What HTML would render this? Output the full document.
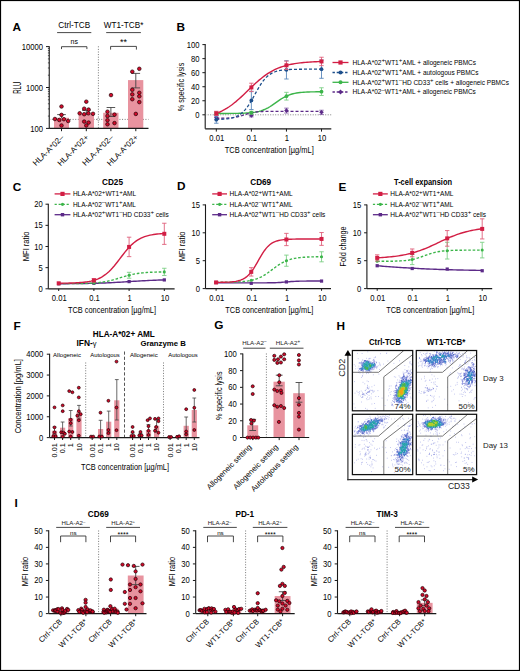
<!DOCTYPE html>
<html><head><meta charset="utf-8"><title>figure</title>
<style>html,body{margin:0;padding:0;background:#fff;width:520px;height:671px;overflow:hidden}
text{font-family:"Liberation Sans", sans-serif}</style></head>
<body>
<svg width="520" height="671" viewBox="0 0 520 671" font-family='"Liberation Sans", sans-serif' style="display:block">
<rect x="0" y="0" width="520" height="671" fill="#fff"/>
<rect x="0.5" y="0.5" width="519" height="670" fill="none" stroke="#000" stroke-width="1.2"/>
<text x="12.6" y="30.5" font-size="11.8" font-weight="bold" fill="#000">A</text>
<text x="74.2" y="27.6" font-size="8.2" text-anchor="middle">Ctrl-TCB</text>
<line x1="57.1" y1="32.6" x2="91.3" y2="32.6" stroke="#333" stroke-width="0.9"/>
<text x="123.6" y="27.6" font-size="8.2" text-anchor="middle">WT1-TCB*</text>
<line x1="106.2" y1="32.6" x2="140.9" y2="32.6" stroke="#333" stroke-width="0.9"/>
<line x1="49.25" y1="46.2" x2="49.25" y2="128.4" stroke="#1a1a1a" stroke-width="1.1"/>
<line x1="47.9" y1="116.09" x2="49.25" y2="116.09" stroke="#1a1a1a" stroke-width="0.7"/>
<line x1="47.9" y1="108.89" x2="49.25" y2="108.89" stroke="#1a1a1a" stroke-width="0.7"/>
<line x1="47.9" y1="103.78" x2="49.25" y2="103.78" stroke="#1a1a1a" stroke-width="0.7"/>
<line x1="47.9" y1="99.81" x2="49.25" y2="99.81" stroke="#1a1a1a" stroke-width="0.7"/>
<line x1="47.9" y1="96.57" x2="49.25" y2="96.57" stroke="#1a1a1a" stroke-width="0.7"/>
<line x1="47.9" y1="93.84" x2="49.25" y2="93.84" stroke="#1a1a1a" stroke-width="0.7"/>
<line x1="47.9" y1="91.46" x2="49.25" y2="91.46" stroke="#1a1a1a" stroke-width="0.7"/>
<line x1="47.9" y1="89.37" x2="49.25" y2="89.37" stroke="#1a1a1a" stroke-width="0.7"/>
<line x1="47.9" y1="75.19" x2="49.25" y2="75.19" stroke="#1a1a1a" stroke-width="0.7"/>
<line x1="47.9" y1="67.99" x2="49.25" y2="67.99" stroke="#1a1a1a" stroke-width="0.7"/>
<line x1="47.9" y1="62.88" x2="49.25" y2="62.88" stroke="#1a1a1a" stroke-width="0.7"/>
<line x1="47.9" y1="58.91" x2="49.25" y2="58.91" stroke="#1a1a1a" stroke-width="0.7"/>
<line x1="47.9" y1="55.67" x2="49.25" y2="55.67" stroke="#1a1a1a" stroke-width="0.7"/>
<line x1="47.9" y1="52.94" x2="49.25" y2="52.94" stroke="#1a1a1a" stroke-width="0.7"/>
<line x1="47.9" y1="50.56" x2="49.25" y2="50.56" stroke="#1a1a1a" stroke-width="0.7"/>
<line x1="47.9" y1="48.47" x2="49.25" y2="48.47" stroke="#1a1a1a" stroke-width="0.7"/>
<line x1="46" y1="46.6" x2="49.25" y2="46.6" stroke="#1a1a1a" stroke-width="1"/>
<text x="43" y="49.9" font-size="8.5" text-anchor="end" textLength="21.27" lengthAdjust="spacingAndGlyphs">10000</text>
<line x1="46" y1="87.5" x2="49.25" y2="87.5" stroke="#1a1a1a" stroke-width="1"/>
<text x="43" y="90.8" font-size="8.5" text-anchor="end" textLength="17.02" lengthAdjust="spacingAndGlyphs">1000</text>
<line x1="46" y1="128.4" x2="49.25" y2="128.4" stroke="#1a1a1a" stroke-width="1"/>
<text x="43" y="131.7" font-size="8.5" text-anchor="end" textLength="12.76" lengthAdjust="spacingAndGlyphs">100</text>
<text x="21" y="87.7" font-size="10" text-anchor="middle" textLength="12.2" lengthAdjust="spacingAndGlyphs" transform="rotate(-90 21 87.7)">RLU</text>
<line x1="49.25" y1="119.4" x2="148.5" y2="119.4" stroke="#555" stroke-width="0.8" stroke-dasharray="1,1.6"/>
<line x1="98.4" y1="46.3" x2="98.4" y2="128.4" stroke="#555" stroke-width="0.8" stroke-dasharray="1,1.6"/>
<circle cx="98.4" cy="119.4" r="1.1" fill="#fff" stroke="#777" stroke-width="0.5"/>
<rect x="54" y="117.8" width="15" height="10.6" fill="#e8939f"/>
<rect x="78.6" y="114" width="15.4" height="14.4" fill="#e8939f"/>
<rect x="103.2" y="112.8" width="15.3" height="15.6" fill="#e8939f"/>
<rect x="128" y="80.1" width="15.3" height="48.3" fill="#e8939f"/>
<line x1="61.5" y1="114.6" x2="61.5" y2="118" stroke="#444444" stroke-width="0.9"/>
<line x1="57.2" y1="114.6" x2="65.8" y2="114.6" stroke="#444444" stroke-width="0.9"/>
<line x1="86.3" y1="110.3" x2="86.3" y2="115" stroke="#444444" stroke-width="0.9"/>
<line x1="82" y1="110.3" x2="90.6" y2="110.3" stroke="#444444" stroke-width="0.9"/>
<line x1="110.9" y1="107.5" x2="110.9" y2="116.5" stroke="#444444" stroke-width="0.9"/>
<line x1="106.6" y1="107.5" x2="115.2" y2="107.5" stroke="#444444" stroke-width="0.9"/>
<line x1="106.6" y1="116.5" x2="115.2" y2="116.5" stroke="#444444" stroke-width="0.9"/>
<line x1="135.8" y1="73.4" x2="135.8" y2="87.9" stroke="#444444" stroke-width="0.9"/>
<line x1="131.5" y1="73.4" x2="140.1" y2="73.4" stroke="#444444" stroke-width="0.9"/>
<line x1="131.5" y1="87.9" x2="140.1" y2="87.9" stroke="#444444" stroke-width="0.9"/>
<line x1="49.25" y1="128.4" x2="148.5" y2="128.4" stroke="#1a1a1a" stroke-width="1.2"/>
<line x1="61.5" y1="128.4" x2="61.5" y2="131.2" stroke="#1a1a1a" stroke-width="1"/>
<line x1="86.3" y1="128.4" x2="86.3" y2="131.2" stroke="#1a1a1a" stroke-width="1"/>
<line x1="110.9" y1="128.4" x2="110.9" y2="131.2" stroke="#1a1a1a" stroke-width="1"/>
<line x1="135.8" y1="128.4" x2="135.8" y2="131.2" stroke="#1a1a1a" stroke-width="1"/>
<g fill="#d20a2a" stroke="#220004" stroke-width="0.7">
<circle cx="61.5" cy="106.5" r="1.8"/>
<circle cx="61.5" cy="114.9" r="1.8"/>
<circle cx="54.9" cy="119" r="1.8"/>
<circle cx="59.3" cy="120" r="1.8"/>
<circle cx="63.9" cy="119.2" r="1.8"/>
<circle cx="68.2" cy="121" r="1.8"/>
<circle cx="61.5" cy="125.5" r="1.8"/>
<circle cx="86.3" cy="101.7" r="1.8"/>
<circle cx="84.2" cy="108.7" r="1.8"/>
<circle cx="88.6" cy="109.6" r="1.8"/>
<circle cx="79.7" cy="113.3" r="1.8"/>
<circle cx="84.2" cy="114.2" r="1.8"/>
<circle cx="88.4" cy="113.3" r="1.8"/>
<circle cx="93" cy="113.8" r="1.8"/>
<circle cx="84.2" cy="121.6" r="1.8"/>
<circle cx="88.6" cy="122.6" r="1.8"/>
<circle cx="86.3" cy="125.5" r="1.8"/>
<circle cx="111" cy="95.1" r="1.8"/>
<circle cx="107.5" cy="111.7" r="1.8"/>
<circle cx="107.5" cy="116" r="1.8"/>
<circle cx="114.5" cy="114.6" r="1.8"/>
<circle cx="107.5" cy="120.2" r="1.8"/>
<circle cx="107.5" cy="124.3" r="1.8"/>
<circle cx="114.5" cy="123.1" r="1.8"/>
<circle cx="139.3" cy="68.8" r="1.8"/>
<circle cx="132.3" cy="71.7" r="1.8"/>
<circle cx="132.3" cy="89.8" r="1.8"/>
<circle cx="139.3" cy="92.8" r="1.8"/>
<circle cx="132.3" cy="94.4" r="1.8"/>
<circle cx="139.3" cy="96.3" r="1.8"/>
<circle cx="132.3" cy="99.2" r="1.8"/>
<circle cx="139.3" cy="102.1" r="1.8"/>
<circle cx="135.8" cy="113.9" r="1.8"/>
</g>
<path d="M61.5 49.1V46.7H86.9V49.1" fill="none" stroke="#333" stroke-width="0.9"/>
<text x="74.2" y="44.4" font-size="7" text-anchor="middle">ns</text>
<path d="M110.6 49.6V46.4H136.4V49.6" fill="none" stroke="#333" stroke-width="0.9"/>
<text x="123.5" y="44.5" font-size="9" text-anchor="middle">**</text>
<text x="64.4" y="138" font-size="8" text-anchor="end" transform="rotate(-45 64.4 138)">HLA-A*02–</text>
<text x="89.2" y="138" font-size="8" text-anchor="end" transform="rotate(-45 89.2 138)">HLA-A*02+</text>
<text x="113.8" y="138" font-size="8" text-anchor="end" transform="rotate(-45 113.8 138)">HLA-A*02–</text>
<text x="138.7" y="138" font-size="8" text-anchor="end" transform="rotate(-45 138.7 138)">HLA-A*02+</text>
<text x="176.4" y="30.6" font-size="11.8" font-weight="bold" fill="#000">B</text>
<line x1="205.2" y1="44.1" x2="205.2" y2="128.8" stroke="#1a1a1a" stroke-width="1.1"/>
<line x1="202.4" y1="44.6" x2="205.2" y2="44.6" stroke="#1a1a1a" stroke-width="1"/>
<text x="199.6" y="47.6" font-size="8.5" text-anchor="end" textLength="12.76" lengthAdjust="spacingAndGlyphs">100</text>
<line x1="202.4" y1="58.64" x2="205.2" y2="58.64" stroke="#1a1a1a" stroke-width="1"/>
<text x="199.6" y="61.64" font-size="8.5" text-anchor="end" textLength="8.51" lengthAdjust="spacingAndGlyphs">80</text>
<line x1="202.4" y1="72.68" x2="205.2" y2="72.68" stroke="#1a1a1a" stroke-width="1"/>
<text x="199.6" y="75.68" font-size="8.5" text-anchor="end" textLength="8.51" lengthAdjust="spacingAndGlyphs">60</text>
<line x1="202.4" y1="86.72" x2="205.2" y2="86.72" stroke="#1a1a1a" stroke-width="1"/>
<text x="199.6" y="89.72" font-size="8.5" text-anchor="end" textLength="8.51" lengthAdjust="spacingAndGlyphs">40</text>
<line x1="202.4" y1="100.76" x2="205.2" y2="100.76" stroke="#1a1a1a" stroke-width="1"/>
<text x="199.6" y="103.76" font-size="8.5" text-anchor="end" textLength="8.51" lengthAdjust="spacingAndGlyphs">20</text>
<line x1="202.4" y1="114.8" x2="205.2" y2="114.8" stroke="#1a1a1a" stroke-width="1"/>
<text x="199.6" y="117.8" font-size="8.5" text-anchor="end" textLength="4.25" lengthAdjust="spacingAndGlyphs">0</text>
<line x1="205.2" y1="128.8" x2="331.3" y2="128.8" stroke="#1a1a1a" stroke-width="1.2"/>
<line x1="216.3" y1="128.8" x2="216.3" y2="131.6" stroke="#1a1a1a" stroke-width="1"/>
<line x1="251.37" y1="128.8" x2="251.37" y2="131.6" stroke="#1a1a1a" stroke-width="1"/>
<line x1="286.44" y1="128.8" x2="286.44" y2="131.6" stroke="#1a1a1a" stroke-width="1"/>
<line x1="321.51" y1="128.8" x2="321.51" y2="131.6" stroke="#1a1a1a" stroke-width="1"/>
<text x="216.7" y="141" font-size="8.5" text-anchor="middle" textLength="14.89" lengthAdjust="spacingAndGlyphs">0.01</text>
<text x="251.77" y="141" font-size="8.5" text-anchor="middle" textLength="10.63" lengthAdjust="spacingAndGlyphs">0.1</text>
<text x="286.84" y="141" font-size="8.5" text-anchor="middle" textLength="4.25" lengthAdjust="spacingAndGlyphs">1</text>
<text x="321.91" y="141" font-size="8.5" text-anchor="middle" textLength="8.51" lengthAdjust="spacingAndGlyphs">10</text>
<text x="269.3" y="153.4" font-size="9.3" text-anchor="middle" textLength="89" lengthAdjust="spacingAndGlyphs">TCB concentration [µg/mL]</text>
<text x="183.8" y="87" font-size="8.6" text-anchor="middle" textLength="48.5" lengthAdjust="spacingAndGlyphs" transform="rotate(-90 183.8 87)">% specific lysis</text>
<line x1="205.2" y1="114.8" x2="332" y2="114.8" stroke="#666" stroke-width="0.8" stroke-dasharray="1,1.5"/>
<polyline points="216.3,113.47 218.08,113.47 219.87,113.46 221.65,113.46 223.43,113.46 225.22,113.45 227,113.44 228.78,113.43 230.57,113.42 232.35,113.41 234.13,113.39 235.92,113.37 237.7,113.34 239.48,113.3 241.27,113.25 243.05,113.19 244.83,113.12 246.61,113.02 248.4,112.91 250.18,112.76 251.96,112.58 253.75,112.35 255.53,112.08 257.31,111.74 259.1,111.32 260.88,110.82 262.66,110.23 264.45,109.52 266.23,108.71 268.01,107.78 269.8,106.74 271.58,105.61 273.36,104.4 275.15,103.14 276.93,101.86 278.71,100.61 280.5,99.4 282.28,98.28 284.06,97.26 285.85,96.34 287.63,95.54 289.41,94.86 291.2,94.27 292.98,93.78 294.76,93.38 296.54,93.05 298.33,92.78 300.11,92.56 301.89,92.38 303.68,92.24 305.46,92.13 307.24,92.04 309.03,91.97 310.81,91.91 312.59,91.86 314.38,91.83 316.16,91.8 317.94,91.78 319.73,91.76 321.51,91.74" fill="none" stroke="#3cb54a" stroke-width="1.4"/>
<polyline points="216.3,118.28 218.08,118.27 219.87,118.25 221.65,118.23 223.43,118.2 225.22,118.15 227,118.09 228.78,118 230.57,117.87 232.35,117.71 234.13,117.48 235.92,117.19 237.7,116.82 239.48,116.37 241.27,115.84 243.05,115.25 244.83,114.64 246.61,114.03 248.4,113.47 250.18,112.98 251.96,112.57 253.75,112.24 255.53,111.99 257.31,111.8 259.1,111.65 260.88,111.55 262.66,111.48 264.45,111.42 266.23,111.38 268.01,111.36 269.8,111.34 271.58,111.32 273.36,111.31 275.15,111.31 276.93,111.3 278.71,111.3 280.5,111.3 282.28,111.29 284.06,111.29 285.85,111.29 287.63,111.29 289.41,111.29 291.2,111.29 292.98,111.29 294.76,111.29 296.54,111.29 298.33,111.29 300.11,111.29 301.89,111.29 303.68,111.29 305.46,111.29 307.24,111.29 309.03,111.29 310.81,111.29 312.59,111.29 314.38,111.29 316.16,111.29 317.94,111.29 319.73,111.29 321.51,111.29" fill="none" stroke="#5c2a88" stroke-width="1.3" stroke-dasharray="3,2"/>
<polyline points="216.3,119.52 218.08,119.47 219.87,119.39 221.65,119.3 223.43,119.18 225.22,119.03 227,118.83 228.78,118.57 230.57,118.25 232.35,117.83 234.13,117.31 235.92,116.65 237.7,115.81 239.48,114.78 241.27,113.51 243.05,111.96 244.83,110.12 246.61,107.96 248.4,105.47 250.18,102.7 251.96,99.68 253.75,96.5 255.53,93.25 257.31,90.04 259.1,86.97 260.88,84.12 262.66,81.56 264.45,79.31 266.23,77.38 268.01,75.76 269.8,74.42 271.58,73.33 273.36,72.44 275.15,71.74 276.93,71.18 278.71,70.74 280.5,70.39 282.28,70.12 284.06,69.91 285.85,69.74 287.63,69.61 289.41,69.51 291.2,69.43 292.98,69.37 294.76,69.33 296.54,69.29 298.33,69.26 300.11,69.24 301.89,69.23 303.68,69.21 305.46,69.2 307.24,69.2 309.03,69.19 310.81,69.19 312.59,69.18 314.38,69.18 316.16,69.18 317.94,69.18 319.73,69.17 321.51,69.17" fill="none" stroke="#1d4f8c" stroke-width="1.3" stroke-dasharray="3,2"/>
<polyline points="216.3,113.51 218.08,112.79 219.87,112 221.65,111.15 223.43,110.22 225.22,109.22 227,108.14 228.78,106.98 230.57,105.75 232.35,104.44 234.13,103.05 235.92,101.6 237.7,100.08 239.48,98.5 241.27,96.87 243.05,95.2 244.83,93.5 246.61,91.78 248.4,90.05 250.18,88.33 251.96,86.62 253.75,84.94 255.53,83.29 257.31,81.69 259.1,80.15 260.88,78.67 262.66,77.25 264.45,75.91 266.23,74.65 268.01,73.46 269.8,72.35 271.58,71.32 273.36,70.36 275.15,69.48 276.93,68.66 278.71,67.92 280.5,67.24 282.28,66.62 284.06,66.05 285.85,65.54 287.63,65.08 289.41,64.66 291.2,64.28 292.98,63.94 294.76,63.63 296.54,63.36 298.33,63.11 300.11,62.89 301.89,62.69 303.68,62.51 305.46,62.35 307.24,62.21 309.03,62.08 310.81,61.97 312.59,61.86 314.38,61.77 316.16,61.69 317.94,61.62 319.73,61.56 321.51,61.5" fill="none" stroke="#d21e44" stroke-width="1.4"/>
<line x1="216.3" y1="119.71" x2="216.3" y2="115.5" stroke="#8a66aa" stroke-width="0.9"/>
<line x1="214.1" y1="119.71" x2="218.5" y2="119.71" stroke="#8a66aa" stroke-width="0.9"/>
<line x1="214.1" y1="115.5" x2="218.5" y2="115.5" stroke="#8a66aa" stroke-width="0.9"/>
<line x1="251.37" y1="116.91" x2="251.37" y2="114.1" stroke="#8a66aa" stroke-width="0.9"/>
<line x1="249.17" y1="116.91" x2="253.57" y2="116.91" stroke="#8a66aa" stroke-width="0.9"/>
<line x1="249.17" y1="114.1" x2="253.57" y2="114.1" stroke="#8a66aa" stroke-width="0.9"/>
<line x1="286.44" y1="113.05" x2="286.44" y2="108.13" stroke="#8a66aa" stroke-width="0.9"/>
<line x1="284.24" y1="113.05" x2="288.64" y2="113.05" stroke="#8a66aa" stroke-width="0.9"/>
<line x1="284.24" y1="108.13" x2="288.64" y2="108.13" stroke="#8a66aa" stroke-width="0.9"/>
<line x1="321.51" y1="114.45" x2="321.51" y2="110.24" stroke="#8a66aa" stroke-width="0.9"/>
<line x1="319.31" y1="114.45" x2="323.71" y2="114.45" stroke="#8a66aa" stroke-width="0.9"/>
<line x1="319.31" y1="110.24" x2="323.71" y2="110.24" stroke="#8a66aa" stroke-width="0.9"/>
<path d="M216.3 115.33L218.58 117.61L216.3 119.89L214.02 117.61Z" fill="#5c2a88"/>
<path d="M251.37 113.22L253.65 115.5L251.37 117.78L249.09 115.5Z" fill="#5c2a88"/>
<path d="M286.44 108.31L288.72 110.59L286.44 112.87L284.16 110.59Z" fill="#5c2a88"/>
<path d="M321.51 110.06L323.79 112.34L321.51 114.62L319.23 112.34Z" fill="#5c2a88"/>
<line x1="216.3" y1="114.8" x2="216.3" y2="111.99" stroke="#7ccf85" stroke-width="0.9"/>
<line x1="214.1" y1="114.8" x2="218.5" y2="114.8" stroke="#7ccf85" stroke-width="0.9"/>
<line x1="214.1" y1="111.99" x2="218.5" y2="111.99" stroke="#7ccf85" stroke-width="0.9"/>
<line x1="251.37" y1="114.1" x2="251.37" y2="111.29" stroke="#7ccf85" stroke-width="0.9"/>
<line x1="249.17" y1="114.1" x2="253.57" y2="114.1" stroke="#7ccf85" stroke-width="0.9"/>
<line x1="249.17" y1="111.29" x2="253.57" y2="111.29" stroke="#7ccf85" stroke-width="0.9"/>
<line x1="286.44" y1="100.06" x2="286.44" y2="92.34" stroke="#7ccf85" stroke-width="0.9"/>
<line x1="284.24" y1="100.06" x2="288.64" y2="100.06" stroke="#7ccf85" stroke-width="0.9"/>
<line x1="284.24" y1="92.34" x2="288.64" y2="92.34" stroke="#7ccf85" stroke-width="0.9"/>
<line x1="321.51" y1="95.5" x2="321.51" y2="87.77" stroke="#7ccf85" stroke-width="0.9"/>
<line x1="319.31" y1="95.5" x2="323.71" y2="95.5" stroke="#7ccf85" stroke-width="0.9"/>
<line x1="319.31" y1="87.77" x2="323.71" y2="87.77" stroke="#7ccf85" stroke-width="0.9"/>
<circle cx="216.3" cy="113.4" r="1.9" fill="#3cb54a"/>
<circle cx="251.37" cy="112.69" r="1.9" fill="#3cb54a"/>
<circle cx="286.44" cy="96.2" r="1.9" fill="#3cb54a"/>
<circle cx="321.51" cy="91.63" r="1.9" fill="#3cb54a"/>
<line x1="216.3" y1="123.22" x2="216.3" y2="116.2" stroke="#5a88bb" stroke-width="0.9"/>
<line x1="214.1" y1="123.22" x2="218.5" y2="123.22" stroke="#5a88bb" stroke-width="0.9"/>
<line x1="214.1" y1="116.2" x2="218.5" y2="116.2" stroke="#5a88bb" stroke-width="0.9"/>
<line x1="251.37" y1="109.53" x2="251.37" y2="91.28" stroke="#5a88bb" stroke-width="0.9"/>
<line x1="249.17" y1="109.53" x2="253.57" y2="109.53" stroke="#5a88bb" stroke-width="0.9"/>
<line x1="249.17" y1="91.28" x2="253.57" y2="91.28" stroke="#5a88bb" stroke-width="0.9"/>
<line x1="286.44" y1="79" x2="286.44" y2="60.75" stroke="#5a88bb" stroke-width="0.9"/>
<line x1="284.24" y1="79" x2="288.64" y2="79" stroke="#5a88bb" stroke-width="0.9"/>
<line x1="284.24" y1="60.75" x2="288.64" y2="60.75" stroke="#5a88bb" stroke-width="0.9"/>
<line x1="321.51" y1="78.3" x2="321.51" y2="60.04" stroke="#5a88bb" stroke-width="0.9"/>
<line x1="319.31" y1="78.3" x2="323.71" y2="78.3" stroke="#5a88bb" stroke-width="0.9"/>
<line x1="319.31" y1="60.04" x2="323.71" y2="60.04" stroke="#5a88bb" stroke-width="0.9"/>
<circle cx="216.3" cy="119.71" r="1.9" fill="#1d4f8c"/>
<circle cx="251.37" cy="100.41" r="1.9" fill="#1d4f8c"/>
<circle cx="286.44" cy="69.87" r="1.9" fill="#1d4f8c"/>
<circle cx="321.51" cy="69.17" r="1.9" fill="#1d4f8c"/>
<line x1="216.3" y1="115.5" x2="216.3" y2="111.29" stroke="#e0607a" stroke-width="0.9"/>
<line x1="214.1" y1="115.5" x2="218.5" y2="115.5" stroke="#e0607a" stroke-width="0.9"/>
<line x1="214.1" y1="111.29" x2="218.5" y2="111.29" stroke="#e0607a" stroke-width="0.9"/>
<line x1="251.37" y1="91.63" x2="251.37" y2="83.21" stroke="#e0607a" stroke-width="0.9"/>
<line x1="249.17" y1="91.63" x2="253.57" y2="91.63" stroke="#e0607a" stroke-width="0.9"/>
<line x1="249.17" y1="83.21" x2="253.57" y2="83.21" stroke="#e0607a" stroke-width="0.9"/>
<line x1="286.44" y1="69.52" x2="286.44" y2="61.1" stroke="#e0607a" stroke-width="0.9"/>
<line x1="284.24" y1="69.52" x2="288.64" y2="69.52" stroke="#e0607a" stroke-width="0.9"/>
<line x1="284.24" y1="61.1" x2="288.64" y2="61.1" stroke="#e0607a" stroke-width="0.9"/>
<line x1="321.51" y1="65.66" x2="321.51" y2="57.24" stroke="#e0607a" stroke-width="0.9"/>
<line x1="319.31" y1="65.66" x2="323.71" y2="65.66" stroke="#e0607a" stroke-width="0.9"/>
<line x1="319.31" y1="57.24" x2="323.71" y2="57.24" stroke="#e0607a" stroke-width="0.9"/>
<rect x="214.31" y="111.4" width="3.99" height="3.99" fill="#d21e44"/>
<rect x="249.38" y="85.43" width="3.99" height="3.99" fill="#d21e44"/>
<rect x="284.44" y="63.31" width="3.99" height="3.99" fill="#d21e44"/>
<rect x="319.51" y="59.45" width="3.99" height="3.99" fill="#d21e44"/>
<line x1="332.5" y1="62.5" x2="348.5" y2="62.5" stroke="#d21e44" stroke-width="1.3"/>
<rect x="338.4" y="60.4" width="4.2" height="4.2" fill="#d21e44"/>
<text x="352.5" y="64.84" font-size="6.5">HLA-A*02<tspan font-size="6.17" dy="-2.73">+</tspan><tspan dy="2.73">WT1</tspan><tspan font-size="6.17" dy="-2.73">+</tspan><tspan dy="2.73">AML + allogeneic PBMCs</tspan></text>
<line x1="332.5" y1="72.5" x2="348.5" y2="72.5" stroke="#1d4f8c" stroke-width="1.3" stroke-dasharray="2.4,1.8"/>
<circle cx="340.5" cy="72.5" r="2" fill="#1d4f8c"/>
<text x="352.5" y="74.84" font-size="6.5">HLA-A*02<tspan font-size="6.17" dy="-2.73">+</tspan><tspan dy="2.73">WT1</tspan><tspan font-size="6.17" dy="-2.73">+</tspan><tspan dy="2.73">AML + autologous PBMCs</tspan></text>
<line x1="332.5" y1="82.3" x2="348.5" y2="82.3" stroke="#3cb54a" stroke-width="1.3"/>
<circle cx="340.5" cy="82.3" r="2" fill="#3cb54a"/>
<text x="352.5" y="84.64" font-size="6.5">HLA-A*02<tspan font-size="6.17" dy="-2.73">+</tspan><tspan dy="2.73">WT1</tspan><tspan font-size="6.17" dy="-2.73">–</tspan><tspan dy="2.73">HD CD33<tspan font-size="6.1" dy="-2.7">+</tspan><tspan dy="2.7"> cells + allogeneic PBMCs</tspan></tspan></text>
<line x1="332.5" y1="92" x2="348.5" y2="92" stroke="#5c2a88" stroke-width="1.3" stroke-dasharray="2.4,1.8"/>
<path d="M340.5 89.6L342.9 92L340.5 94.4L338.1 92Z" fill="#5c2a88"/>
<text x="352.5" y="94.34" font-size="6.5">HLA-A*02<tspan font-size="6.17" dy="-2.73">–</tspan><tspan dy="2.73">WT1</tspan><tspan font-size="6.17" dy="-2.73">+</tspan><tspan dy="2.73">AML + allogeneic PBMCs</tspan></text>
<text x="12.8" y="190.6" font-size="11.8" font-weight="bold" fill="#000">C</text>
<line x1="48.3" y1="203.7" x2="48.3" y2="288.8" stroke="#1a1a1a" stroke-width="1.1"/>
<line x1="45.5" y1="288.8" x2="48.3" y2="288.8" stroke="#1a1a1a" stroke-width="1"/>
<text x="42.7" y="291.8" font-size="8.5" text-anchor="end" textLength="4.25" lengthAdjust="spacingAndGlyphs">0</text>
<line x1="45.5" y1="267.65" x2="48.3" y2="267.65" stroke="#1a1a1a" stroke-width="1"/>
<text x="42.7" y="270.65" font-size="8.5" text-anchor="end" textLength="4.25" lengthAdjust="spacingAndGlyphs">5</text>
<line x1="45.5" y1="246.5" x2="48.3" y2="246.5" stroke="#1a1a1a" stroke-width="1"/>
<text x="42.7" y="249.5" font-size="8.5" text-anchor="end" textLength="8.51" lengthAdjust="spacingAndGlyphs">10</text>
<line x1="45.5" y1="225.35" x2="48.3" y2="225.35" stroke="#1a1a1a" stroke-width="1"/>
<text x="42.7" y="228.35" font-size="8.5" text-anchor="end" textLength="8.51" lengthAdjust="spacingAndGlyphs">15</text>
<line x1="45.5" y1="204.2" x2="48.3" y2="204.2" stroke="#1a1a1a" stroke-width="1"/>
<text x="42.7" y="207.2" font-size="8.5" text-anchor="end" textLength="8.51" lengthAdjust="spacingAndGlyphs">20</text>
<line x1="48.3" y1="288.8" x2="174.6" y2="288.8" stroke="#1a1a1a" stroke-width="1.2"/>
<line x1="58.7" y1="288.8" x2="58.7" y2="291" stroke="#1a1a1a" stroke-width="1"/>
<line x1="93.9" y1="288.8" x2="93.9" y2="291" stroke="#1a1a1a" stroke-width="1"/>
<line x1="129.1" y1="288.8" x2="129.1" y2="291" stroke="#1a1a1a" stroke-width="1"/>
<line x1="164.3" y1="288.8" x2="164.3" y2="291" stroke="#1a1a1a" stroke-width="1"/>
<text x="59.3" y="300.8" font-size="8.5" text-anchor="middle" textLength="14.89" lengthAdjust="spacingAndGlyphs">0.01</text>
<text x="94.5" y="300.8" font-size="8.5" text-anchor="middle" textLength="10.63" lengthAdjust="spacingAndGlyphs">0.1</text>
<text x="129.7" y="300.8" font-size="8.5" text-anchor="middle" textLength="4.25" lengthAdjust="spacingAndGlyphs">1</text>
<text x="164.9" y="300.8" font-size="8.5" text-anchor="middle" textLength="8.51" lengthAdjust="spacingAndGlyphs">10</text>
<text x="112" y="312.7" font-size="9.3" text-anchor="middle" textLength="88" lengthAdjust="spacingAndGlyphs">TCB concentration [µg/mL]</text>
<text x="28.6" y="246.4" font-size="9.6" text-anchor="middle" textLength="29.6" lengthAdjust="spacingAndGlyphs" transform="rotate(-90 28.6 246.4)">MFI ratio</text>
<text x="112.5" y="184.6" font-size="8.2" text-anchor="middle" font-weight="bold" fill="#000">CD25</text>
<line x1="54.6" y1="193.9" x2="70.4" y2="193.9" stroke="#d21e44" stroke-width="1.3"/>
<rect x="60.4" y="191.8" width="4.2" height="4.2" fill="#d21e44"/>
<text x="72.9" y="196.24" font-size="6.5">HLA-A*02<tspan font-size="6.17" dy="-2.73">+</tspan><tspan dy="2.73">WT1</tspan><tspan font-size="6.17" dy="-2.73">+</tspan><tspan dy="2.73">AML</tspan></text>
<line x1="54.6" y1="204.3" x2="70.4" y2="204.3" stroke="#3cb54a" stroke-width="1.3" stroke-dasharray="2.2,1.8"/>
<circle cx="62.5" cy="204.3" r="1.6" fill="#3cb54a"/>
<text x="72.9" y="206.64" font-size="6.5">HLA-A*02<tspan font-size="6.17" dy="-2.73">–</tspan><tspan dy="2.73">WT1</tspan><tspan font-size="6.17" dy="-2.73">+</tspan><tspan dy="2.73">AML</tspan></text>
<line x1="54.6" y1="214.7" x2="70.4" y2="214.7" stroke="#5c2a88" stroke-width="1.3"/>
<rect x="60.8" y="213" width="3.4" height="3.4" fill="#5c2a88"/>
<text x="72.9" y="217.04" font-size="6.5">HLA-A*02<tspan font-size="6.17" dy="-2.73">+</tspan><tspan dy="2.73">WT1</tspan><tspan font-size="6.17" dy="-2.73">–</tspan><tspan dy="2.73">HD CD33<tspan font-size="6.1" dy="-2.7">+</tspan><tspan dy="2.7"> cells</tspan></tspan></text>
<polyline points="58.7,283.72 60.49,283.71 62.28,283.71 64.07,283.7 65.86,283.69 67.65,283.68 69.44,283.66 71.23,283.65 73.02,283.64 74.81,283.62 76.6,283.6 78.39,283.58 80.18,283.56 81.97,283.53 83.76,283.51 85.55,283.48 87.34,283.45 89.13,283.41 90.92,283.37 92.71,283.33 94.5,283.29 96.29,283.24 98.08,283.19 99.87,283.13 101.66,283.07 103.45,283 105.24,282.93 107.03,282.86 108.82,282.78 110.61,282.69 112.39,282.6 114.18,282.51 115.97,282.41 117.76,282.31 119.55,282.21 121.34,282.1 123.13,281.99 124.92,281.88 126.71,281.76 128.5,281.65 130.29,281.53 132.08,281.42 133.87,281.31 135.66,281.19 137.45,281.08 139.24,280.98 141.03,280.87 142.82,280.77 144.61,280.68 146.4,280.59 148.19,280.5 149.98,280.42 151.77,280.34 153.56,280.26 155.35,280.2 157.14,280.13 158.93,280.07 160.72,280.02 162.51,279.96 164.3,279.92" fill="none" stroke="#5c2a88" stroke-width="1.4"/>
<polyline points="58.7,283.66 60.49,283.65 62.28,283.65 64.07,283.64 65.86,283.64 67.65,283.63 69.44,283.62 71.23,283.61 73.02,283.59 74.81,283.57 76.6,283.55 78.39,283.53 80.18,283.5 81.97,283.46 83.76,283.42 85.55,283.37 87.34,283.31 89.13,283.24 90.92,283.15 92.71,283.05 94.5,282.93 96.29,282.79 98.08,282.62 99.87,282.43 101.66,282.2 103.45,281.94 105.24,281.64 107.03,281.31 108.82,280.93 110.61,280.52 112.39,280.07 114.18,279.58 115.97,279.06 117.76,278.53 119.55,277.97 121.34,277.42 123.13,276.87 124.92,276.34 126.71,275.82 128.5,275.34 130.29,274.9 132.08,274.49 133.87,274.12 135.66,273.79 137.45,273.5 139.24,273.25 141.03,273.03 142.82,272.84 144.61,272.67 146.4,272.54 148.19,272.42 149.98,272.32 151.77,272.24 153.56,272.17 155.35,272.11 157.14,272.06 158.93,272.02 160.72,271.98 162.51,271.95 164.3,271.93" fill="none" stroke="#3cb54a" stroke-width="1.4" stroke-dasharray="2.6,1.8"/>
<polyline points="58.7,283.21 60.49,283.2 62.28,283.18 64.07,283.15 65.86,283.13 67.65,283.09 69.44,283.05 71.23,283 73.02,282.94 74.81,282.87 76.6,282.78 78.39,282.68 80.18,282.55 81.97,282.4 83.76,282.22 85.55,282 87.34,281.75 89.13,281.44 90.92,281.08 92.71,280.64 94.5,280.13 96.29,279.53 98.08,278.82 99.87,278 101.66,277.04 103.45,275.94 105.24,274.68 107.03,273.26 108.82,271.67 110.61,269.92 112.39,268 114.18,265.94 115.97,263.75 117.76,261.47 119.55,259.14 121.34,256.78 123.13,254.45 124.92,252.19 126.71,250.02 128.5,247.98 130.29,246.09 132.08,244.36 133.87,242.8 135.66,241.41 137.45,240.18 139.24,239.1 141.03,238.17 142.82,237.37 144.61,236.68 146.4,236.09 148.19,235.59 149.98,235.17 151.77,234.82 153.56,234.52 155.35,234.27 157.14,234.06 158.93,233.88 160.72,233.74 162.51,233.62 164.3,233.52" fill="none" stroke="#d21e44" stroke-width="1.4"/>
<rect x="57.09" y="282.11" width="3.23" height="3.23" fill="#5c2a88"/>
<rect x="92.29" y="281.69" width="3.23" height="3.23" fill="#5c2a88"/>
<rect x="127.49" y="279.99" width="3.23" height="3.23" fill="#5c2a88"/>
<rect x="162.69" y="278.3" width="3.23" height="3.23" fill="#5c2a88"/>
<line x1="129.1" y1="278.23" x2="129.1" y2="272.3" stroke="#7ccf85" stroke-width="0.9"/>
<line x1="126.9" y1="278.23" x2="131.3" y2="278.23" stroke="#7ccf85" stroke-width="0.9"/>
<line x1="126.9" y1="272.3" x2="131.3" y2="272.3" stroke="#7ccf85" stroke-width="0.9"/>
<line x1="164.3" y1="275.48" x2="164.3" y2="268.28" stroke="#7ccf85" stroke-width="0.9"/>
<line x1="162.1" y1="275.48" x2="166.5" y2="275.48" stroke="#7ccf85" stroke-width="0.9"/>
<line x1="162.1" y1="268.28" x2="166.5" y2="268.28" stroke="#7ccf85" stroke-width="0.9"/>
<circle cx="58.7" cy="283.72" r="1.52" fill="#3cb54a"/>
<circle cx="93.9" cy="282.88" r="1.52" fill="#3cb54a"/>
<circle cx="129.1" cy="275.26" r="1.52" fill="#3cb54a"/>
<circle cx="164.3" cy="271.88" r="1.52" fill="#3cb54a"/>
<line x1="93.9" y1="282.03" x2="93.9" y2="278.65" stroke="#e0607a" stroke-width="0.9"/>
<line x1="91.7" y1="282.03" x2="96.1" y2="282.03" stroke="#e0607a" stroke-width="0.9"/>
<line x1="91.7" y1="278.65" x2="96.1" y2="278.65" stroke="#e0607a" stroke-width="0.9"/>
<line x1="129.1" y1="256.65" x2="129.1" y2="237.19" stroke="#e0607a" stroke-width="0.9"/>
<line x1="126.9" y1="256.65" x2="131.3" y2="256.65" stroke="#e0607a" stroke-width="0.9"/>
<line x1="126.9" y1="237.19" x2="131.3" y2="237.19" stroke="#e0607a" stroke-width="0.9"/>
<line x1="164.3" y1="244.38" x2="164.3" y2="223.24" stroke="#e0607a" stroke-width="0.9"/>
<line x1="162.1" y1="244.38" x2="166.5" y2="244.38" stroke="#e0607a" stroke-width="0.9"/>
<line x1="162.1" y1="223.24" x2="166.5" y2="223.24" stroke="#e0607a" stroke-width="0.9"/>
<rect x="56.71" y="281.31" width="3.99" height="3.99" fill="#d21e44"/>
<rect x="91.91" y="278.35" width="3.99" height="3.99" fill="#d21e44"/>
<rect x="127.11" y="244.93" width="3.99" height="3.99" fill="#d21e44"/>
<rect x="162.31" y="231.81" width="3.99" height="3.99" fill="#d21e44"/>
<text x="176.9" y="190.2" font-size="11.8" font-weight="bold" fill="#000">D</text>
<line x1="205.5" y1="204.4" x2="205.5" y2="288.6" stroke="#1a1a1a" stroke-width="1.1"/>
<line x1="202.7" y1="288.6" x2="205.5" y2="288.6" stroke="#1a1a1a" stroke-width="1"/>
<text x="199.9" y="291.6" font-size="8.5" text-anchor="end" textLength="4.25" lengthAdjust="spacingAndGlyphs">0</text>
<line x1="202.7" y1="260.7" x2="205.5" y2="260.7" stroke="#1a1a1a" stroke-width="1"/>
<text x="199.9" y="263.7" font-size="8.5" text-anchor="end" textLength="4.25" lengthAdjust="spacingAndGlyphs">5</text>
<line x1="202.7" y1="232.8" x2="205.5" y2="232.8" stroke="#1a1a1a" stroke-width="1"/>
<text x="199.9" y="235.8" font-size="8.5" text-anchor="end" textLength="8.51" lengthAdjust="spacingAndGlyphs">10</text>
<line x1="202.7" y1="204.9" x2="205.5" y2="204.9" stroke="#1a1a1a" stroke-width="1"/>
<text x="199.9" y="207.9" font-size="8.5" text-anchor="end" textLength="8.51" lengthAdjust="spacingAndGlyphs">15</text>
<line x1="205.5" y1="288.6" x2="331" y2="288.6" stroke="#1a1a1a" stroke-width="1.2"/>
<line x1="216.1" y1="288.6" x2="216.1" y2="290.8" stroke="#1a1a1a" stroke-width="1"/>
<line x1="251.25" y1="288.6" x2="251.25" y2="290.8" stroke="#1a1a1a" stroke-width="1"/>
<line x1="286.4" y1="288.6" x2="286.4" y2="290.8" stroke="#1a1a1a" stroke-width="1"/>
<line x1="321.55" y1="288.6" x2="321.55" y2="290.8" stroke="#1a1a1a" stroke-width="1"/>
<text x="216.7" y="300.8" font-size="8.5" text-anchor="middle" textLength="14.89" lengthAdjust="spacingAndGlyphs">0.01</text>
<text x="251.85" y="300.8" font-size="8.5" text-anchor="middle" textLength="10.63" lengthAdjust="spacingAndGlyphs">0.1</text>
<text x="287" y="300.8" font-size="8.5" text-anchor="middle" textLength="4.25" lengthAdjust="spacingAndGlyphs">1</text>
<text x="322.15" y="300.8" font-size="8.5" text-anchor="middle" textLength="8.51" lengthAdjust="spacingAndGlyphs">10</text>
<text x="269.32" y="312.7" font-size="9.3" text-anchor="middle" textLength="88" lengthAdjust="spacingAndGlyphs">TCB concentration [µg/mL]</text>
<text x="185.5" y="246.4" font-size="9.6" text-anchor="middle" textLength="29.6" lengthAdjust="spacingAndGlyphs" transform="rotate(-90 185.5 246.4)">MFI ratio</text>
<text x="260.7" y="184.6" font-size="8.2" text-anchor="middle" font-weight="bold" fill="#000">CD69</text>
<line x1="212.2" y1="193.9" x2="227" y2="193.9" stroke="#d21e44" stroke-width="1.3"/>
<rect x="217.5" y="191.8" width="4.2" height="4.2" fill="#d21e44"/>
<text x="229.5" y="196.24" font-size="6.5">HLA-A*02<tspan font-size="6.17" dy="-2.73">+</tspan><tspan dy="2.73">WT1</tspan><tspan font-size="6.17" dy="-2.73">+</tspan><tspan dy="2.73">AML</tspan></text>
<line x1="212.2" y1="204.3" x2="227" y2="204.3" stroke="#3cb54a" stroke-width="1.3" stroke-dasharray="2.2,1.8"/>
<circle cx="219.6" cy="204.3" r="1.6" fill="#3cb54a"/>
<text x="229.5" y="206.64" font-size="6.5">HLA-A*02<tspan font-size="6.17" dy="-2.73">–</tspan><tspan dy="2.73">WT1</tspan><tspan font-size="6.17" dy="-2.73">+</tspan><tspan dy="2.73">AML</tspan></text>
<line x1="212.2" y1="214.7" x2="227" y2="214.7" stroke="#5c2a88" stroke-width="1.3"/>
<rect x="217.9" y="213" width="3.4" height="3.4" fill="#5c2a88"/>
<text x="229.5" y="217.04" font-size="6.5">HLA-A*02<tspan font-size="6.17" dy="-2.73">+</tspan><tspan dy="2.73">WT1</tspan><tspan font-size="6.17" dy="-2.73">–</tspan><tspan dy="2.73">HD CD33<tspan font-size="6.1" dy="-2.7">+</tspan><tspan dy="2.7"> cells</tspan></tspan></text>
<polyline points="216.1,282.87 217.89,282.87 219.67,282.87 221.46,282.87 223.25,282.87 225.04,282.87 226.82,282.87 228.61,282.87 230.4,282.87 232.19,282.87 233.97,282.87 235.76,282.87 237.55,282.87 239.33,282.87 241.12,282.87 242.91,282.87 244.7,282.87 246.48,282.87 248.27,282.87 250.06,282.87 251.85,282.87 253.63,282.87 255.42,282.86 257.21,282.86 258.99,282.86 260.78,282.86 262.57,282.85 264.36,282.84 266.14,282.84 267.93,282.82 269.72,282.8 271.51,282.78 273.29,282.74 275.08,282.69 276.87,282.63 278.66,282.54 280.44,282.44 282.23,282.31 284.02,282.16 285.8,282.01 287.59,281.85 289.38,281.69 291.17,281.56 292.95,281.44 294.74,281.34 296.53,281.26 298.32,281.2 300.1,281.16 301.89,281.12 303.68,281.1 305.46,281.08 307.25,281.07 309.04,281.06 310.83,281.06 312.61,281.05 314.4,281.05 316.19,281.05 317.98,281.04 319.76,281.04 321.55,281.04" fill="none" stroke="#5c2a88" stroke-width="1.4"/>
<polyline points="216.1,282.32 217.89,282.31 219.67,282.3 221.46,282.29 223.25,282.27 225.04,282.25 226.82,282.23 228.61,282.2 230.4,282.17 232.19,282.13 233.97,282.07 235.76,282.01 237.55,281.93 239.33,281.84 241.12,281.72 242.91,281.57 244.7,281.4 246.48,281.19 248.27,280.93 250.06,280.62 251.85,280.24 253.63,279.8 255.42,279.27 257.21,278.66 258.99,277.94 260.78,277.11 262.57,276.18 264.36,275.14 266.14,274 267.93,272.77 269.72,271.47 271.51,270.13 273.29,268.78 275.08,267.44 276.87,266.15 278.66,264.93 280.44,263.79 282.23,262.76 284.02,261.83 285.8,261.01 287.59,260.3 289.38,259.69 291.17,259.17 292.95,258.73 294.74,258.36 296.53,258.05 298.32,257.8 300.1,257.59 301.89,257.42 303.68,257.27 305.46,257.16 307.25,257.06 309.04,256.99 310.83,256.92 312.61,256.87 314.4,256.83 316.19,256.8 317.98,256.77 319.76,256.75 321.55,256.73" fill="none" stroke="#3cb54a" stroke-width="1.4" stroke-dasharray="2.6,1.8"/>
<polyline points="216.1,282.37 217.89,282.36 219.67,282.34 221.46,282.31 223.25,282.27 225.04,282.23 226.82,282.16 228.61,282.08 230.4,281.97 232.19,281.82 233.97,281.62 235.76,281.35 237.55,281.01 239.33,280.55 241.12,279.95 242.91,279.17 244.7,278.18 246.48,276.92 248.27,275.35 250.06,273.45 251.85,271.19 253.63,268.59 255.42,265.69 257.21,262.6 258.99,259.43 260.78,256.31 262.57,253.37 264.36,250.71 266.14,248.38 267.93,246.4 269.72,244.77 271.51,243.45 273.29,242.41 275.08,241.59 276.87,240.96 278.66,240.48 280.44,240.11 282.23,239.83 284.02,239.62 285.8,239.46 287.59,239.34 289.38,239.25 291.17,239.18 292.95,239.13 294.74,239.1 296.53,239.07 298.32,239.05 300.1,239.03 301.89,239.02 303.68,239.01 305.46,239.01 307.25,239 309.04,239 310.83,238.99 312.61,238.99 314.4,238.99 316.19,238.99 317.98,238.99 319.76,238.99 321.55,238.99" fill="none" stroke="#d21e44" stroke-width="1.4"/>
<rect x="214.48" y="280.85" width="3.23" height="3.23" fill="#5c2a88"/>
<rect x="249.63" y="281.68" width="3.23" height="3.23" fill="#5c2a88"/>
<rect x="284.78" y="280.29" width="3.23" height="3.23" fill="#5c2a88"/>
<rect x="319.93" y="279.45" width="3.23" height="3.23" fill="#5c2a88"/>
<line x1="286.4" y1="266.28" x2="286.4" y2="255.12" stroke="#7ccf85" stroke-width="0.9"/>
<line x1="284.2" y1="266.28" x2="288.6" y2="266.28" stroke="#7ccf85" stroke-width="0.9"/>
<line x1="284.2" y1="255.12" x2="288.6" y2="255.12" stroke="#7ccf85" stroke-width="0.9"/>
<line x1="321.55" y1="261.82" x2="321.55" y2="251.77" stroke="#7ccf85" stroke-width="0.9"/>
<line x1="319.35" y1="261.82" x2="323.75" y2="261.82" stroke="#7ccf85" stroke-width="0.9"/>
<line x1="319.35" y1="251.77" x2="323.75" y2="251.77" stroke="#7ccf85" stroke-width="0.9"/>
<circle cx="216.1" cy="282.46" r="1.52" fill="#3cb54a"/>
<circle cx="251.25" cy="280.23" r="1.52" fill="#3cb54a"/>
<circle cx="286.4" cy="260.7" r="1.52" fill="#3cb54a"/>
<circle cx="321.55" cy="256.79" r="1.52" fill="#3cb54a"/>
<line x1="251.25" y1="276.05" x2="251.25" y2="267.68" stroke="#e0607a" stroke-width="0.9"/>
<line x1="249.05" y1="276.05" x2="253.45" y2="276.05" stroke="#e0607a" stroke-width="0.9"/>
<line x1="249.05" y1="267.68" x2="253.45" y2="267.68" stroke="#e0607a" stroke-width="0.9"/>
<line x1="286.4" y1="245.63" x2="286.4" y2="233.36" stroke="#e0607a" stroke-width="0.9"/>
<line x1="284.2" y1="245.63" x2="288.6" y2="245.63" stroke="#e0607a" stroke-width="0.9"/>
<line x1="284.2" y1="233.36" x2="288.6" y2="233.36" stroke="#e0607a" stroke-width="0.9"/>
<line x1="321.55" y1="245.36" x2="321.55" y2="232.52" stroke="#e0607a" stroke-width="0.9"/>
<line x1="319.35" y1="245.36" x2="323.75" y2="245.36" stroke="#e0607a" stroke-width="0.9"/>
<line x1="319.35" y1="232.52" x2="323.75" y2="232.52" stroke="#e0607a" stroke-width="0.9"/>
<rect x="214.1" y="280.47" width="3.99" height="3.99" fill="#d21e44"/>
<rect x="249.25" y="269.87" width="3.99" height="3.99" fill="#d21e44"/>
<rect x="284.4" y="237.5" width="3.99" height="3.99" fill="#d21e44"/>
<rect x="319.55" y="236.94" width="3.99" height="3.99" fill="#d21e44"/>
<text x="338.6" y="190.5" font-size="11.8" font-weight="bold" fill="#000">E</text>
<line x1="366.9" y1="204.4" x2="366.9" y2="288.6" stroke="#1a1a1a" stroke-width="1.1"/>
<line x1="364.1" y1="288.6" x2="366.9" y2="288.6" stroke="#1a1a1a" stroke-width="1"/>
<text x="361.3" y="291.6" font-size="8.5" text-anchor="end" textLength="4.25" lengthAdjust="spacingAndGlyphs">0</text>
<line x1="364.1" y1="260.7" x2="366.9" y2="260.7" stroke="#1a1a1a" stroke-width="1"/>
<text x="361.3" y="263.7" font-size="8.5" text-anchor="end" textLength="4.25" lengthAdjust="spacingAndGlyphs">5</text>
<line x1="364.1" y1="232.8" x2="366.9" y2="232.8" stroke="#1a1a1a" stroke-width="1"/>
<text x="361.3" y="235.8" font-size="8.5" text-anchor="end" textLength="8.51" lengthAdjust="spacingAndGlyphs">10</text>
<line x1="364.1" y1="204.9" x2="366.9" y2="204.9" stroke="#1a1a1a" stroke-width="1"/>
<text x="361.3" y="207.9" font-size="8.5" text-anchor="end" textLength="8.51" lengthAdjust="spacingAndGlyphs">15</text>
<line x1="366.9" y1="288.6" x2="492.2" y2="288.6" stroke="#1a1a1a" stroke-width="1.2"/>
<line x1="377.2" y1="288.6" x2="377.2" y2="290.8" stroke="#1a1a1a" stroke-width="1"/>
<line x1="412.2" y1="288.6" x2="412.2" y2="290.8" stroke="#1a1a1a" stroke-width="1"/>
<line x1="447.2" y1="288.6" x2="447.2" y2="290.8" stroke="#1a1a1a" stroke-width="1"/>
<line x1="482.2" y1="288.6" x2="482.2" y2="290.8" stroke="#1a1a1a" stroke-width="1"/>
<text x="377.8" y="300.8" font-size="8.5" text-anchor="middle" textLength="14.89" lengthAdjust="spacingAndGlyphs">0.01</text>
<text x="412.8" y="300.8" font-size="8.5" text-anchor="middle" textLength="10.63" lengthAdjust="spacingAndGlyphs">0.1</text>
<text x="447.8" y="300.8" font-size="8.5" text-anchor="middle" textLength="4.25" lengthAdjust="spacingAndGlyphs">1</text>
<text x="482.8" y="300.8" font-size="8.5" text-anchor="middle" textLength="8.51" lengthAdjust="spacingAndGlyphs">10</text>
<text x="430.2" y="312.7" font-size="9.3" text-anchor="middle" textLength="88" lengthAdjust="spacingAndGlyphs">TCB concentration [µg/mL]</text>
<text x="346.3" y="246.4" font-size="8.8" text-anchor="middle" textLength="40" lengthAdjust="spacingAndGlyphs" transform="rotate(-90 346.3 246.4)">Fold change</text>
<text x="423" y="184.6" font-size="8.2" text-anchor="middle" font-weight="bold" textLength="58" lengthAdjust="spacingAndGlyphs" fill="#000">T-cell expansion</text>
<line x1="372.9" y1="193.9" x2="387.8" y2="193.9" stroke="#d21e44" stroke-width="1.3"/>
<rect x="378.25" y="191.8" width="4.2" height="4.2" fill="#d21e44"/>
<text x="390.2" y="196.24" font-size="6.5">HLA-A*02<tspan font-size="6.17" dy="-2.73">+</tspan><tspan dy="2.73">WT1</tspan><tspan font-size="6.17" dy="-2.73">+</tspan><tspan dy="2.73">AML</tspan></text>
<line x1="372.9" y1="204.3" x2="387.8" y2="204.3" stroke="#3cb54a" stroke-width="1.3" stroke-dasharray="2.2,1.8"/>
<circle cx="380.35" cy="204.3" r="1.6" fill="#3cb54a"/>
<text x="390.2" y="206.64" font-size="6.5">HLA-A*02<tspan font-size="6.17" dy="-2.73">–</tspan><tspan dy="2.73">WT1</tspan><tspan font-size="6.17" dy="-2.73">+</tspan><tspan dy="2.73">AML</tspan></text>
<line x1="372.9" y1="214.7" x2="387.8" y2="214.7" stroke="#5c2a88" stroke-width="1.3"/>
<rect x="378.65" y="213" width="3.4" height="3.4" fill="#5c2a88"/>
<text x="390.2" y="217.04" font-size="6.5">HLA-A*02<tspan font-size="6.17" dy="-2.73">+</tspan><tspan dy="2.73">WT1</tspan><tspan font-size="6.17" dy="-2.73">–</tspan><tspan dy="2.73">HD CD33<tspan font-size="6.1" dy="-2.7">+</tspan><tspan dy="2.7"> cells</tspan></tspan></text>
<polyline points="377.2,265.78 378.98,265.92 380.76,266.06 382.54,266.2 384.32,266.33 386.1,266.47 387.88,266.6 389.66,266.73 391.44,266.86 393.22,266.98 395,267.11 396.78,267.23 398.56,267.35 400.34,267.47 402.12,267.58 403.89,267.7 405.67,267.81 407.45,267.91 409.23,268.02 411.01,268.12 412.79,268.22 414.57,268.32 416.35,268.42 418.13,268.51 419.91,268.6 421.69,268.69 423.47,268.77 425.25,268.85 427.03,268.93 428.81,269.01 430.59,269.09 432.37,269.16 434.15,269.23 435.93,269.3 437.71,269.36 439.49,269.43 441.27,269.49 443.05,269.55 444.83,269.6 446.61,269.66 448.39,269.71 450.17,269.76 451.95,269.81 453.73,269.86 455.51,269.9 457.28,269.95 459.06,269.99 460.84,270.03 462.62,270.07 464.4,270.1 466.18,270.14 467.96,270.17 469.74,270.21 471.52,270.24 473.3,270.27 475.08,270.3 476.86,270.33 478.64,270.35 480.42,270.38 482.2,270.4" fill="none" stroke="#5c2a88" stroke-width="1.4"/>
<polyline points="377.2,261.34 378.98,261.33 380.76,261.32 382.54,261.31 384.32,261.3 386.1,261.29 387.88,261.27 389.66,261.25 391.44,261.22 393.22,261.18 395,261.13 396.78,261.07 398.56,261 400.34,260.91 402.12,260.79 403.89,260.65 405.67,260.48 407.45,260.27 409.23,260.02 411.01,259.72 412.79,259.36 414.57,258.95 416.35,258.48 418.13,257.95 419.91,257.37 421.69,256.75 423.47,256.1 425.25,255.44 427.03,254.79 428.81,254.17 430.59,253.58 432.37,253.05 434.15,252.57 435.93,252.15 437.71,251.79 439.49,251.48 441.27,251.22 443.05,251.01 444.83,250.83 446.61,250.69 448.39,250.58 450.17,250.48 451.95,250.41 453.73,250.35 455.51,250.3 457.28,250.26 459.06,250.23 460.84,250.21 462.62,250.19 464.4,250.17 466.18,250.16 467.96,250.15 469.74,250.14 471.52,250.14 473.3,250.13 475.08,250.13 476.86,250.12 478.64,250.12 480.42,250.12 482.2,250.12" fill="none" stroke="#3cb54a" stroke-width="1.4" stroke-dasharray="2.6,1.8"/>
<polyline points="377.2,257.77 378.98,257.68 380.76,257.58 382.54,257.47 384.32,257.35 386.1,257.22 387.88,257.07 389.66,256.91 391.44,256.73 393.22,256.54 395,256.32 396.78,256.09 398.56,255.84 400.34,255.56 402.12,255.26 403.89,254.93 405.67,254.57 407.45,254.19 409.23,253.77 411.01,253.32 412.79,252.84 414.57,252.33 416.35,251.78 418.13,251.2 419.91,250.58 421.69,249.93 423.47,249.25 425.25,248.53 427.03,247.79 428.81,247.03 430.59,246.24 432.37,245.43 434.15,244.6 435.93,243.77 437.71,242.93 439.49,242.08 441.27,241.24 443.05,240.41 444.83,239.58 446.61,238.78 448.39,237.99 450.17,237.23 451.95,236.49 453.73,235.78 455.51,235.11 457.28,234.46 459.06,233.85 460.84,233.27 462.62,232.73 464.4,232.22 466.18,231.75 467.96,231.31 469.74,230.89 471.52,230.51 473.3,230.16 475.08,229.84 476.86,229.54 478.64,229.27 480.42,229.02 482.2,228.79" fill="none" stroke="#d21e44" stroke-width="1.4"/>
<rect x="375.58" y="264.11" width="3.23" height="3.23" fill="#5c2a88"/>
<rect x="410.58" y="266.9" width="3.23" height="3.23" fill="#5c2a88"/>
<rect x="445.58" y="267.46" width="3.23" height="3.23" fill="#5c2a88"/>
<rect x="480.58" y="269.13" width="3.23" height="3.23" fill="#5c2a88"/>
<line x1="412.2" y1="264.61" x2="412.2" y2="254.56" stroke="#7ccf85" stroke-width="0.9"/>
<line x1="410" y1="264.61" x2="414.4" y2="264.61" stroke="#7ccf85" stroke-width="0.9"/>
<line x1="410" y1="254.56" x2="414.4" y2="254.56" stroke="#7ccf85" stroke-width="0.9"/>
<line x1="447.2" y1="259.03" x2="447.2" y2="242.29" stroke="#7ccf85" stroke-width="0.9"/>
<line x1="445" y1="259.03" x2="449.4" y2="259.03" stroke="#7ccf85" stroke-width="0.9"/>
<line x1="445" y1="242.29" x2="449.4" y2="242.29" stroke="#7ccf85" stroke-width="0.9"/>
<line x1="482.2" y1="257.91" x2="482.2" y2="242.29" stroke="#7ccf85" stroke-width="0.9"/>
<line x1="480" y1="257.91" x2="484.4" y2="257.91" stroke="#7ccf85" stroke-width="0.9"/>
<line x1="480" y1="242.29" x2="484.4" y2="242.29" stroke="#7ccf85" stroke-width="0.9"/>
<circle cx="377.2" cy="261.26" r="1.52" fill="#3cb54a"/>
<circle cx="412.2" cy="259.58" r="1.52" fill="#3cb54a"/>
<circle cx="447.2" cy="250.66" r="1.52" fill="#3cb54a"/>
<circle cx="482.2" cy="250.1" r="1.52" fill="#3cb54a"/>
<line x1="377.2" y1="260.98" x2="377.2" y2="254.84" stroke="#e0607a" stroke-width="0.9"/>
<line x1="375" y1="260.98" x2="379.4" y2="260.98" stroke="#e0607a" stroke-width="0.9"/>
<line x1="375" y1="254.84" x2="379.4" y2="254.84" stroke="#e0607a" stroke-width="0.9"/>
<line x1="412.2" y1="256.79" x2="412.2" y2="248.98" stroke="#e0607a" stroke-width="0.9"/>
<line x1="410" y1="256.79" x2="414.4" y2="256.79" stroke="#e0607a" stroke-width="0.9"/>
<line x1="410" y1="248.98" x2="414.4" y2="248.98" stroke="#e0607a" stroke-width="0.9"/>
<line x1="447.2" y1="246.19" x2="447.2" y2="230.57" stroke="#e0607a" stroke-width="0.9"/>
<line x1="445" y1="246.19" x2="449.4" y2="246.19" stroke="#e0607a" stroke-width="0.9"/>
<line x1="445" y1="230.57" x2="449.4" y2="230.57" stroke="#e0607a" stroke-width="0.9"/>
<line x1="482.2" y1="238.94" x2="482.2" y2="218.85" stroke="#e0607a" stroke-width="0.9"/>
<line x1="480" y1="238.94" x2="484.4" y2="238.94" stroke="#e0607a" stroke-width="0.9"/>
<line x1="480" y1="218.85" x2="484.4" y2="218.85" stroke="#e0607a" stroke-width="0.9"/>
<rect x="375.2" y="255.92" width="3.99" height="3.99" fill="#d21e44"/>
<rect x="410.2" y="250.89" width="3.99" height="3.99" fill="#d21e44"/>
<rect x="445.2" y="236.39" width="3.99" height="3.99" fill="#d21e44"/>
<rect x="480.2" y="226.9" width="3.99" height="3.99" fill="#d21e44"/>
<text x="13.5" y="330" font-size="11.8" font-weight="bold" fill="#000">F</text>
<text x="123.8" y="337.3" font-size="8.2" text-anchor="middle" font-weight="bold" textLength="62" lengthAdjust="spacingAndGlyphs" fill="#000">HLA-A*02+ AML</text>
<text x="84.6" y="346.2" font-size="8.4" text-anchor="middle" font-weight="bold" fill="#000">IFN-</text>
<text x="94.6" y="346.2" font-size="7.5" text-anchor="middle" fill="#000">γ</text>
<text x="163.1" y="346.2" font-size="8" text-anchor="middle" font-weight="bold" textLength="45.4" lengthAdjust="spacingAndGlyphs" fill="#000">Granzyme B</text>
<text x="67" y="356.7" font-size="6.1" text-anchor="middle" textLength="27.8" lengthAdjust="spacingAndGlyphs">Allogeneic</text>
<text x="105" y="356.7" font-size="6.1" text-anchor="middle" textLength="29.4" lengthAdjust="spacingAndGlyphs">Autologous</text>
<text x="143.8" y="356.7" font-size="6.1" text-anchor="middle" textLength="27.8" lengthAdjust="spacingAndGlyphs">Allogeneic</text>
<text x="183" y="356.7" font-size="6.1" text-anchor="middle" textLength="29.4" lengthAdjust="spacingAndGlyphs">Autologous</text>
<line x1="49.6" y1="353.7" x2="49.6" y2="437.6" stroke="#1a1a1a" stroke-width="1.1"/>
<line x1="46.8" y1="354.2" x2="49.6" y2="354.2" stroke="#1a1a1a" stroke-width="1"/>
<text x="43.2" y="357.2" font-size="8.5" text-anchor="end" textLength="17.02" lengthAdjust="spacingAndGlyphs">4000</text>
<line x1="46.8" y1="375.05" x2="49.6" y2="375.05" stroke="#1a1a1a" stroke-width="1"/>
<text x="43.2" y="378.05" font-size="8.5" text-anchor="end" textLength="17.02" lengthAdjust="spacingAndGlyphs">3000</text>
<line x1="46.8" y1="395.9" x2="49.6" y2="395.9" stroke="#1a1a1a" stroke-width="1"/>
<text x="43.2" y="398.9" font-size="8.5" text-anchor="end" textLength="17.02" lengthAdjust="spacingAndGlyphs">2000</text>
<line x1="46.8" y1="416.75" x2="49.6" y2="416.75" stroke="#1a1a1a" stroke-width="1"/>
<text x="43.2" y="419.75" font-size="8.5" text-anchor="end" textLength="17.02" lengthAdjust="spacingAndGlyphs">1000</text>
<line x1="46.8" y1="437.6" x2="49.6" y2="437.6" stroke="#1a1a1a" stroke-width="1"/>
<text x="43.2" y="440.6" font-size="8.5" text-anchor="end" textLength="4.25" lengthAdjust="spacingAndGlyphs">0</text>
<text x="20.8" y="396.2" font-size="8.8" text-anchor="middle" textLength="74.3" lengthAdjust="spacingAndGlyphs" transform="rotate(-90 20.8 396.2)">Concentration [pg/mL]</text>
<line x1="85.7" y1="362.5" x2="85.7" y2="437.6" stroke="#555" stroke-width="0.8" stroke-dasharray="1,1.6"/>
<line x1="124.5" y1="351.5" x2="124.5" y2="437.6" stroke="#444" stroke-width="0.9" stroke-dasharray="3.2,2"/>
<line x1="163.5" y1="362.5" x2="163.5" y2="437.6" stroke="#555" stroke-width="0.8" stroke-dasharray="1,1.6"/>
<rect x="51.9" y="430.8" width="5.2" height="6.8" fill="#e8939f"/>
<rect x="60" y="427.7" width="5.2" height="9.9" fill="#e8939f"/>
<rect x="68.1" y="418.2" width="5.2" height="19.4" fill="#e8939f"/>
<rect x="76.4" y="412.3" width="5.2" height="25.3" fill="#e8939f"/>
<rect x="89.6" y="437" width="5.2" height="0.6" fill="#e8939f"/>
<rect x="98" y="429" width="5.2" height="8.6" fill="#e8939f"/>
<rect x="106.1" y="421.7" width="5.2" height="15.9" fill="#e8939f"/>
<rect x="114.2" y="400.3" width="5.2" height="37.3" fill="#e8939f"/>
<rect x="130" y="435.3" width="5.2" height="2.3" fill="#e8939f"/>
<rect x="137.9" y="435.8" width="5.2" height="1.8" fill="#e8939f"/>
<rect x="145.9" y="430" width="5.2" height="7.6" fill="#e8939f"/>
<rect x="154" y="425.8" width="5.2" height="11.8" fill="#e8939f"/>
<rect x="167.5" y="437.3" width="5.2" height="0.3" fill="#e8939f"/>
<rect x="175.5" y="436.8" width="5.2" height="0.8" fill="#e8939f"/>
<rect x="183.6" y="425.8" width="5.2" height="11.8" fill="#e8939f"/>
<rect x="191.7" y="410" width="5.2" height="27.6" fill="#e8939f"/>
<line x1="54.5" y1="427" x2="54.5" y2="434" stroke="#444444" stroke-width="0.8"/>
<line x1="52.6" y1="427" x2="56.4" y2="427" stroke="#444444" stroke-width="0.8"/>
<line x1="52.6" y1="434" x2="56.4" y2="434" stroke="#444444" stroke-width="0.8"/>
<line x1="62.6" y1="422" x2="62.6" y2="433" stroke="#444444" stroke-width="0.8"/>
<line x1="60.7" y1="422" x2="64.5" y2="422" stroke="#444444" stroke-width="0.8"/>
<line x1="60.7" y1="433" x2="64.5" y2="433" stroke="#444444" stroke-width="0.8"/>
<line x1="70.7" y1="410.5" x2="70.7" y2="426" stroke="#444444" stroke-width="0.8"/>
<line x1="68.8" y1="410.5" x2="72.6" y2="410.5" stroke="#444444" stroke-width="0.8"/>
<line x1="68.8" y1="426" x2="72.6" y2="426" stroke="#444444" stroke-width="0.8"/>
<line x1="79" y1="405.4" x2="79" y2="419" stroke="#444444" stroke-width="0.8"/>
<line x1="77.1" y1="405.4" x2="80.9" y2="405.4" stroke="#444444" stroke-width="0.8"/>
<line x1="77.1" y1="419" x2="80.9" y2="419" stroke="#444444" stroke-width="0.8"/>
<line x1="100.6" y1="420.3" x2="100.6" y2="437" stroke="#444444" stroke-width="0.8"/>
<line x1="98.7" y1="420.3" x2="102.5" y2="420.3" stroke="#444444" stroke-width="0.8"/>
<line x1="98.7" y1="437" x2="102.5" y2="437" stroke="#444444" stroke-width="0.8"/>
<line x1="108.7" y1="411.1" x2="108.7" y2="432" stroke="#444444" stroke-width="0.8"/>
<line x1="106.8" y1="411.1" x2="110.6" y2="411.1" stroke="#444444" stroke-width="0.8"/>
<line x1="106.8" y1="432" x2="110.6" y2="432" stroke="#444444" stroke-width="0.8"/>
<line x1="116.8" y1="379.6" x2="116.8" y2="420" stroke="#444444" stroke-width="0.8"/>
<line x1="114.9" y1="379.6" x2="118.7" y2="379.6" stroke="#444444" stroke-width="0.8"/>
<line x1="114.9" y1="420" x2="118.7" y2="420" stroke="#444444" stroke-width="0.8"/>
<line x1="132.6" y1="433" x2="132.6" y2="437.6" stroke="#444444" stroke-width="0.8"/>
<line x1="130.7" y1="433" x2="134.5" y2="433" stroke="#444444" stroke-width="0.8"/>
<line x1="140.5" y1="433.5" x2="140.5" y2="437.6" stroke="#444444" stroke-width="0.8"/>
<line x1="138.6" y1="433.5" x2="142.4" y2="433.5" stroke="#444444" stroke-width="0.8"/>
<line x1="148.5" y1="424.6" x2="148.5" y2="435" stroke="#444444" stroke-width="0.8"/>
<line x1="146.6" y1="424.6" x2="150.4" y2="424.6" stroke="#444444" stroke-width="0.8"/>
<line x1="146.6" y1="435" x2="150.4" y2="435" stroke="#444444" stroke-width="0.8"/>
<line x1="156.6" y1="418.9" x2="156.6" y2="432" stroke="#444444" stroke-width="0.8"/>
<line x1="154.7" y1="418.9" x2="158.5" y2="418.9" stroke="#444444" stroke-width="0.8"/>
<line x1="154.7" y1="432" x2="158.5" y2="432" stroke="#444444" stroke-width="0.8"/>
<line x1="186.2" y1="417" x2="186.2" y2="434" stroke="#444444" stroke-width="0.8"/>
<line x1="184.3" y1="417" x2="188.1" y2="417" stroke="#444444" stroke-width="0.8"/>
<line x1="184.3" y1="434" x2="188.1" y2="434" stroke="#444444" stroke-width="0.8"/>
<line x1="194.3" y1="398" x2="194.3" y2="422" stroke="#444444" stroke-width="0.8"/>
<line x1="192.4" y1="398" x2="196.2" y2="398" stroke="#444444" stroke-width="0.8"/>
<line x1="192.4" y1="422" x2="196.2" y2="422" stroke="#444444" stroke-width="0.8"/>
<line x1="49.6" y1="437.6" x2="199.5" y2="437.6" stroke="#1a1a1a" stroke-width="1.2"/>
<line x1="54.5" y1="437.6" x2="54.5" y2="440" stroke="#1a1a1a" stroke-width="1"/>
<line x1="62.6" y1="437.6" x2="62.6" y2="440" stroke="#1a1a1a" stroke-width="1"/>
<line x1="70.7" y1="437.6" x2="70.7" y2="440" stroke="#1a1a1a" stroke-width="1"/>
<line x1="79" y1="437.6" x2="79" y2="440" stroke="#1a1a1a" stroke-width="1"/>
<line x1="92.2" y1="437.6" x2="92.2" y2="440" stroke="#1a1a1a" stroke-width="1"/>
<line x1="100.6" y1="437.6" x2="100.6" y2="440" stroke="#1a1a1a" stroke-width="1"/>
<line x1="108.7" y1="437.6" x2="108.7" y2="440" stroke="#1a1a1a" stroke-width="1"/>
<line x1="116.8" y1="437.6" x2="116.8" y2="440" stroke="#1a1a1a" stroke-width="1"/>
<line x1="132.6" y1="437.6" x2="132.6" y2="440" stroke="#1a1a1a" stroke-width="1"/>
<line x1="140.5" y1="437.6" x2="140.5" y2="440" stroke="#1a1a1a" stroke-width="1"/>
<line x1="148.5" y1="437.6" x2="148.5" y2="440" stroke="#1a1a1a" stroke-width="1"/>
<line x1="156.6" y1="437.6" x2="156.6" y2="440" stroke="#1a1a1a" stroke-width="1"/>
<line x1="170.1" y1="437.6" x2="170.1" y2="440" stroke="#1a1a1a" stroke-width="1"/>
<line x1="178.1" y1="437.6" x2="178.1" y2="440" stroke="#1a1a1a" stroke-width="1"/>
<line x1="186.2" y1="437.6" x2="186.2" y2="440" stroke="#1a1a1a" stroke-width="1"/>
<line x1="194.3" y1="437.6" x2="194.3" y2="440" stroke="#1a1a1a" stroke-width="1"/>
<text x="57.1" y="443.2" font-size="7.3" text-anchor="end" transform="rotate(-90 57.1 443.2)">0.01</text>
<text x="65.2" y="443.2" font-size="7.3" text-anchor="end" transform="rotate(-90 65.2 443.2)">0.1</text>
<text x="73.3" y="443.2" font-size="7.3" text-anchor="end" transform="rotate(-90 73.3 443.2)">1</text>
<text x="81.6" y="443.2" font-size="7.3" text-anchor="end" transform="rotate(-90 81.6 443.2)">10</text>
<text x="94.8" y="443.2" font-size="7.3" text-anchor="end" transform="rotate(-90 94.8 443.2)">0.01</text>
<text x="103.2" y="443.2" font-size="7.3" text-anchor="end" transform="rotate(-90 103.2 443.2)">0.1</text>
<text x="111.3" y="443.2" font-size="7.3" text-anchor="end" transform="rotate(-90 111.3 443.2)">1</text>
<text x="119.4" y="443.2" font-size="7.3" text-anchor="end" transform="rotate(-90 119.4 443.2)">10</text>
<text x="135.2" y="443.2" font-size="7.3" text-anchor="end" transform="rotate(-90 135.2 443.2)">0.01</text>
<text x="143.1" y="443.2" font-size="7.3" text-anchor="end" transform="rotate(-90 143.1 443.2)">0.1</text>
<text x="151.1" y="443.2" font-size="7.3" text-anchor="end" transform="rotate(-90 151.1 443.2)">1</text>
<text x="159.2" y="443.2" font-size="7.3" text-anchor="end" transform="rotate(-90 159.2 443.2)">10</text>
<text x="172.7" y="443.2" font-size="7.3" text-anchor="end" transform="rotate(-90 172.7 443.2)">0.01</text>
<text x="180.7" y="443.2" font-size="7.3" text-anchor="end" transform="rotate(-90 180.7 443.2)">0.1</text>
<text x="188.8" y="443.2" font-size="7.3" text-anchor="end" transform="rotate(-90 188.8 443.2)">1</text>
<text x="196.9" y="443.2" font-size="7.3" text-anchor="end" transform="rotate(-90 196.9 443.2)">10</text>
<text x="125" y="470.4" font-size="9.3" text-anchor="middle" textLength="88" lengthAdjust="spacingAndGlyphs">TCB concentration [µg/mL]</text>
<g fill="#d20a2a" stroke="#220004" stroke-width="0.7">
<circle cx="54.5" cy="407.4" r="1.45"/>
<circle cx="54.5" cy="427.4" r="1.45"/>
<circle cx="54.5" cy="432.3" r="1.45"/>
<circle cx="53.3" cy="436.2" r="1.45"/>
<circle cx="55.7" cy="436.2" r="1.45"/>
<circle cx="62.7" cy="405.4" r="1.45"/>
<circle cx="62.7" cy="411.2" r="1.45"/>
<circle cx="61.2" cy="432.3" r="1.45"/>
<circle cx="63.4" cy="432.6" r="1.45"/>
<circle cx="64.9" cy="433.8" r="1.45"/>
<circle cx="62.7" cy="436.6" r="1.45"/>
<circle cx="69.2" cy="391.1" r="1.45"/>
<circle cx="72.4" cy="392.3" r="1.45"/>
<circle cx="70.7" cy="419.7" r="1.45"/>
<circle cx="70.7" cy="423.2" r="1.45"/>
<circle cx="69.2" cy="431.5" r="1.45"/>
<circle cx="72.4" cy="432" r="1.45"/>
<circle cx="70.7" cy="436.5" r="1.45"/>
<circle cx="78.8" cy="387.7" r="1.45"/>
<circle cx="78.8" cy="397.4" r="1.45"/>
<circle cx="78.8" cy="411.2" r="1.45"/>
<circle cx="77.3" cy="415.7" r="1.45"/>
<circle cx="80.7" cy="414.2" r="1.45"/>
<circle cx="78.8" cy="420.3" r="1.45"/>
<circle cx="78.8" cy="435.7" r="1.45"/>
<circle cx="91" cy="436.6" r="1.45"/>
<circle cx="93.2" cy="436.6" r="1.45"/>
<circle cx="100.5" cy="412.7" r="1.45"/>
<circle cx="99.3" cy="436.5" r="1.45"/>
<circle cx="101.9" cy="436.5" r="1.45"/>
<circle cx="108.4" cy="400.8" r="1.45"/>
<circle cx="108.4" cy="430" r="1.45"/>
<circle cx="108.4" cy="433.2" r="1.45"/>
<circle cx="116.5" cy="361.6" r="1.45"/>
<circle cx="116.5" cy="407.5" r="1.45"/>
<circle cx="116.5" cy="430.2" r="1.45"/>
<circle cx="132.6" cy="427" r="1.45"/>
<circle cx="132.6" cy="432" r="1.45"/>
<circle cx="131.4" cy="436" r="1.45"/>
<circle cx="133.8" cy="436" r="1.45"/>
<circle cx="140.5" cy="432" r="1.45"/>
<circle cx="139.3" cy="435.5" r="1.45"/>
<circle cx="141.7" cy="435.5" r="1.45"/>
<circle cx="147.6" cy="420.2" r="1.45"/>
<circle cx="150" cy="418.4" r="1.45"/>
<circle cx="148.5" cy="426.2" r="1.45"/>
<circle cx="148.5" cy="430.8" r="1.45"/>
<circle cx="148.5" cy="435" r="1.45"/>
<circle cx="155" cy="418.9" r="1.45"/>
<circle cx="158.5" cy="418.4" r="1.45"/>
<circle cx="158.5" cy="421.2" r="1.45"/>
<circle cx="156.2" cy="427" r="1.45"/>
<circle cx="155" cy="430.8" r="1.45"/>
<circle cx="158.5" cy="432.7" r="1.45"/>
<circle cx="169.1" cy="437" r="1.45"/>
<circle cx="171.1" cy="437" r="1.45"/>
<circle cx="177.1" cy="436.8" r="1.45"/>
<circle cx="179.1" cy="436.3" r="1.45"/>
<circle cx="186.2" cy="409.2" r="1.45"/>
<circle cx="186.2" cy="431.5" r="1.45"/>
<circle cx="186.2" cy="434.5" r="1.45"/>
<circle cx="194.3" cy="390" r="1.45"/>
<circle cx="194.3" cy="407.8" r="1.45"/>
<circle cx="194.3" cy="430" r="1.45"/>
</g>
<text x="214.3" y="329.2" font-size="11.8" font-weight="bold" fill="#000">G</text>
<text x="254.3" y="345.4" font-size="6.2" text-anchor="middle" fill="#222">HLA-A2<tspan font-size="4.5" dy="-2.2">–</tspan></text>
<line x1="243.2" y1="348.2" x2="265.5" y2="348.2" stroke="#333" stroke-width="0.9"/>
<text x="287.9" y="345.4" font-size="6.2" text-anchor="middle" fill="#222">HLA-A2<tspan font-size="4.5" dy="-2.2">+</tspan></text>
<line x1="269.8" y1="348.2" x2="303.5" y2="348.2" stroke="#333" stroke-width="0.9"/>
<line x1="242.8" y1="353.4" x2="242.8" y2="437.5" stroke="#1a1a1a" stroke-width="1.1"/>
<line x1="240" y1="353.9" x2="242.8" y2="353.9" stroke="#1a1a1a" stroke-width="1"/>
<text x="236.7" y="356.9" font-size="8.5" text-anchor="end" textLength="12.76" lengthAdjust="spacingAndGlyphs">100</text>
<line x1="240" y1="370.62" x2="242.8" y2="370.62" stroke="#1a1a1a" stroke-width="1"/>
<text x="236.7" y="373.62" font-size="8.5" text-anchor="end" textLength="8.51" lengthAdjust="spacingAndGlyphs">80</text>
<line x1="240" y1="387.34" x2="242.8" y2="387.34" stroke="#1a1a1a" stroke-width="1"/>
<text x="236.7" y="390.34" font-size="8.5" text-anchor="end" textLength="8.51" lengthAdjust="spacingAndGlyphs">60</text>
<line x1="240" y1="404.06" x2="242.8" y2="404.06" stroke="#1a1a1a" stroke-width="1"/>
<text x="236.7" y="407.06" font-size="8.5" text-anchor="end" textLength="8.51" lengthAdjust="spacingAndGlyphs">40</text>
<line x1="240" y1="420.78" x2="242.8" y2="420.78" stroke="#1a1a1a" stroke-width="1"/>
<text x="236.7" y="423.78" font-size="8.5" text-anchor="end" textLength="8.51" lengthAdjust="spacingAndGlyphs">20</text>
<line x1="240" y1="437.5" x2="242.8" y2="437.5" stroke="#1a1a1a" stroke-width="1"/>
<text x="236.7" y="440.5" font-size="8.5" text-anchor="end" textLength="4.25" lengthAdjust="spacingAndGlyphs">0</text>
<text x="222" y="395.7" font-size="8.8" text-anchor="middle" textLength="48.5" lengthAdjust="spacingAndGlyphs" transform="rotate(-90 222 395.7)">% specific lysis</text>
<line x1="266.4" y1="353.5" x2="266.4" y2="437.5" stroke="#555" stroke-width="0.8" stroke-dasharray="1,1.6"/>
<rect x="247.3" y="425.3" width="10.9" height="12.2" fill="#e8939f"/>
<rect x="273.5" y="381.7" width="11.3" height="55.8" fill="#e8939f"/>
<rect x="293.2" y="393.2" width="11.6" height="44.3" fill="#e8939f"/>
<line x1="252.7" y1="419.4" x2="252.7" y2="430.5" stroke="#444444" stroke-width="0.9"/>
<line x1="249.3" y1="419.4" x2="256.1" y2="419.4" stroke="#444444" stroke-width="0.9"/>
<line x1="249.3" y1="430.5" x2="256.1" y2="430.5" stroke="#444444" stroke-width="0.9"/>
<line x1="279.2" y1="375.2" x2="279.2" y2="385.8" stroke="#444444" stroke-width="0.9"/>
<line x1="275.8" y1="375.2" x2="282.6" y2="375.2" stroke="#444444" stroke-width="0.9"/>
<line x1="275.8" y1="385.8" x2="282.6" y2="385.8" stroke="#444444" stroke-width="0.9"/>
<line x1="299" y1="382.5" x2="299" y2="402.2" stroke="#444444" stroke-width="0.9"/>
<line x1="295.6" y1="382.5" x2="302.4" y2="382.5" stroke="#444444" stroke-width="0.9"/>
<line x1="295.6" y1="402.2" x2="302.4" y2="402.2" stroke="#444444" stroke-width="0.9"/>
<line x1="242.8" y1="437.5" x2="309.2" y2="437.5" stroke="#1a1a1a" stroke-width="1.2"/>
<line x1="252.7" y1="437.5" x2="252.7" y2="440.1" stroke="#1a1a1a" stroke-width="1"/>
<line x1="279.2" y1="437.5" x2="279.2" y2="440.1" stroke="#1a1a1a" stroke-width="1"/>
<line x1="299" y1="437.5" x2="299" y2="440.1" stroke="#1a1a1a" stroke-width="1"/>
<g fill="#d20a2a" stroke="#220004" stroke-width="0.7">
<circle cx="252.7" cy="386.3" r="1.55"/>
<circle cx="252.7" cy="394" r="1.55"/>
<circle cx="251.1" cy="420" r="1.55"/>
<circle cx="253.9" cy="420.6" r="1.55"/>
<circle cx="251.4" cy="423.5" r="1.55"/>
<circle cx="247.5" cy="437.6" r="1.55"/>
<circle cx="250.3" cy="437.6" r="1.55"/>
<circle cx="253.1" cy="437.6" r="1.55"/>
<circle cx="255.9" cy="437.6" r="1.55"/>
<circle cx="258.3" cy="437.6" r="1.55"/>
<circle cx="274.3" cy="355.8" r="1.55"/>
<circle cx="280.9" cy="356.6" r="1.55"/>
<circle cx="284.2" cy="354.3" r="1.55"/>
<circle cx="274.3" cy="359.9" r="1.55"/>
<circle cx="278" cy="359.3" r="1.55"/>
<circle cx="284.2" cy="359.3" r="1.55"/>
<circle cx="277.3" cy="362.9" r="1.55"/>
<circle cx="280.9" cy="362.5" r="1.55"/>
<circle cx="279.3" cy="375.2" r="1.55"/>
<circle cx="279.3" cy="382.2" r="1.55"/>
<circle cx="274.3" cy="389.6" r="1.55"/>
<circle cx="277.3" cy="391" r="1.55"/>
<circle cx="280.9" cy="390.4" r="1.55"/>
<circle cx="281.4" cy="392.9" r="1.55"/>
<circle cx="274.3" cy="405.2" r="1.55"/>
<circle cx="277.3" cy="406.8" r="1.55"/>
<circle cx="280.9" cy="406" r="1.55"/>
<circle cx="284.2" cy="408" r="1.55"/>
<circle cx="278.9" cy="421.9" r="1.55"/>
<circle cx="298.9" cy="355" r="1.55"/>
<circle cx="298.9" cy="360.4" r="1.55"/>
<circle cx="298.9" cy="364.5" r="1.55"/>
<circle cx="298.9" cy="398.1" r="1.55"/>
<circle cx="298.9" cy="404.7" r="1.55"/>
<circle cx="298.9" cy="412.9" r="1.55"/>
<circle cx="298.9" cy="416.6" r="1.55"/>
<circle cx="298.9" cy="429.6" r="1.55"/>
</g>
<text x="252.1" y="447.6" font-size="7.65" text-anchor="end" transform="rotate(-45 252.1 447.6)">Allogeneic setting</text>
<text x="278.6" y="447.6" font-size="7.65" text-anchor="end" transform="rotate(-45 278.6 447.6)">Allogeneic setting</text>
<text x="298.4" y="447.6" font-size="7.65" text-anchor="end" transform="rotate(-45 298.4 447.6)">Autologous setting</text>
<text x="336.6" y="329.8" font-size="11.8" font-weight="bold" fill="#000">H</text>
<text x="384.9" y="345.3" font-size="8.2" text-anchor="middle" font-weight="bold" textLength="31.8" lengthAdjust="spacingAndGlyphs" fill="#000">Ctrl-TCB</text>
<text x="446" y="345.3" font-size="8.2" text-anchor="middle" font-weight="bold" textLength="38.7" lengthAdjust="spacingAndGlyphs" fill="#000">WT1-TCB*</text>
<path d="M358.1 372.4h.8M368.7 387.1h.8M397.3 379.9h.8M354.8 407.8h.8M386.0 353.5h.8M362.6 382.3h.8M393.5 363.4h.8M391.0 405.0h.8M353.6 403.9h.8M374.8 408.4h.8M386.9 400.0h.8M368.0 381.6h.8M409.7 361.7h.8M360.1 370.6h.8M359.6 373.1h.8M402.5 402.1h.8M409.4 362.4h.8M407.6 402.4h.8M393.2 391.3h.8M388.1 395.9h.8M393.9 376.7h.8M396.8 404.0h.8M410.7 387.5h.8M390.3 394.6h.8M390.9 402.9h.8M410.6 398.1h.8M398.3 405.0h.8M388.9 388.5h.8M388.3 390.0h.8M409.6 393.5h.8M408.7 393.7h.8M406.2 403.7h.8M392.1 400.7h.8M408.3 379.2h.8M396.5 383.1h.8M373.7 391.1h.8M367.1 386.1h.8M361.7 394.8h.8M397.1 404.9h.8M395.3 377.2h.8M404.5 369.7h.8M392.3 400.8h.8M394.3 390.7h.8M389.6 392.7h.8M358.1 370.3h.8M359.8 367.0h.8M378.8 362.7h.8M410.8 363.9h.8M392.8 405.9h.8M370.7 371.5h.8M378.5 374.1h.8M355.2 366.1h.8M355.3 368.8h.8M373.5 359.4h.8M357.8 358.7h.8M376.3 368.6h.8M369.0 358.4h.8M372.9 374.8h.8M383.2 364.1h.8M362.6 373.8h.8M366.1 373.6h.8M379.4 363.8h.8M361.1 361.4h.8M358.8 371.3h.8M362.2 360.0h.8M397.8 382.3h.8M402.2 408.8h.8M361.7 353.5h.8M375.6 361.6h.8M369.0 358.8h.8M375.0 357.1h.8M359.2 393.2h.8M371.5 404.0h.8M356.5 391.2h.8M379.6 364.5h.8M380.1 353.7h.8M379.8 365.6h.8M362.5 360.2h.8M366.0 358.3h.8M399.3 380.2h.8M399.1 403.8h.8M401.5 406.5h.8M409.7 371.7h.8M410.7 369.4h.8M404.4 365.5h.8M399.5 377.1h.8M398.6 375.8h.8M379.0 369.5h.8M357.7 368.2h.8M353.8 364.7h.8M372.1 391.0h.8M372.7 392.4h.8M366.1 398.6h.8M366.8 394.3h.8M360.1 396.1h.8M362.6 396.9h.8M361.0 402.0h.8M354.6 393.2h.8M364.7 395.4h.8M378.0 396.5h.8M373.5 391.2h.8M368.0 388.8h.8M371.1 393.8h.8M367.2 397.1h.8M375.4 396.5h.8M358.5 394.9h.8M368.5 388.7h.8M359.1 391.7h.8M365.7 393.0h.8M395.2 388.6h.8M403.9 373.1h.8M407.7 370.2h.8M368.0 358.9h.8M370.3 358.4h.8M373.8 357.7h.8M390.8 391.6h.8M409.9 397.0h.8M405.7 400.9h.8M377.8 365.7h.8M393.7 393.9h.8M409.4 371.0h.8M404.9 372.7h.8M406.7 375.1h.8M362.7 371.5h.8M402.7 372.1h.8M410.1 370.8h.8M409.6 363.6h.8M366.8 409.3h.8M396.5 368.7h.8M367.4 351.8h.8M388.9 386.1h.8M371.5 386.8h.8M377.5 390.6h.8M364.9 390.5h.8M370.2 390.2h.8M360.8 391.0h.8M367.1 385.3h.8M371.1 390.4h.8M370.8 398.8h.8M368.7 395.4h.8M364.9 390.6h.8M357.7 392.5h.8M364.4 383.8h.8M368.5 399.4h.8M369.2 398.0h.8M365.8 389.3h.8M362.1 375.5h.8M408.4 366.9h.8M399.0 360.8h.8M362.2 376.3h.8M357.2 353.4h.8M390.7 385.9h.8M396.0 382.7h.8M358.4 366.1h.8M372.5 369.9h.8M372.0 390.3h.8M366.7 399.7h.8M375.2 357.1h.8M354.2 381.6h.8M387.5 361.0h.8M366.7 381.0h.8M374.0 403.5h.8M362.1 392.3h.8M361.2 377.4h.8M386.4 353.0h.8M384.7 405.5h.8M365.2 408.4h.8M370.6 397.0h.8M411.2 364.8h.8M373.9 385.3h.8M381.7 398.1h.8" stroke="#aaaee8" stroke-width=".8" fill="none"/>
<path d="M376.9 366.9h.8M371.6 362.4h.8M372.7 360.4h.8M362.8 362.4h.8M361.1 362.5h.8M407.3 371.6h.8M396.0 385.0h.8M406.7 379.4h.8M396.0 388.5h.8M411.4 381.0h.8M396.0 389.3h.8M358.7 363.1h.8M372.5 369.1h.8M366.8 370.8h.8M396.6 389.3h.8M370.5 361.9h.8M368.7 360.9h.8M391.7 405.3h.8M393.5 399.3h.8M397.2 401.7h.8M403.8 378.9h.8M408.5 376.9h.8M394.1 396.3h.8M394.4 392.6h.8M409.4 373.6h.8M409.9 385.1h.8M405.3 396.2h.8M404.6 398.8h.8M393.4 395.5h.8M391.8 404.7h.8M401.5 402.6h.8M405.7 397.6h.8M410.9 372.6h.8M366.9 387.5h.8M362.1 396.9h.8M367.2 392.5h.8M366.0 393.5h.8M410.2 377.8h.8M409.7 379.0h.8M408.4 389.0h.8M406.1 370.6h.8M407.0 397.0h.8M394.3 397.8h.8M395.2 398.4h.8M402.5 402.6h.8M404.1 378.3h.8M407.8 392.7h.8M399.3 385.1h.8M394.0 397.9h.8M406.7 377.1h.8M375.5 367.2h.8M404.9 399.8h.8M361.2 364.9h.8M410.3 374.4h.8M409.3 378.1h.8M403.3 374.6h.8M398.2 387.3h.8M374.1 367.9h.8M371.9 368.9h.8M361.1 367.3h.8M375.9 362.6h.8M395.8 385.4h.8M410.1 383.8h.8M409.7 387.9h.8M410.0 377.1h.8M404.7 378.2h.8M409.3 388.4h.8M362.0 394.3h.8M368.3 392.1h.8M363.6 394.8h.8M369.3 391.8h.8M367.3 388.3h.8M411.3 376.8h.8M393.1 401.6h.8M392.6 398.3h.8M406.5 372.0h.8M399.9 382.3h.8M374.1 362.3h.8M361.1 365.7h.8M410.0 385.3h.8M394.7 394.8h.8M402.9 373.7h.8M395.0 388.0h.8M408.4 391.1h.8M409.9 389.2h.8M394.5 400.9h.8M392.1 404.2h.8M398.7 402.6h.8M404.5 399.7h.8M406.4 377.0h.8M395.3 392.6h.8M410.5 384.3h.8M398.4 402.9h.8M395.3 385.8h.8M367.5 372.6h.8M373.5 369.2h.8M368.0 372.9h.8M399.3 382.2h.8M408.3 373.5h.8M406.4 372.0h.8M394.4 399.8h.8M361.4 363.4h.8M394.2 402.0h.8M401.2 380.5h.8M374.8 365.0h.8M397.7 386.9h.8M406.7 395.2h.8M407.4 394.7h.8M395.3 386.9h.8M409.3 390.3h.8M408.8 385.6h.8M401.9 402.6h.8M400.8 377.6h.8M375.5 366.4h.8M401.8 401.0h.8M408.8 390.4h.8M359.8 362.7h.8M362.9 362.3h.8M369.9 362.2h.8M362.4 371.0h.8M370.6 369.6h.8M360.6 363.3h.8M369.3 371.8h.8M372.8 362.5h.8M363.5 393.9h.8M368.6 392.1h.8M369.0 390.9h.8M362.7 394.3h.8M362.7 393.8h.8M373.3 359.8h.8M375.8 367.3h.8M394.0 402.4h.8M407.2 395.5h.8M396.7 402.5h.8M399.3 384.6h.8M408.4 372.7h.8M411.0 373.0h.8M403.2 375.1h.8M407.1 376.7h.8M403.5 375.1h.8M406.6 376.1h.8M408.5 374.0h.8M409.3 375.4h.8M396.4 385.5h.8M370.7 369.8h.8M376.1 362.7h.8M373.9 361.0h.8M366.6 372.4h.8M373.1 361.8h.8M359.3 368.7h.8M372.6 367.9h.8M374.2 361.1h.8M407.5 376.2h.8M408.6 391.2h.8M362.9 370.9h.8M365.3 371.2h.8M361.9 362.4h.8M361.5 397.5h.8M407.2 370.7h.8M359.4 369.2h.8M367.5 391.9h.8M368.6 391.6h.8M366.5 371.8h.8M397.9 388.2h.8M411.0 382.6h.8M409.1 386.8h.8M399.4 382.3h.8M404.5 377.0h.8M394.6 399.0h.8M411.2 377.3h.8M400.6 378.4h.8M399.6 400.1h.8M396.1 385.3h.8M394.6 391.0h.8M407.6 373.6h.8M405.6 396.6h.8M360.6 363.9h.8M393.3 397.8h.8M359.3 362.9h.8M369.8 371.8h.8M375.2 365.5h.8M407.0 394.7h.8M405.5 395.6h.8M395.6 386.6h.8M400.7 403.2h.8" stroke="#7b82d8" stroke-width=".8" fill="none"/>
<path d="M364.8 361.7h.8M398.3 388.8h.8M397.7 398.9h.8M360.7 370.1h.8M400.5 402.1h.8M402.5 380.6h.8M398.4 402.4h.8M397.9 401.5h.8M399.5 401.0h.8M403.1 379.9h.8M367.6 370.7h.8M361.8 364.5h.8M366.8 361.5h.8M371.3 363.4h.8M359.6 369.3h.8M362.4 366.3h.8M368.7 370.6h.8M394.8 397.1h.8M410.1 383.1h.8M410.7 380.6h.8M405.9 378.9h.8M364.5 360.7h.8M364.6 369.6h.8M401.9 379.1h.8M406.6 377.9h.8M396.1 394.2h.8M361.8 365.9h.8M373.8 366.9h.8M369.4 370.5h.8M364.8 360.6h.8M364.8 369.5h.8M362.9 370.0h.8M366.8 360.6h.8M410.6 382.3h.8M401.7 378.2h.8M403.2 400.4h.8M367.6 361.3h.8M405.8 377.6h.8M396.5 401.4h.8M405.1 394.6h.8M395.4 399.3h.8M398.8 399.4h.8M397.3 397.3h.8M370.6 363.3h.8M394.5 395.6h.8M396.3 392.7h.8M403.4 376.1h.8M365.6 360.6h.8M361.0 368.3h.8M367.9 361.4h.8M404.7 380.1h.8M406.2 380.1h.8M407.4 390.5h.8M397.0 400.8h.8M404.0 381.3h.8M397.8 398.1h.8M406.8 380.5h.8M372.7 367.5h.8M360.1 368.6h.8M363.8 361.3h.8M362.1 369.5h.8M372.1 362.9h.8M409.9 380.1h.8M401.3 381.7h.8M360.7 368.1h.8M360.9 370.5h.8M373.9 365.7h.8M364.1 360.7h.8M408.3 387.8h.8M410.4 379.8h.8M395.5 394.8h.8M401.0 401.0h.8M400.3 400.8h.8M400.6 398.6h.8M401.0 401.7h.8M409.1 385.2h.8M405.5 379.6h.8M408.4 380.0h.8M396.3 391.3h.8M404.9 397.5h.8M397.3 397.4h.8M399.4 400.9h.8M396.3 392.3h.8M395.6 397.2h.8M404.8 380.9h.8M396.2 395.9h.8M395.7 395.6h.8M397.0 398.5h.8M362.3 365.6h.8M373.7 363.2h.8M365.3 360.6h.8M400.8 380.5h.8M395.9 399.8h.8M396.2 401.2h.8M368.5 370.8h.8M361.7 370.4h.8M361.0 370.0h.8M404.5 397.9h.8M399.2 401.9h.8M395.4 390.6h.8M403.6 396.7h.8M400.7 398.7h.8M363.9 361.0h.8M368.9 361.8h.8M405.1 379.8h.8M395.4 395.7h.8M404.3 376.8h.8M396.9 390.1h.8M395.6 392.1h.8M399.0 398.8h.8M363.1 363.0h.8M405.6 378.6h.8M403.6 377.1h.8M370.7 368.5h.8M403.1 376.6h.8M370.5 369.1h.8M410.1 379.7h.8M400.9 380.8h.8M405.5 377.6h.8M403.8 381.6h.8M406.2 394.4h.8M402.9 400.1h.8M408.4 388.8h.8M402.8 379.0h.8M395.6 392.6h.8M401.0 382.2h.8M403.8 376.0h.8M401.6 379.2h.8M395.7 394.7h.8M396.2 399.1h.8M395.9 401.1h.8M399.1 401.9h.8M400.9 381.2h.8M397.9 388.9h.8M403.8 396.6h.8M410.6 379.6h.8M402.1 380.9h.8M396.3 390.7h.8M403.3 379.1h.8M399.6 400.7h.8M396.1 397.0h.8M401.3 399.4h.8M404.5 381.3h.8M402.9 379.6h.8M402.2 377.9h.8M400.4 384.4h.8M403.6 380.3h.8M400.6 402.2h.8M401.2 401.6h.8M411.3 380.4h.8M405.9 394.2h.8M410.6 380.6h.8M402.6 377.3h.8M395.9 393.8h.8M397.7 400.7h.8M359.6 368.5h.8M402.8 376.6h.8M397.9 399.2h.8M374.3 366.6h.8M375.0 364.2h.8M406.2 380.1h.8M396.2 398.8h.8M402.4 377.4h.8M399.1 386.4h.8M405.9 379.1h.8M372.0 367.8h.8M362.3 363.7h.8M369.1 369.8h.8" stroke="#4458c4" stroke-width=".8" fill="none"/>
<path d="M369.8 367.6h.8M374.0 363.9h.8M371.7 367.1h.8M373.3 366.2h.8M367.6 362.2h.8M368.3 369.9h.8M374.1 365.5h.8M402.7 395.6h.8M403.0 382.3h.8M396.9 393.3h.8M402.4 398.6h.8M410.1 382.1h.8M402.4 381.6h.8M408.0 380.9h.8M407.8 387.0h.8M409.7 380.6h.8M409.8 382.3h.8M402.9 382.3h.8M399.2 398.2h.8M405.5 392.5h.8M401.2 397.8h.8M399.9 385.6h.8M397.5 389.8h.8M401.2 397.6h.8M402.5 395.9h.8M397.5 390.4h.8M407.1 393.5h.8M407.7 385.3h.8M369.4 369.0h.8M365.8 361.5h.8M369.7 362.8h.8M372.3 363.9h.8M362.9 367.1h.8M368.0 364.2h.8M408.6 381.1h.8M402.2 382.2h.8M406.0 381.2h.8M396.7 393.2h.8M372.9 366.1h.8M363.3 365.4h.8M362.9 364.0h.8M373.9 363.5h.8M367.5 369.9h.8M370.1 368.3h.8M368.7 363.1h.8M367.8 369.9h.8M402.0 383.3h.8M400.1 397.7h.8M398.7 398.4h.8M404.1 398.0h.8M405.9 382.4h.8M400.9 383.1h.8M400.4 402.1h.8M406.4 393.4h.8M401.5 398.5h.8M409.0 384.2h.8M402.1 398.4h.8M370.2 368.4h.8M363.7 363.3h.8M367.9 362.4h.8M368.2 362.3h.8M397.1 395.8h.8M398.3 399.6h.8M396.6 392.2h.8M399.3 398.5h.8M396.5 396.0h.8M409.3 383.4h.8M398.3 390.1h.8M406.6 393.0h.8M408.1 384.6h.8M402.3 381.6h.8M406.5 392.5h.8M405.1 382.2h.8M403.1 396.4h.8M401.5 398.6h.8M402.4 396.7h.8M407.3 390.5h.8M408.1 386.9h.8M397.8 400.5h.8M399.7 397.8h.8M398.5 387.5h.8M407.4 383.0h.8M401.6 399.1h.8M408.4 382.8h.8M402.7 398.6h.8M405.7 393.0h.8M403.1 399.1h.8M399.6 401.9h.8M361.5 368.5h.8M372.4 363.5h.8M407.7 385.7h.8M409.4 383.3h.8M404.0 394.6h.8M398.4 398.0h.8M400.2 385.6h.8M405.4 381.5h.8M402.5 398.6h.8M396.6 400.3h.8M404.1 397.6h.8M409.6 382.0h.8M406.9 390.8h.8M403.2 382.2h.8M362.7 369.3h.8M363.8 363.2h.8M368.1 364.2h.8M362.4 366.2h.8M402.6 399.0h.8M409.1 380.9h.8M397.2 400.2h.8M402.9 396.3h.8M396.5 396.3h.8M401.1 397.9h.8M407.6 383.4h.8M405.7 381.7h.8M399.8 386.0h.8M408.9 380.7h.8M397.7 400.3h.8M397.8 400.0h.8M362.8 368.7h.8M406.3 380.6h.8M400.9 383.3h.8M396.4 395.8h.8M407.7 382.4h.8M408.1 380.8h.8M372.5 364.1h.8M362.7 363.8h.8M362.8 366.2h.8M373.7 364.5h.8M362.6 366.2h.8M361.6 369.2h.8M362.0 367.9h.8M362.0 368.0h.8M372.7 365.8h.8M368.5 363.5h.8M371.2 364.3h.8M366.2 370.2h.8M397.0 392.2h.8M368.1 362.2h.8M365.8 361.5h.8M363.6 362.9h.8M368.6 368.8h.8M406.8 381.8h.8M401.0 383.4h.8M404.0 398.0h.8M408.4 381.7h.8M400.4 386.2h.8M407.6 380.8h.8M407.0 381.9h.8M409.4 381.2h.8M407.1 392.6h.8M408.2 380.7h.8M396.5 390.7h.8M407.7 385.9h.8M400.2 398.3h.8M407.6 382.3h.8M406.6 392.7h.8M409.7 382.3h.8M368.6 362.9h.8M367.5 364.4h.8M372.6 366.1h.8M365.4 369.7h.8M362.7 367.9h.8M371.3 363.8h.8M368.1 369.6h.8M370.1 363.4h.8M398.0 390.3h.8M402.7 381.5h.8M396.8 391.4h.8M405.9 381.5h.8M396.8 400.0h.8M403.5 394.5h.8M405.1 394.2h.8M369.2 363.2h.8M364.2 363.2h.8M363.6 368.6h.8M369.8 367.6h.8M368.6 369.0h.8M398.7 398.3h.8M365.6 361.9h.8M370.3 368.1h.8M366.5 369.8h.8M361.1 369.4h.8M369.7 368.8h.8M365.3 362.6h.8M362.2 367.7h.8M368.2 362.3h.8M373.2 365.7h.8M374.1 363.9h.8M371.8 367.0h.8M404.9 393.7h.8M403.7 398.0h.8M363.3 366.6h.8M371.4 367.0h.8M362.0 369.0h.8M369.0 369.2h.8M361.9 369.2h.8M361.5 368.6h.8M373.3 364.5h.8M374.4 364.2h.8M398.5 387.7h.8M397.5 390.4h.8M401.0 382.8h.8M400.2 384.9h.8M362.4 365.0h.8M360.6 368.9h.8M371.4 364.5h.8" stroke="#2c7cc6" stroke-width=".8" fill="none"/>
<path d="M398.8 396.7h.8M408.1 384.0h.8M398.5 396.6h.8M364.6 368.3h.8M369.2 364.0h.8M368.1 364.8h.8M367.7 366.9h.8M404.8 383.6h.8M405.5 382.7h.8M366.5 365.6h.8M365.2 364.3h.8M365.4 363.5h.8M370.6 365.2h.8M371.1 366.0h.8M368.8 368.2h.8M363.9 367.4h.8M365.4 367.6h.8M366.1 367.3h.8M407.4 385.5h.8M403.0 395.3h.8M405.5 391.3h.8M367.1 365.2h.8M365.2 364.4h.8M369.4 366.9h.8M371.3 366.3h.8M364.5 365.8h.8M369.0 364.5h.8M367.0 362.8h.8M364.5 368.1h.8M364.5 363.8h.8M365.7 364.4h.8M366.5 361.7h.8M366.4 362.6h.8M368.5 363.6h.8M366.1 364.9h.8M363.5 368.0h.8M372.6 364.6h.8M365.2 366.3h.8M364.3 367.8h.8M366.2 366.3h.8M370.6 365.9h.8M369.1 368.0h.8M364.5 367.5h.8M371.0 366.1h.8M372.1 365.1h.8M370.8 365.5h.8M399.8 386.9h.8M400.5 385.4h.8M398.4 390.7h.8M402.6 397.9h.8M406.3 386.9h.8M406.5 389.5h.8M405.3 387.4h.8M404.7 391.4h.8M405.2 392.7h.8M371.2 367.3h.8M371.3 367.2h.8M363.9 365.5h.8M366.5 366.8h.8M369.0 365.5h.8M367.1 364.1h.8M366.5 365.1h.8M367.6 369.1h.8M365.8 362.8h.8M398.0 396.7h.8M405.3 383.1h.8M405.4 390.6h.8M363.8 364.3h.8M369.7 366.8h.8M366.8 363.4h.8M407.4 384.9h.8M403.7 393.8h.8M406.3 382.7h.8M405.7 384.6h.8M402.5 397.8h.8M401.6 383.6h.8M407.2 385.7h.8M400.8 384.0h.8M404.7 390.3h.8M366.1 363.9h.8M370.4 366.7h.8M363.4 364.5h.8M363.6 364.8h.8M366.9 362.0h.8M370.2 363.8h.8M365.7 364.2h.8M372.9 365.3h.8M401.5 396.6h.8M367.7 366.2h.8M365.1 365.0h.8M364.8 366.4h.8M365.9 366.9h.8M365.0 368.7h.8M406.1 384.4h.8M363.8 364.8h.8M371.8 365.1h.8M369.0 365.1h.8M363.9 368.2h.8M368.3 366.5h.8M369.5 366.6h.8M367.4 363.1h.8M372.9 365.4h.8M365.0 366.3h.8M403.8 394.0h.8M406.3 391.0h.8M403.0 382.7h.8M406.8 386.6h.8M406.5 390.5h.8M365.2 368.6h.8M406.1 390.6h.8M406.7 388.6h.8M399.2 389.2h.8M406.1 383.0h.8M405.5 386.4h.8M405.5 382.8h.8M404.3 382.8h.8M405.9 382.8h.8M405.3 392.3h.8M399.6 397.3h.8M401.3 383.6h.8M404.5 387.4h.8M399.3 389.1h.8M405.0 392.3h.8M400.2 387.2h.8M370.6 366.8h.8M364.3 364.2h.8M366.4 364.5h.8M364.9 368.5h.8M364.2 365.8h.8M407.0 384.8h.8M366.1 367.3h.8M367.1 365.4h.8M367.2 364.1h.8M367.5 365.6h.8M368.3 365.1h.8M369.2 365.0h.8M404.1 383.3h.8M406.3 385.2h.8M406.7 383.5h.8M402.5 397.9h.8M405.8 386.4h.8M402.8 395.2h.8M402.2 384.1h.8M400.6 384.4h.8M368.8 365.7h.8M368.2 368.2h.8M363.4 366.2h.8M367.6 367.5h.8M364.1 364.8h.8M367.8 367.6h.8M366.6 363.3h.8M371.0 365.5h.8M407.2 388.9h.8M405.5 389.6h.8M402.4 398.3h.8M398.6 396.8h.8M398.8 396.9h.8M365.5 364.1h.8M366.8 365.9h.8M404.7 384.1h.8M404.6 385.7h.8M406.5 383.8h.8M407.1 385.0h.8M405.5 384.8h.8M406.1 384.2h.8M364.6 369.2h.8M368.8 363.9h.8M369.7 366.8h.8M367.0 362.1h.8M365.4 365.0h.8M405.6 391.3h.8M405.6 384.3h.8M403.4 395.1h.8M400.7 386.1h.8M407.3 387.2h.8M397.5 391.4h.8M403.9 393.8h.8M404.7 390.5h.8M407.9 383.7h.8M407.4 384.3h.8M406.8 387.8h.8M397.9 391.1h.8M407.6 384.2h.8M407.0 385.5h.8M403.5 394.4h.8M405.8 391.2h.8M406.1 392.2h.8M400.4 397.0h.8M405.1 386.1h.8M406.6 389.9h.8M407.2 382.6h.8M406.6 388.1h.8M406.4 383.5h.8M403.4 383.0h.8M400.0 397.3h.8M406.9 390.1h.8M400.8 385.0h.8M366.7 366.0h.8M401.1 387.5h.8M369.3 368.0h.8M366.9 366.5h.8M366.0 364.4h.8M366.2 367.1h.8M405.5 385.8h.8M407.1 389.5h.8M403.9 393.7h.8M406.2 386.0h.8M404.5 391.8h.8M401.4 384.0h.8M406.6 385.7h.8M400.5 384.6h.8M404.7 391.3h.8M406.0 389.6h.8M406.0 392.3h.8M405.7 383.5h.8M400.8 397.4h.8M404.9 389.9h.8M405.3 389.9h.8M405.5 385.6h.8M400.4 385.0h.8M399.5 387.2h.8M405.3 387.3h.8M407.5 383.6h.8M405.3 386.4h.8M402.4 382.5h.8M366.4 365.8h.8M367.9 368.8h.8M364.8 364.1h.8M367.4 367.9h.8M373.3 365.4h.8M369.2 365.9h.8M368.5 365.6h.8M371.0 365.2h.8M368.9 364.1h.8M364.7 365.6h.8M408.0 384.3h.8M364.0 363.7h.8M364.2 367.6h.8M401.4 385.7h.8M405.4 391.7h.8M405.3 391.0h.8M400.6 386.2h.8M407.0 388.9h.8M406.5 383.8h.8M366.1 362.8h.8M365.3 366.2h.8M368.9 364.5h.8M366.2 365.9h.8M369.7 363.9h.8M366.4 365.1h.8M371.3 365.8h.8M371.8 364.6h.8M372.5 365.4h.8M398.0 391.4h.8M405.8 383.5h.8M406.3 391.1h.8M407.6 384.4h.8M400.4 386.8h.8M401.3 397.4h.8M401.4 385.0h.8M403.2 398.3h.8M402.5 397.7h.8M400.6 396.8h.8M405.5 386.0h.8M406.3 383.0h.8M401.2 383.8h.8M404.9 392.4h.8M406.4 387.3h.8M400.9 385.6h.8M406.9 386.0h.8M406.9 386.7h.8M405.1 392.0h.8M406.4 390.9h.8M407.0 384.2h.8M407.3 384.3h.8M404.7 385.7h.8M407.1 385.5h.8M401.3 384.8h.8M404.7 383.1h.8M398.8 396.6h.8M400.9 397.0h.8M368.9 367.9h.8M373.3 364.7h.8M365.5 362.8h.8M363.8 367.9h.8M369.2 365.3h.8M364.5 366.3h.8M365.6 365.3h.8M366.4 361.8h.8M363.9 366.9h.8M367.5 367.3h.8M364.4 366.6h.8M367.1 366.1h.8" stroke="#22a2aa" stroke-width=".8" fill="none"/>
<path d="M369.5 366.2h.8M367.3 369.4h.8M403.4 385.4h.8M365.1 367.2h.8M402.8 384.4h.8M367.2 368.4h.8M369.9 366.2h.8M366.7 368.2h.8M401.6 385.0h.8M400.7 395.6h.8M404.2 384.0h.8M367.3 368.8h.8M402.3 386.0h.8M400.2 396.0h.8M402.7 384.1h.8M397.7 394.4h.8M397.5 396.0h.8M400.8 396.2h.8M398.1 391.6h.8M398.3 392.7h.8M405.8 388.9h.8M400.7 396.5h.8M398.1 394.3h.8M403.5 387.3h.8M403.6 391.6h.8M405.2 387.7h.8M398.2 395.8h.8M398.3 394.2h.8M405.5 388.0h.8M403.3 385.8h.8M403.6 392.1h.8M403.8 390.2h.8M398.2 394.4h.8M400.3 388.7h.8M404.2 389.6h.8M405.2 388.1h.8M403.7 392.4h.8M403.9 391.7h.8M404.2 385.0h.8M402.8 386.5h.8M370.0 365.4h.8M369.5 364.6h.8M367.3 368.6h.8M401.5 395.9h.8M404.6 384.8h.8M397.6 396.3h.8M404.9 389.3h.8M401.9 385.6h.8M402.4 393.8h.8M403.1 394.0h.8M400.0 387.5h.8M403.6 387.2h.8M401.6 387.1h.8M401.6 396.5h.8M403.7 390.6h.8M399.6 388.4h.8M399.4 387.7h.8M399.9 388.5h.8M404.8 389.1h.8M397.9 394.9h.8M402.7 384.9h.8M400.0 389.4h.8M401.9 386.6h.8M403.5 385.8h.8M403.7 386.7h.8M397.9 391.6h.8M397.9 395.4h.8M403.6 393.3h.8M404.4 392.9h.8M397.4 394.6h.8M399.9 388.4h.8M405.5 388.1h.8M404.0 383.8h.8M404.7 384.6h.8M403.7 389.7h.8M399.8 396.3h.8M406.1 387.5h.8M404.2 393.2h.8M402.2 386.3h.8M405.2 384.9h.8M402.1 384.6h.8M401.9 387.1h.8M402.6 384.3h.8M403.5 391.0h.8M397.6 393.4h.8M397.7 391.9h.8M398.0 394.0h.8M403.7 392.4h.8M406.0 388.0h.8M398.3 393.2h.8M397.7 395.9h.8M404.4 384.8h.8M403.9 385.9h.8M403.3 384.3h.8M404.8 387.7h.8M397.6 392.8h.8M404.9 389.4h.8M403.8 384.9h.8M401.6 396.2h.8M400.2 388.5h.8M404.4 391.3h.8M401.7 395.8h.8M406.1 388.7h.8M404.4 383.8h.8M397.8 393.3h.8M404.3 393.5h.8M397.8 393.4h.8M402.0 386.3h.8M404.0 384.6h.8M397.4 394.4h.8M404.0 390.4h.8M402.4 384.1h.8M403.8 385.2h.8M405.7 389.2h.8M402.0 384.6h.8M404.1 386.6h.8M404.1 393.2h.8M403.4 385.3h.8M404.4 390.4h.8M404.3 384.0h.8M403.6 384.8h.8M405.5 388.1h.8M401.5 394.9h.8M401.9 386.2h.8M397.5 395.9h.8M399.9 389.2h.8M399.9 389.4h.8M398.0 392.3h.8M402.2 396.5h.8M399.6 395.9h.8M403.9 384.0h.8M399.6 395.7h.8M403.3 385.9h.8M401.6 395.6h.8M403.8 384.2h.8M398.6 390.4h.8M401.8 395.6h.8M402.4 386.1h.8M403.9 392.8h.8M400.7 396.3h.8M406.2 387.9h.8M404.6 385.0h.8M401.8 396.1h.8M402.4 394.0h.8M402.6 385.9h.8M398.2 395.6h.8M399.8 388.4h.8M404.1 385.4h.8M405.7 387.6h.8M405.7 388.6h.8M400.5 396.0h.8M403.3 383.6h.8M402.8 385.7h.8M399.8 388.9h.8M403.3 386.3h.8M405.7 388.5h.8M402.3 384.8h.8M401.4 386.6h.8M403.1 384.4h.8M405.5 388.2h.8M402.1 387.2h.8M400.3 396.4h.8M404.2 386.2h.8M401.9 387.2h.8M400.4 389.3h.8M401.9 395.0h.8M398.4 392.8h.8M406.0 389.5h.8M405.1 389.0h.8M398.0 392.0h.8M403.9 383.9h.8M402.7 385.7h.8M401.9 395.3h.8M398.0 392.9h.8M366.8 369.1h.8M365.6 369.1h.8M369.9 366.3h.8M367.2 368.2h.8M366.7 368.9h.8M366.0 368.5h.8M366.1 368.4h.8M369.5 366.2h.8M364.7 367.2h.8M366.7 369.0h.8M365.8 368.6h.8M367.0 367.7h.8M369.8 364.7h.8M367.0 368.6h.8M367.3 368.4h.8M367.4 367.7h.8M365.3 367.2h.8M370.3 365.1h.8M369.9 366.4h.8M369.6 365.7h.8M365.9 369.2h.8M370.3 365.5h.8M365.2 367.5h.8M365.4 368.3h.8M366.6 367.6h.8M365.2 367.4h.8M364.8 366.8h.8M366.7 368.0h.8M367.3 368.2h.8M366.1 368.6h.8M369.5 365.1h.8M366.6 369.4h.8" stroke="#4cb54e" stroke-width=".8" fill="none"/>
<path d="M400.6 388.0h.8M401.2 388.5h.8M400.2 393.2h.8M398.7 396.5h.8M398.9 395.7h.8M399.8 394.8h.8M399.1 394.6h.8M399.2 394.6h.8M398.8 396.4h.8M403.6 388.7h.8M403.5 388.2h.8M402.4 393.1h.8M401.3 394.7h.8M400.8 388.1h.8M401.0 394.8h.8M402.9 387.6h.8M402.3 387.6h.8M398.9 394.5h.8M402.8 389.9h.8M403.6 388.5h.8M402.9 389.6h.8M399.0 392.3h.8M399.9 393.7h.8M402.4 387.7h.8M403.8 387.7h.8M400.3 393.9h.8M399.3 390.6h.8M401.9 394.1h.8M403.1 391.4h.8M399.1 392.0h.8M402.7 389.9h.8M402.7 387.3h.8M403.3 387.3h.8M399.3 395.7h.8M402.5 390.7h.8M398.9 392.2h.8M401.8 388.0h.8M400.0 390.3h.8M399.1 392.4h.8M401.1 395.0h.8M402.1 394.3h.8M403.9 387.9h.8M401.3 395.1h.8M402.5 389.6h.8M400.8 388.9h.8M398.6 395.8h.8M400.5 388.3h.8M399.4 394.4h.8M398.7 392.4h.8M401.2 388.1h.8M398.7 396.4h.8M398.6 394.7h.8M401.8 393.8h.8M398.7 392.3h.8M400.8 388.2h.8M401.1 389.3h.8M402.4 394.5h.8M403.3 392.6h.8M399.4 393.9h.8M400.4 393.6h.8M404.3 389.5h.8M400.3 390.1h.8M399.3 395.1h.8M402.9 390.5h.8M402.7 393.1h.8M404.0 388.6h.8M404.4 387.8h.8M399.3 394.2h.8M402.9 391.9h.8M402.7 386.9h.8M399.3 390.7h.8M400.9 389.3h.8M401.3 394.5h.8M401.1 388.6h.8M400.6 394.7h.8M398.5 393.3h.8M402.4 392.3h.8M399.5 395.3h.8M398.5 395.2h.8M403.1 390.6h.8M402.1 388.5h.8M400.3 394.2h.8M403.0 393.0h.8M401.0 388.9h.8M399.8 390.2h.8M399.4 390.5h.8M403.1 391.0h.8M398.8 391.4h.8M400.9 389.9h.8M399.4 389.7h.8M402.4 388.5h.8M399.6 392.6h.8M399.6 394.6h.8M399.7 393.1h.8M403.2 392.4h.8M401.3 388.4h.8M402.8 391.3h.8M404.0 388.7h.8M398.8 393.3h.8M398.5 394.3h.8M402.8 392.6h.8M398.5 393.9h.8M404.0 387.8h.8M399.2 391.8h.8M398.9 396.4h.8M402.8 387.5h.8M404.3 387.9h.8M402.6 391.2h.8M404.0 387.7h.8M402.6 387.3h.8M399.8 394.7h.8M401.4 387.6h.8M402.0 393.6h.8M398.6 394.8h.8M403.3 388.2h.8M402.8 393.4h.8M403.3 388.0h.8M402.9 391.7h.8M402.5 387.4h.8M402.7 388.5h.8M402.2 388.1h.8M400.3 390.0h.8M400.6 389.6h.8M399.7 392.8h.8M404.2 387.7h.8M398.9 396.3h.8M399.7 393.5h.8M402.4 387.8h.8M403.8 388.8h.8M399.1 391.5h.8M400.3 394.1h.8M403.1 390.9h.8M399.4 394.5h.8M403.1 391.1h.8M400.0 394.4h.8M402.7 392.6h.8M400.5 395.1h.8M399.6 390.2h.8M398.8 391.5h.8M400.1 389.6h.8M398.4 390.8h.8M398.8 394.6h.8M398.7 394.7h.8M402.3 393.7h.8M402.8 389.8h.8M400.2 392.7h.8M401.6 388.5h.8M401.3 390.5h.8M403.7 388.8h.8M398.9 391.0h.8M398.5 393.5h.8M400.2 394.2h.8M400.4 392.6h.8" stroke="#b8cf2c" stroke-width=".8" fill="none"/>
<path d="M399.4 391.8h.8M400.1 392.5h.8M401.6 390.1h.8M402.4 389.0h.8M401.1 394.0h.8M401.5 391.0h.8M402.3 388.6h.8M402.2 393.4h.8M401.1 391.3h.8M403.3 388.8h.8M400.6 393.4h.8M402.3 390.5h.8M400.6 392.5h.8M401.8 390.6h.8M401.4 390.7h.8M399.8 392.3h.8M401.6 389.2h.8M401.1 393.9h.8M402.1 392.1h.8M400.3 392.2h.8M401.4 391.2h.8M401.3 392.6h.8M400.7 392.3h.8M399.7 391.9h.8M402.4 391.8h.8M402.1 391.5h.8M401.6 392.6h.8M400.9 392.1h.8M400.5 393.6h.8M401.9 393.1h.8M400.7 393.9h.8M401.5 393.0h.8M401.6 389.9h.8M400.7 391.2h.8M399.6 390.8h.8M399.9 391.6h.8M400.2 390.5h.8M402.1 391.8h.8M399.8 390.8h.8M400.4 390.5h.8M400.5 391.5h.8M401.4 394.4h.8M402.3 392.8h.8M399.9 392.3h.8M402.3 388.6h.8M400.6 391.4h.8M401.0 390.6h.8M402.3 388.9h.8M401.8 393.5h.8M401.9 389.0h.8M403.1 389.0h.8M400.3 391.3h.8M400.9 393.1h.8M400.7 393.1h.8M401.2 391.8h.8M400.0 391.0h.8M400.4 392.0h.8M403.0 389.0h.8M400.8 392.4h.8M402.2 390.8h.8M400.4 390.5h.8M399.6 390.8h.8M401.2 394.2h.8M400.8 390.9h.8M402.3 393.1h.8M402.5 388.9h.8M401.6 389.7h.8M401.4 393.7h.8M401.4 390.7h.8M401.1 393.6h.8M401.0 391.3h.8M400.4 393.2h.8M399.4 391.9h.8M401.9 392.1h.8M401.9 392.1h.8M403.3 388.6h.8M401.5 390.2h.8M402.2 389.9h.8M402.2 390.1h.8M401.2 394.3h.8M402.2 388.7h.8M401.5 388.6h.8M403.3 388.6h.8M402.6 389.4h.8M402.1 391.8h.8M400.9 390.8h.8M401.8 391.3h.8M401.3 393.6h.8M399.6 390.6h.8M400.9 393.6h.8M401.8 392.6h.8M403.1 389.1h.8M402.1 392.0h.8M399.7 391.3h.8M401.1 393.3h.8M402.2 393.0h.8M400.2 391.0h.8M401.9 388.8h.8M401.9 389.6h.8M401.6 389.6h.8M401.9 389.3h.8M401.2 391.6h.8M400.8 390.7h.8M400.6 392.0h.8M402.0 389.5h.8M402.5 389.3h.8M402.2 393.1h.8M399.4 391.1h.8M401.0 392.8h.8M402.1 392.3h.8" stroke="#f0a818" stroke-width=".8" fill="none"/>
<path d="M352.4 372.3H378.6L403.8 350.5" fill="none" stroke="#555" stroke-width="0.8"/>
<path d="M412.7 354.6L383.8 376.8V410.8" fill="none" stroke="#555" stroke-width="0.8"/>
<rect x="352.4" y="350.5" width="60.3" height="60.3" fill="none" stroke="#111" stroke-width="1.25"/>
<path d="M473.6 399.2h.8M421.9 367.2h.8M424.0 358.1h.8M425.3 364.1h.8M424.0 365.4h.8M429.8 371.6h.8M441.9 365.0h.8M446.3 351.4h.8M426.7 353.6h.8M456.9 354.1h.8M451.7 363.5h.8M425.8 390.8h.8M425.1 387.6h.8M436.2 386.1h.8M424.8 381.3h.8M447.1 387.2h.8M430.4 390.7h.8M436.8 386.4h.8M424.8 387.7h.8M425.5 380.4h.8M418.9 390.7h.8M427.6 400.1h.8M437.4 378.6h.8M434.9 384.6h.8M430.9 382.4h.8M431.7 401.2h.8M435.1 391.2h.8M426.9 389.8h.8M432.9 397.2h.8M421.3 391.6h.8M426.3 400.9h.8M458.5 356.8h.8M456.0 352.9h.8M449.9 363.3h.8M442.0 351.6h.8M462.7 356.9h.8M448.1 360.8h.8M459.4 364.8h.8M421.2 379.1h.8M426.7 395.3h.8M430.0 395.4h.8M431.5 374.8h.8M433.9 351.5h.8M419.9 361.7h.8M461.8 368.0h.8M471.9 360.4h.8M461.0 369.0h.8M474.4 398.0h.8M461.3 390.7h.8M464.8 395.7h.8M463.3 376.0h.8M463.9 368.4h.8M463.3 386.2h.8M433.6 383.9h.8M435.0 378.9h.8M435.9 389.0h.8M425.9 366.2h.8M461.9 353.5h.8M428.8 366.8h.8M422.5 361.9h.8M430.7 368.5h.8M427.0 365.9h.8M421.7 364.0h.8M465.3 353.4h.8M461.5 356.3h.8M460.1 354.6h.8M460.6 356.2h.8M468.7 357.7h.8M459.6 394.1h.8M474.4 385.8h.8M452.2 362.0h.8M420.3 359.3h.8M423.8 363.7h.8M427.5 368.0h.8M432.0 368.6h.8M474.2 382.8h.8M463.1 373.1h.8M456.4 352.2h.8M423.8 391.1h.8M430.1 395.5h.8M433.8 398.9h.8M433.4 382.3h.8M434.8 381.9h.8M445.3 365.1h.8M431.0 367.1h.8M419.5 365.3h.8M421.7 365.0h.8M452.7 361.4h.8M461.0 387.6h.8M466.4 357.4h.8M465.2 392.4h.8M460.1 364.8h.8M455.3 385.2h.8M464.3 391.2h.8M448.9 374.1h.8M458.9 375.4h.8M463.2 355.2h.8M474.7 378.3h.8M440.1 365.7h.8M459.4 357.0h.8M421.1 361.4h.8M460.5 379.2h.8M461.1 373.1h.8M462.1 369.0h.8M470.8 365.9h.8M470.1 391.8h.8M472.3 384.9h.8M462.6 394.5h.8M467.5 363.9h.8M467.4 389.0h.8M467.7 362.0h.8M469.5 358.3h.8M475.4 372.7h.8M457.9 377.7h.8M461.3 394.1h.8M438.0 366.6h.8M421.6 355.8h.8M430.1 369.6h.8M424.7 354.4h.8M421.8 363.1h.8M469.3 361.4h.8M474.4 368.6h.8M430.4 354.0h.8M437.3 367.6h.8M470.8 390.4h.8M456.8 382.4h.8M458.1 376.6h.8M474.5 360.6h.8M467.3 390.1h.8M461.9 396.5h.8M421.3 365.9h.8M417.9 362.9h.8M463.4 392.6h.8M461.7 365.6h.8M475.3 385.3h.8M461.1 383.8h.8M458.4 366.7h.8M471.4 362.5h.8M475.0 366.3h.8M474.8 366.5h.8M453.1 389.7h.8M421.1 354.5h.8M423.1 353.5h.8M424.7 365.5h.8M453.5 360.2h.8M470.9 392.3h.8M469.2 392.6h.8M465.7 364.1h.8M457.2 378.2h.8M469.7 360.5h.8M460.5 376.6h.8M471.8 390.0h.8M461.1 387.2h.8M453.6 358.6h.8M419.8 361.1h.8M448.2 361.5h.8M426.7 352.1h.8M425.6 355.4h.8M418.0 366.1h.8M436.9 366.5h.8M474.7 383.0h.8M466.7 357.9h.8M464.3 366.9h.8M454.2 394.1h.8M474.0 359.4h.8M456.8 384.3h.8M464.4 387.5h.8M464.4 388.7h.8M475.3 380.5h.8M469.3 387.8h.8M474.2 357.5h.8M433.0 400.4h.8M431.0 389.9h.8M423.3 392.0h.8M424.0 378.2h.8M431.5 396.1h.8M426.1 401.4h.8M432.4 387.9h.8M436.7 386.5h.8M424.9 392.5h.8M429.4 380.1h.8M429.4 388.1h.8M431.5 401.9h.8M433.8 396.1h.8M426.1 385.4h.8M435.1 405.4h.8M420.6 393.5h.8M458.6 400.8h.8M468.2 402.7h.8M466.0 360.0h.8M459.2 365.7h.8M427.8 407.9h.8M424.2 376.3h.8M459.8 359.5h.8M451.4 391.1h.8M431.9 379.0h.8M446.7 367.4h.8M450.7 351.5h.8M466.2 355.9h.8M458.3 358.0h.8M445.9 364.2h.8M421.6 360.2h.8M451.9 367.9h.8M470.7 403.7h.8M474.8 397.6h.8M432.2 407.4h.8M419.8 352.7h.8M444.3 399.2h.8M433.8 376.2h.8M424.0 365.9h.8M444.4 370.5h.8M447.1 404.8h.8M418.7 392.6h.8M457.4 372.8h.8M470.3 353.1h.8M450.1 372.8h.8M462.0 389.2h.8M450.4 386.3h.8M429.4 380.3h.8M438.9 396.9h.8" stroke="#aaaee8" stroke-width=".8" fill="none"/>
<path d="M445.8 353.3h.8M436.8 352.1h.8M438.6 353.0h.8M430.1 354.0h.8M424.0 392.8h.8M448.5 360.1h.8M456.0 357.8h.8M452.0 352.9h.8M436.1 353.1h.8M427.4 390.3h.8M429.3 389.9h.8M428.4 391.3h.8M427.7 391.3h.8M432.9 366.3h.8M428.5 389.1h.8M473.8 364.3h.8M467.7 384.7h.8M459.8 373.9h.8M474.0 378.7h.8M472.7 370.5h.8M460.8 376.1h.8M468.1 367.4h.8M466.2 385.0h.8M471.4 367.4h.8M458.5 373.8h.8M465.4 372.3h.8M466.4 369.4h.8M469.1 387.1h.8M428.3 363.8h.8M431.2 356.3h.8M474.3 376.5h.8M464.7 379.7h.8M468.2 377.0h.8M438.5 364.3h.8M474.8 380.7h.8M464.6 383.4h.8M464.5 373.2h.8M461.8 381.2h.8M469.8 386.5h.8M467.4 367.8h.8M473.1 365.4h.8M467.2 383.9h.8M473.8 367.1h.8M465.1 361.1h.8M465.4 383.7h.8M464.8 361.0h.8M472.3 364.9h.8M419.1 358.1h.8M462.5 380.2h.8M471.1 363.1h.8M463.4 369.8h.8M466.0 373.2h.8M462.0 383.9h.8M465.2 369.7h.8M462.1 381.6h.8M472.8 378.5h.8M461.9 379.8h.8M453.3 357.6h.8M466.4 368.6h.8M474.5 373.7h.8M467.9 366.7h.8M468.9 369.1h.8M469.5 383.5h.8M472.3 362.8h.8M464.5 373.4h.8M469.7 385.9h.8M442.7 362.5h.8M436.3 351.9h.8M438.8 353.4h.8M455.7 356.3h.8M474.1 376.9h.8M464.9 363.4h.8M467.0 386.2h.8M462.8 383.5h.8M466.1 388.9h.8M464.1 380.1h.8M475.1 373.8h.8M464.1 377.4h.8M463.6 383.3h.8M471.9 364.3h.8M469.6 367.2h.8M471.3 384.0h.8M462.4 383.4h.8M464.6 370.4h.8M474.7 382.2h.8M465.2 370.5h.8M465.9 374.2h.8M462.3 381.0h.8M436.2 352.5h.8M447.9 359.7h.8M432.7 354.8h.8M456.0 357.1h.8M459.8 373.9h.8M472.8 369.8h.8M469.8 384.5h.8M475.1 381.5h.8M465.7 374.2h.8M473.8 380.6h.8M464.0 383.7h.8M474.2 378.9h.8M465.7 388.6h.8M450.0 360.3h.8M448.9 358.3h.8M436.2 353.0h.8M432.4 355.2h.8M472.8 366.6h.8M473.6 368.8h.8M436.4 351.7h.8M423.0 360.8h.8M429.0 365.3h.8M462.2 384.4h.8M464.4 362.9h.8M460.4 376.2h.8M463.4 369.0h.8M464.4 385.3h.8M472.2 362.7h.8M465.4 382.7h.8M464.9 384.7h.8M473.5 368.6h.8M462.6 381.3h.8M466.2 383.2h.8M472.6 365.1h.8M441.6 363.9h.8M449.4 362.2h.8M424.9 363.3h.8M462.0 382.5h.8M468.7 366.6h.8M474.3 369.5h.8M471.5 369.2h.8M465.2 373.4h.8M472.4 381.8h.8M468.2 368.9h.8M468.0 387.1h.8M468.5 367.0h.8M467.7 386.5h.8M424.5 358.7h.8M471.7 366.9h.8M467.2 389.1h.8M467.1 384.8h.8M472.5 380.5h.8M425.7 353.6h.8M423.2 359.7h.8M435.2 363.6h.8M439.6 353.0h.8M454.0 357.1h.8M431.5 389.5h.8M464.5 362.5h.8M465.8 384.8h.8M419.1 358.1h.8M429.3 355.8h.8M448.1 352.4h.8M424.9 357.7h.8M428.9 363.9h.8M430.5 365.2h.8M430.2 365.1h.8M470.0 385.6h.8M428.5 365.0h.8M431.2 356.5h.8M447.6 358.1h.8M428.5 366.4h.8M437.8 353.6h.8M446.1 362.0h.8M431.6 366.1h.8M473.0 368.5h.8M469.5 386.3h.8M448.5 352.2h.8M435.0 366.8h.8M426.6 361.5h.8M451.5 357.8h.8M449.6 360.5h.8M452.6 352.1h.8M436.9 363.8h.8M429.4 365.5h.8M454.6 353.6h.8M458.9 352.9h.8M449.9 361.5h.8M446.5 358.6h.8M441.8 352.6h.8M455.1 354.4h.8M428.2 366.6h.8M433.7 367.3h.8M435.2 364.5h.8M455.3 355.1h.8M445.5 353.1h.8M450.6 359.8h.8M452.4 360.4h.8M441.5 353.6h.8M455.2 356.2h.8M473.0 378.9h.8M473.1 368.4h.8M471.9 367.5h.8M461.4 380.0h.8M436.1 365.0h.8M439.5 352.6h.8M419.0 358.0h.8M436.8 352.5h.8M429.3 353.6h.8M450.0 357.7h.8M429.7 389.8h.8M427.0 388.3h.8M428.4 389.7h.8M426.5 388.0h.8M452.7 352.4h.8M429.7 355.4h.8M452.0 359.5h.8M437.9 364.1h.8M451.7 358.6h.8M446.4 358.3h.8M458.4 353.4h.8M456.4 354.9h.8M446.9 358.9h.8M458.5 354.0h.8M455.2 356.6h.8M457.4 354.2h.8M452.5 357.4h.8M444.1 352.0h.8M444.4 351.7h.8M450.5 352.8h.8M457.8 355.6h.8M450.1 352.1h.8M423.2 358.9h.8M452.2 352.6h.8M448.1 351.6h.8M437.6 355.4h.8M457.3 356.4h.8M449.8 353.2h.8M453.1 356.6h.8M433.0 388.8h.8M433.2 388.5h.8M427.1 387.9h.8M423.4 393.0h.8M432.6 354.5h.8M426.4 356.7h.8M425.9 357.8h.8M437.1 364.2h.8M427.6 363.7h.8M464.3 379.1h.8M435.3 366.1h.8" stroke="#7b82d8" stroke-width=".8" fill="none"/>
<path d="M441.4 357.8h.8M450.6 355.0h.8M447.3 355.3h.8M445.8 354.6h.8M447.1 353.9h.8M440.7 357.6h.8M427.9 361.5h.8M427.5 358.3h.8M432.9 355.9h.8M438.7 360.0h.8M431.5 357.2h.8M441.9 362.4h.8M428.4 358.2h.8M449.9 354.9h.8M433.6 365.9h.8M426.8 358.0h.8M471.6 377.5h.8M441.1 361.8h.8M441.4 360.1h.8M438.6 363.4h.8M439.5 363.0h.8M440.3 360.2h.8M440.4 361.5h.8M440.4 358.3h.8M466.7 373.0h.8M472.6 373.5h.8M466.9 375.3h.8M469.3 371.1h.8M471.4 382.2h.8M466.4 371.1h.8M465.6 376.1h.8M468.6 378.2h.8M449.4 355.3h.8M428.1 358.1h.8M453.1 354.6h.8M435.0 355.4h.8M439.4 359.3h.8M442.7 361.0h.8M429.4 362.8h.8M436.5 359.2h.8M448.4 353.8h.8M443.8 353.0h.8M452.9 355.0h.8M453.6 354.7h.8M446.5 353.7h.8M445.9 357.6h.8M456.4 357.1h.8M440.1 358.8h.8M444.2 353.0h.8M433.1 362.5h.8M447.4 353.3h.8M445.8 358.0h.8M448.3 356.9h.8M441.4 360.7h.8M449.5 357.5h.8M449.3 354.4h.8M430.5 357.5h.8M452.7 354.4h.8M450.4 353.5h.8M469.9 367.9h.8M446.6 353.6h.8M470.2 371.0h.8M429.3 362.9h.8M431.5 365.1h.8M450.4 355.4h.8M432.4 364.3h.8M433.4 364.3h.8M431.4 356.5h.8M425.3 361.3h.8M431.2 360.1h.8M439.4 363.2h.8M441.0 353.8h.8M443.0 361.5h.8M465.5 370.4h.8M464.7 376.1h.8M471.0 380.9h.8M464.5 375.9h.8M443.0 359.4h.8M439.0 354.8h.8M449.9 356.7h.8M473.8 371.2h.8M468.0 383.8h.8M445.0 354.0h.8M437.3 360.4h.8M450.7 358.3h.8M447.6 353.6h.8M441.1 362.8h.8M429.8 357.2h.8M442.9 362.1h.8M457.2 355.7h.8M450.7 356.6h.8M445.1 355.4h.8M443.1 353.2h.8M426.4 358.9h.8M446.4 355.9h.8M443.2 353.3h.8M440.9 359.3h.8M445.1 359.4h.8M436.3 354.7h.8M429.1 356.8h.8M446.6 356.4h.8M465.8 378.2h.8M433.9 366.0h.8M426.1 361.3h.8M472.0 371.5h.8M467.0 374.9h.8M465.4 371.0h.8M467.9 383.2h.8M453.8 354.6h.8M452.1 353.6h.8M446.8 352.8h.8M457.2 356.5h.8M425.2 362.3h.8M452.6 355.4h.8M440.5 363.6h.8M440.4 354.6h.8M426.7 357.9h.8M439.6 361.0h.8M435.2 362.6h.8M442.0 361.9h.8M447.8 353.1h.8M452.3 355.4h.8M451.2 355.7h.8M443.1 359.6h.8M450.1 354.3h.8M439.0 361.3h.8M445.1 353.1h.8M443.8 362.1h.8M425.4 359.8h.8M427.0 358.6h.8M444.1 361.5h.8M440.4 355.2h.8M435.1 363.0h.8M441.9 360.0h.8M428.7 357.6h.8M424.8 359.7h.8M463.7 373.6h.8M472.3 372.1h.8M474.4 375.3h.8M472.8 376.4h.8M464.4 374.7h.8M473.6 371.6h.8M470.3 368.3h.8M437.3 363.0h.8M465.9 376.2h.8M473.2 364.4h.8M466.5 370.3h.8M465.4 377.1h.8M465.7 377.2h.8M471.4 382.7h.8M473.1 372.6h.8M467.7 380.6h.8M427.5 361.8h.8M439.1 361.1h.8M434.0 365.6h.8M433.4 355.7h.8M425.7 361.2h.8M431.2 364.4h.8M425.0 362.4h.8M474.1 371.4h.8M465.7 376.6h.8M464.0 374.0h.8M468.7 378.2h.8M464.5 377.5h.8M472.1 381.7h.8M471.3 379.0h.8M472.0 377.5h.8M466.0 381.7h.8M470.1 371.0h.8M471.7 380.6h.8M471.8 377.1h.8M469.6 367.5h.8M473.0 375.0h.8M473.7 375.5h.8M473.3 370.6h.8M463.4 379.2h.8M457.1 357.2h.8M438.9 361.8h.8M440.7 364.2h.8M438.4 362.3h.8M444.6 355.4h.8M439.4 363.8h.8M464.2 377.7h.8M470.2 369.2h.8M428.0 357.1h.8M435.8 354.9h.8M433.9 364.9h.8M468.4 380.5h.8M474.2 372.1h.8M471.4 377.2h.8M465.9 380.5h.8M426.3 359.0h.8M469.0 381.1h.8M467.0 380.9h.8M470.1 371.0h.8M473.3 363.7h.8M471.9 382.6h.8M473.6 374.0h.8M466.8 381.3h.8M471.0 369.7h.8M434.4 363.3h.8M439.2 361.8h.8M428.8 356.7h.8M438.8 359.9h.8M430.7 358.7h.8M444.6 354.6h.8M436.4 355.3h.8M431.2 357.2h.8M471.3 381.8h.8M470.4 370.5h.8M473.4 373.0h.8M436.4 355.4h.8M425.6 361.3h.8M426.2 360.9h.8M441.4 359.9h.8M443.0 353.3h.8M470.3 368.2h.8M474.0 374.7h.8M471.2 380.5h.8M466.9 380.6h.8M465.0 374.7h.8M468.7 384.1h.8M473.9 375.5h.8M471.4 375.9h.8M472.2 379.1h.8M473.5 372.4h.8M469.4 367.8h.8M466.6 380.6h.8M471.5 383.3h.8M435.2 361.6h.8M423.8 359.6h.8M438.3 360.1h.8M439.8 360.6h.8M471.9 381.4h.8M466.3 376.5h.8M465.8 379.5h.8M470.5 369.4h.8M467.5 382.8h.8M473.0 374.3h.8M471.1 370.5h.8M469.2 377.8h.8M467.2 371.8h.8M463.3 378.4h.8M464.2 378.5h.8M472.2 380.0h.8M425.0 360.8h.8M439.9 362.5h.8M442.5 354.3h.8M474.9 374.7h.8M467.2 376.3h.8M467.7 371.2h.8M467.4 370.6h.8M465.9 370.6h.8M467.1 370.0h.8M471.6 372.4h.8M472.0 375.5h.8M463.5 375.2h.8M464.0 375.5h.8M471.7 370.9h.8M470.6 371.7h.8M468.7 380.4h.8M470.5 369.4h.8M465.5 381.6h.8M463.7 379.0h.8M450.9 357.8h.8M429.2 363.4h.8M443.3 353.6h.8M438.7 354.9h.8M440.8 359.7h.8M442.8 357.9h.8M440.5 364.5h.8M451.1 354.8h.8M440.8 359.4h.8M428.2 358.9h.8M473.6 371.6h.8M463.6 374.9h.8M474.8 376.0h.8M474.4 376.3h.8M473.0 375.3h.8M465.0 377.4h.8M442.9 358.9h.8M432.2 364.5h.8M428.1 358.0h.8M432.2 363.7h.8M452.0 356.3h.8M444.6 363.2h.8M440.1 360.8h.8M428.5 358.9h.8M466.9 370.8h.8M450.6 355.3h.8M444.9 361.2h.8M456.3 355.7h.8M440.2 362.3h.8M451.6 353.5h.8M444.6 352.7h.8M433.4 363.1h.8M424.2 360.6h.8M438.9 363.5h.8M433.9 363.1h.8M450.7 358.1h.8M450.6 357.0h.8M467.7 384.3h.8M469.5 368.9h.8M466.7 376.7h.8M435.0 361.7h.8M466.6 380.5h.8M469.4 371.5h.8M433.3 364.3h.8M437.9 359.5h.8M424.0 360.2h.8M432.8 362.9h.8M444.9 363.2h.8M425.6 360.5h.8M446.9 355.9h.8M431.1 358.0h.8M448.5 354.4h.8M430.6 358.8h.8M450.8 355.7h.8M433.2 363.7h.8M425.5 359.5h.8M431.9 359.9h.8M430.7 356.8h.8M434.4 356.2h.8M434.8 354.6h.8M442.5 360.7h.8M471.6 371.7h.8M439.4 359.6h.8M444.4 361.1h.8M445.1 359.7h.8M432.0 365.4h.8M438.9 362.9h.8M439.1 354.7h.8M423.8 360.9h.8" stroke="#4458c4" stroke-width=".8" fill="none"/>
<path d="M444.2 357.8h.8M438.4 357.3h.8M436.8 359.7h.8M438.9 357.8h.8M431.0 361.1h.8M430.1 361.8h.8M444.0 357.4h.8M432.8 360.0h.8M430.1 360.4h.8M436.0 362.5h.8M431.7 361.7h.8M468.9 382.8h.8M468.4 382.6h.8M428.7 360.8h.8M439.9 354.0h.8M467.9 375.1h.8M468.8 372.1h.8M471.0 375.3h.8M467.7 380.1h.8M469.9 379.9h.8M436.6 355.5h.8M444.5 356.5h.8M430.0 360.0h.8M438.7 357.5h.8M434.3 360.7h.8M431.6 361.9h.8M436.8 361.9h.8M432.8 361.0h.8M434.0 358.7h.8M437.3 361.0h.8M468.8 375.8h.8M438.7 358.1h.8M430.4 363.1h.8M427.3 360.5h.8M435.7 356.1h.8M428.3 361.0h.8M431.8 358.2h.8M435.0 359.5h.8M433.2 356.8h.8M432.1 361.2h.8M468.8 371.9h.8M447.7 356.3h.8M433.8 361.0h.8M435.6 355.5h.8M434.6 358.0h.8M434.4 358.0h.8M428.9 360.0h.8M433.9 359.4h.8M433.1 356.7h.8M470.5 373.8h.8M432.5 359.3h.8M435.3 360.6h.8M432.6 361.0h.8M434.9 359.5h.8M470.5 372.6h.8M443.1 355.1h.8M437.1 361.6h.8M468.2 372.6h.8M467.8 374.2h.8M429.9 360.1h.8M440.6 357.5h.8M467.9 373.1h.8M430.1 360.5h.8M442.8 356.7h.8M444.0 358.2h.8M431.4 362.5h.8M427.1 360.0h.8M428.8 361.8h.8M430.4 360.8h.8M427.9 361.2h.8M434.9 360.1h.8M428.6 361.3h.8M467.9 375.4h.8M467.0 379.5h.8M469.3 375.2h.8M468.8 383.3h.8M472.0 372.6h.8M467.8 375.4h.8M467.8 379.6h.8M433.4 359.8h.8M443.7 358.8h.8M444.7 357.9h.8M435.9 358.6h.8M429.0 362.2h.8M446.0 356.8h.8M428.0 359.8h.8M448.6 356.3h.8M445.3 361.8h.8M449.0 356.5h.8M444.5 356.8h.8M431.8 359.0h.8M448.6 355.9h.8M438.2 358.2h.8M439.4 357.9h.8M433.0 360.8h.8M435.6 361.9h.8M440.2 354.8h.8M435.3 356.3h.8M443.3 356.7h.8M437.3 357.1h.8M444.3 359.8h.8M428.2 359.6h.8M437.4 357.4h.8M429.5 361.1h.8M432.3 362.5h.8M436.9 361.0h.8M428.3 362.0h.8M443.8 357.5h.8M436.1 355.9h.8M428.1 361.2h.8M442.3 354.6h.8M443.1 355.1h.8M444.8 361.9h.8M448.3 355.5h.8M431.8 357.8h.8M440.2 353.8h.8M444.3 361.9h.8M468.6 376.0h.8M444.9 356.5h.8M435.7 360.3h.8M446.0 356.8h.8M447.6 354.7h.8M448.2 355.7h.8M429.4 360.3h.8M439.8 354.4h.8M448.9 355.6h.8M447.6 355.9h.8M445.2 361.7h.8M470.1 377.0h.8M470.6 376.0h.8M435.6 360.5h.8M443.3 360.2h.8M433.5 357.7h.8M430.9 363.2h.8M438.8 357.8h.8M444.1 358.9h.8M443.5 356.4h.8M439.5 358.4h.8M437.8 357.1h.8M429.3 361.6h.8M430.1 362.0h.8M441.0 356.8h.8M434.5 357.9h.8M467.9 372.4h.8M432.9 360.9h.8M435.9 355.6h.8M444.4 355.7h.8M433.8 360.1h.8M467.4 375.1h.8M471.9 374.9h.8M470.7 374.9h.8M470.4 377.2h.8M436.8 357.7h.8M443.2 356.8h.8M448.2 354.7h.8M469.4 374.4h.8M440.1 358.1h.8M435.3 360.9h.8M428.6 361.4h.8M433.3 357.9h.8M438.9 357.1h.8M468.0 376.0h.8M437.1 360.5h.8M434.2 358.0h.8M434.8 357.8h.8M431.6 363.3h.8M470.4 379.6h.8M469.1 381.6h.8M467.7 379.0h.8M466.6 378.8h.8M469.0 372.2h.8M468.1 378.9h.8M470.4 372.9h.8M466.7 378.8h.8M467.2 378.8h.8M427.7 360.3h.8M437.2 357.6h.8M444.7 356.6h.8M428.1 360.0h.8M437.6 357.0h.8M433.1 359.3h.8M430.9 361.9h.8M431.6 359.1h.8M435.0 359.6h.8M469.1 381.5h.8M432.2 362.3h.8M435.4 362.0h.8M467.4 376.4h.8M468.9 373.4h.8M466.9 379.4h.8M471.3 377.5h.8M432.7 358.9h.8M436.8 362.1h.8M443.9 360.2h.8M444.8 362.4h.8M435.4 362.3h.8M438.8 358.3h.8M434.5 360.2h.8M436.5 357.3h.8M445.3 356.5h.8M434.1 356.8h.8M431.6 361.4h.8M435.9 359.2h.8M448.8 356.5h.8M436.7 356.1h.8M437.6 356.6h.8M431.7 358.8h.8M440.2 354.9h.8M434.3 356.9h.8M437.0 360.6h.8M427.7 361.2h.8M444.8 356.9h.8M442.8 355.0h.8M471.4 375.4h.8M468.7 373.1h.8M469.3 378.3h.8M471.5 377.5h.8M472.1 374.4h.8M467.9 373.3h.8M432.4 357.3h.8M468.6 372.4h.8M471.2 374.2h.8M467.4 374.4h.8M443.6 355.5h.8M430.5 362.0h.8M433.3 359.8h.8M436.1 358.9h.8M431.2 362.5h.8M443.8 355.8h.8M437.0 359.7h.8M442.7 357.2h.8M436.3 358.3h.8M469.9 374.1h.8M471.2 378.5h.8M471.5 372.9h.8M468.9 372.8h.8M467.8 372.4h.8M466.4 379.1h.8M471.8 372.7h.8M444.7 355.8h.8M435.7 358.0h.8M468.5 383.1h.8M439.8 355.3h.8M432.0 358.7h.8M434.8 356.5h.8M433.6 361.1h.8M432.0 362.9h.8M438.4 357.5h.8M471.4 374.5h.8M470.8 374.4h.8M468.7 376.1h.8M468.4 375.2h.8M445.4 355.9h.8M437.1 362.4h.8M443.6 358.6h.8M467.3 379.0h.8M435.8 359.3h.8M436.8 356.6h.8M443.8 360.1h.8M441.1 356.2h.8M440.0 355.1h.8M470.2 376.8h.8M468.7 382.8h.8M468.0 374.9h.8M468.7 381.6h.8M468.8 373.2h.8M468.4 382.8h.8M471.3 373.4h.8M468.8 372.6h.8M432.9 356.7h.8M469.9 380.1h.8M436.0 361.1h.8M471.0 374.3h.8M440.7 357.5h.8M436.0 358.4h.8M469.5 376.8h.8M471.0 375.0h.8M470.9 375.4h.8M468.8 374.5h.8M467.9 379.4h.8M469.9 376.6h.8M467.9 375.2h.8M470.3 377.6h.8M466.9 378.7h.8M468.7 372.6h.8M469.8 380.2h.8M468.4 382.1h.8M471.5 378.1h.8M468.4 375.5h.8M446.2 356.9h.8" stroke="#2c7cc6" stroke-width=".8" fill="none"/>
<path d="M435.3 357.0h.8M469.6 376.3h.8M470.7 378.5h.8M441.9 355.8h.8M441.7 356.3h.8M442.8 356.2h.8M433.2 357.9h.8M471.0 379.2h.8M441.8 356.6h.8M470.2 379.4h.8M470.2 375.9h.8M470.1 375.9h.8M469.4 376.4h.8M432.9 357.7h.8M442.0 356.1h.8M470.1 378.9h.8M470.8 378.7h.8M470.0 379.1h.8M469.8 378.9h.8M432.6 358.2h.8M443.0 356.2h.8M441.9 356.3h.8M442.1 357.4h.8M435.5 357.1h.8M442.0 355.5h.8M443.2 356.1h.8M436.1 357.5h.8M469.8 379.2h.8M469.4 375.5h.8M435.7 356.5h.8M470.9 379.3h.8M432.9 358.2h.8M470.9 378.8h.8M441.7 355.5h.8M442.2 355.7h.8M442.1 356.1h.8M469.6 378.6h.8M470.2 376.0h.8M441.8 357.0h.8" stroke="#22a2aa" stroke-width=".8" fill="none"/>
<path d="M416.3 372.3H442.5L467.7 350.5" fill="none" stroke="#555" stroke-width="0.8"/>
<path d="M476.6 354.6L447.7 376.8V410.8" fill="none" stroke="#555" stroke-width="0.8"/>
<rect x="416.3" y="350.5" width="60.3" height="60.3" fill="none" stroke="#111" stroke-width="1.25"/>
<path d="M371.8 464.8h.8M372.1 459.6h.8M370.7 465.0h.8M359.6 451.7h.8M362.1 459.3h.8M369.0 465.3h.8M368.4 451.1h.8M366.5 446.6h.8M382.3 466.8h.8M371.6 463.7h.8M354.0 462.8h.8M357.6 421.8h.8M378.3 418.0h.8M354.8 436.6h.8M354.9 444.6h.8M390.1 447.5h.8M391.1 460.3h.8M359.9 435.1h.8M370.0 418.1h.8M364.7 421.2h.8M365.0 436.7h.8M356.4 428.5h.8M361.2 462.6h.8M397.9 467.2h.8M354.8 447.2h.8M408.0 418.3h.8M363.3 437.5h.8M363.9 444.3h.8M361.2 464.2h.8M381.9 447.1h.8M359.5 444.7h.8M365.6 452.2h.8M354.0 436.5h.8M372.0 441.0h.8M371.4 461.9h.8M369.6 451.8h.8M370.5 466.8h.8M369.2 442.6h.8M375.6 461.1h.8M376.0 455.3h.8M372.7 467.9h.8M367.0 447.4h.8M376.0 449.6h.8M353.8 430.5h.8M369.8 418.8h.8M354.6 427.9h.8M381.8 416.3h.8M382.8 416.1h.8M383.8 416.6h.8M388.3 467.3h.8M373.2 441.4h.8M361.6 440.4h.8M358.5 445.2h.8M365.7 439.6h.8M402.3 418.3h.8M360.7 458.7h.8M357.8 459.2h.8M374.2 448.1h.8M369.3 446.3h.8M377.1 449.0h.8M371.7 445.2h.8M363.9 447.9h.8M355.5 435.2h.8M404.8 467.3h.8M407.6 456.6h.8M386.0 452.4h.8M401.3 430.4h.8M405.9 462.7h.8M408.5 432.1h.8M395.8 457.6h.8M404.8 458.1h.8M392.0 451.9h.8M404.0 425.7h.8M409.4 431.8h.8M392.0 464.0h.8M398.1 445.8h.8M394.5 464.9h.8M386.8 458.2h.8M386.6 416.4h.8M394.4 418.9h.8M369.5 416.3h.8M377.4 415.7h.8M383.6 427.6h.8M407.9 430.0h.8M391.1 419.0h.8M388.7 417.5h.8M383.3 427.9h.8M377.9 417.1h.8M383.9 421.0h.8M385.2 425.5h.8M380.0 416.6h.8M382.1 424.2h.8M389.2 415.3h.8M385.8 423.1h.8M381.5 417.4h.8M364.2 434.3h.8M385.3 415.6h.8M384.7 422.4h.8M387.9 419.2h.8M384.3 422.8h.8M372.9 431.8h.8M408.4 460.3h.8M394.3 459.8h.8M405.4 462.2h.8M356.3 432.1h.8M368.4 418.5h.8M392.3 465.2h.8M402.2 465.2h.8M394.3 450.2h.8M407.7 425.8h.8M408.8 464.5h.8M396.6 467.0h.8M396.8 464.6h.8M393.0 459.5h.8M397.8 443.7h.8M398.5 470.1h.8M407.1 459.5h.8M392.7 466.8h.8M404.7 424.2h.8M391.2 455.6h.8M355.4 434.0h.8M354.4 434.4h.8M368.0 435.0h.8M387.3 422.6h.8M396.2 441.5h.8M404.4 463.5h.8M403.9 430.2h.8M408.1 428.3h.8M390.8 455.7h.8M400.5 438.7h.8M395.1 448.6h.8M398.1 440.4h.8M410.4 433.9h.8M408.6 435.3h.8M360.6 435.7h.8M365.7 419.4h.8M406.7 463.4h.8M404.0 430.1h.8M396.5 447.7h.8M400.7 462.4h.8M399.8 439.0h.8M403.9 425.1h.8M407.9 426.5h.8M403.9 462.6h.8M382.7 424.8h.8M403.2 460.0h.8M359.2 435.6h.8M354.8 430.3h.8M397.3 463.4h.8M400.6 464.4h.8M406.7 430.5h.8M393.9 472.6h.8M398.9 469.1h.8M407.3 456.3h.8M396.4 439.0h.8M358.7 433.3h.8M364.1 421.9h.8M357.6 425.9h.8M357.9 435.5h.8M381.3 424.7h.8M409.8 455.7h.8M398.8 463.3h.8M397.2 444.4h.8M398.2 441.9h.8M409.5 447.3h.8M409.6 432.4h.8M409.9 434.3h.8M395.4 454.1h.8M395.9 462.9h.8M406.2 458.8h.8M358.0 421.8h.8M369.2 433.7h.8M411.5 424.5h.8M393.5 455.4h.8M398.8 464.4h.8M410.7 449.8h.8M397.4 470.6h.8M395.1 458.6h.8M402.1 434.5h.8M398.5 461.5h.8M407.4 431.0h.8M366.0 454.7h.8M374.3 438.7h.8M364.4 449.0h.8M362.5 448.4h.8M374.3 460.3h.8M363.7 440.6h.8M369.8 456.0h.8M360.2 453.8h.8M364.3 456.2h.8M366.3 459.0h.8M368.8 457.2h.8M368.7 459.1h.8M387.5 416.6h.8M359.4 425.2h.8M363.6 435.9h.8M355.0 426.3h.8M387.5 428.3h.8M367.3 419.1h.8M370.1 433.3h.8M379.5 417.1h.8M368.4 453.7h.8M368.8 452.6h.8M373.0 459.6h.8M370.6 449.8h.8M365.6 453.1h.8M370.5 444.1h.8M361.7 449.3h.8M365.0 446.1h.8M370.5 436.8h.8M367.7 453.9h.8M409.5 423.3h.8M399.9 419.1h.8M359.7 454.8h.8M366.0 462.6h.8M385.7 440.8h.8M367.3 464.4h.8M379.2 448.3h.8M400.4 439.7h.8M366.0 439.7h.8M371.2 471.6h.8M403.4 419.2h.8M383.7 426.7h.8M385.3 447.7h.8M386.7 422.3h.8M397.7 426.0h.8M356.2 460.2h.8M366.7 441.1h.8M362.1 462.3h.8" stroke="#aaaee8" stroke-width=".8" fill="none"/>
<path d="M368.1 447.3h.8M367.5 447.2h.8M364.9 453.6h.8M370.2 458.2h.8M357.9 431.0h.8M381.7 421.5h.8M360.2 432.2h.8M380.9 418.6h.8M373.2 431.1h.8M382.5 418.7h.8M381.9 421.8h.8M379.9 423.0h.8M359.1 427.0h.8M369.8 457.5h.8M367.4 450.2h.8M386.3 418.5h.8M400.4 458.7h.8M402.9 437.8h.8M407.6 433.7h.8M402.7 437.2h.8M396.3 451.9h.8M398.0 464.3h.8M400.3 446.2h.8M397.2 455.9h.8M407.8 436.2h.8M397.5 461.8h.8M397.8 460.3h.8M410.1 448.9h.8M396.9 449.6h.8M401.1 442.1h.8M403.3 437.4h.8M408.8 453.0h.8M365.6 422.9h.8M373.5 431.0h.8M401.0 437.1h.8M410.8 437.0h.8M405.4 438.1h.8M395.9 460.0h.8M396.3 449.5h.8M411.4 437.0h.8M358.4 427.6h.8M359.1 426.4h.8M363.5 433.9h.8M409.1 426.1h.8M402.3 436.1h.8M400.2 446.1h.8M404.2 435.7h.8M397.1 458.1h.8M398.2 457.3h.8M402.8 438.0h.8M401.9 459.1h.8M357.3 431.6h.8M397.5 450.3h.8M401.6 462.2h.8M402.8 457.8h.8M405.8 434.1h.8M409.6 442.3h.8M364.5 421.5h.8M365.8 432.8h.8M403.5 435.1h.8M410.1 436.4h.8M401.0 460.6h.8M404.3 434.6h.8M404.3 434.6h.8M399.2 451.0h.8M409.4 426.1h.8M408.4 451.0h.8M410.3 440.7h.8M409.2 446.2h.8M402.3 439.6h.8M400.8 461.2h.8M407.1 453.4h.8M373.3 430.7h.8M366.4 433.4h.8M357.0 427.4h.8M363.0 423.5h.8M397.3 455.3h.8M408.4 448.5h.8M362.7 433.4h.8M357.3 427.8h.8M358.7 425.8h.8M379.9 421.6h.8M378.8 423.9h.8M410.4 438.0h.8M407.6 446.6h.8M408.1 452.7h.8M405.6 454.4h.8M411.1 444.9h.8M400.1 458.2h.8M398.5 460.1h.8M411.5 437.2h.8M360.4 435.3h.8M362.7 423.9h.8M363.6 422.6h.8M410.8 438.1h.8M398.8 451.1h.8M410.5 443.3h.8M410.2 448.8h.8M396.0 461.8h.8M403.4 458.2h.8M401.9 461.2h.8M400.9 435.9h.8M409.9 439.0h.8M411.2 442.4h.8M410.1 439.7h.8M406.4 455.8h.8M397.5 457.6h.8M399.2 449.3h.8M396.8 460.3h.8M396.2 459.7h.8M404.3 436.8h.8M399.3 458.0h.8M399.1 447.6h.8M379.0 423.4h.8M374.9 417.4h.8M359.1 428.8h.8M357.8 433.3h.8M399.1 442.0h.8M397.8 459.2h.8M394.0 454.5h.8M365.9 431.3h.8M366.2 432.2h.8M400.9 436.6h.8M402.3 461.3h.8M406.7 455.6h.8M367.4 433.7h.8M360.3 431.8h.8M357.1 427.2h.8M380.5 418.3h.8M384.9 417.3h.8M377.7 425.6h.8M384.1 419.3h.8M377.0 427.6h.8M361.4 433.5h.8M383.9 419.4h.8M379.4 423.6h.8M373.7 418.6h.8M407.5 448.1h.8M398.6 461.1h.8M393.9 455.2h.8M397.8 444.6h.8M408.8 452.9h.8M396.2 449.6h.8M397.1 461.0h.8M402.4 461.3h.8M395.5 455.0h.8M396.8 461.6h.8M407.3 432.6h.8M356.8 433.5h.8M361.4 423.3h.8M362.2 433.8h.8M357.4 433.8h.8M409.6 445.6h.8M376.9 427.2h.8M364.6 454.7h.8M368.6 432.0h.8M409.8 425.7h.8M353.9 431.8h.8M378.4 425.5h.8M382.6 420.8h.8M385.6 419.2h.8M358.8 427.8h.8M377.5 424.8h.8M377.6 426.9h.8M367.2 432.8h.8M356.6 432.1h.8M354.4 431.6h.8M367.2 421.3h.8M367.6 449.5h.8M384.5 418.5h.8M365.1 455.0h.8M373.4 419.8h.8M370.1 431.6h.8M369.2 432.0h.8M364.0 432.3h.8M367.8 431.4h.8M376.5 428.1h.8M356.9 433.1h.8" stroke="#7b82d8" stroke-width=".8" fill="none"/>
<path d="M403.8 455.5h.8M409.4 438.7h.8M405.4 438.9h.8M399.8 449.5h.8M357.8 432.2h.8M366.3 430.5h.8M371.3 420.1h.8M362.8 425.8h.8M406.4 447.3h.8M407.4 448.8h.8M409.2 440.5h.8M400.9 454.7h.8M399.3 457.1h.8M401.8 441.8h.8M401.7 441.9h.8M401.3 454.8h.8M403.3 439.4h.8M407.8 449.9h.8M399.8 456.6h.8M400.7 445.6h.8M406.4 437.1h.8M407.9 441.6h.8M404.4 441.9h.8M403.1 454.4h.8M370.3 422.1h.8M358.6 431.6h.8M360.1 426.6h.8M362.2 433.0h.8M359.6 428.9h.8M409.0 438.2h.8M408.5 440.6h.8M407.8 450.0h.8M397.9 452.2h.8M407.8 443.3h.8M406.6 450.4h.8M396.9 452.3h.8M406.0 437.8h.8M375.1 426.5h.8M360.8 430.4h.8M361.0 432.0h.8M359.6 431.2h.8M398.2 453.5h.8M399.6 447.1h.8M401.4 458.0h.8M396.6 454.4h.8M408.8 439.9h.8M409.6 444.1h.8M410.3 443.9h.8M376.7 426.1h.8M362.3 431.8h.8M381.6 420.1h.8M377.4 419.0h.8M368.0 422.1h.8M371.9 429.8h.8M400.1 454.7h.8M368.3 420.9h.8M375.5 418.6h.8M358.6 430.4h.8M362.7 433.0h.8M380.9 419.7h.8M373.7 429.1h.8M361.5 425.5h.8M362.8 432.2h.8M366.4 423.8h.8M360.4 425.5h.8M374.5 420.0h.8M365.5 430.8h.8M362.0 433.1h.8M370.9 429.4h.8M361.4 426.5h.8M375.2 428.6h.8M406.0 437.1h.8M375.9 425.7h.8M360.6 425.4h.8M360.9 427.3h.8M361.8 425.0h.8M374.4 428.3h.8M373.8 428.8h.8M397.4 451.8h.8M369.3 421.1h.8M409.2 437.1h.8M409.7 444.1h.8M369.8 431.0h.8M359.8 428.9h.8M365.5 424.0h.8M377.3 418.4h.8M368.9 421.2h.8M359.5 430.1h.8M399.1 456.9h.8M405.0 435.3h.8M398.9 452.2h.8M405.0 439.1h.8M405.7 435.8h.8M401.5 458.0h.8M398.2 453.1h.8M400.3 459.4h.8M406.6 448.5h.8M366.9 422.1h.8M360.9 430.9h.8M363.1 424.4h.8M365.6 423.6h.8M371.4 419.6h.8M374.6 426.0h.8M375.1 425.6h.8M402.0 457.2h.8M408.1 442.4h.8M401.8 457.7h.8M400.2 442.7h.8M407.0 435.1h.8M401.5 441.2h.8M407.4 447.9h.8M399.0 456.8h.8M378.9 420.5h.8M382.3 419.6h.8M378.7 420.8h.8M381.6 420.9h.8M398.1 455.8h.8M408.4 436.9h.8M404.0 455.7h.8M399.7 443.7h.8M375.6 419.1h.8M369.5 420.9h.8M376.2 426.8h.8M381.8 420.6h.8M375.1 420.2h.8M366.9 422.2h.8M367.9 420.8h.8M377.9 420.3h.8M397.7 454.5h.8M405.8 454.0h.8M402.6 440.8h.8M409.9 444.4h.8M399.4 455.0h.8M360.0 426.4h.8M401.8 453.8h.8M401.6 455.0h.8M408.1 441.6h.8M406.6 437.4h.8M408.7 449.9h.8M401.9 456.4h.8M407.5 437.0h.8M399.9 459.7h.8M407.2 451.9h.8M408.1 440.8h.8M372.8 429.5h.8M379.5 421.0h.8M367.9 423.4h.8M362.2 424.3h.8M371.5 420.0h.8M375.3 419.0h.8M370.6 419.7h.8M373.4 428.7h.8M365.3 423.9h.8M400.9 456.1h.8M407.9 444.7h.8M402.6 439.4h.8M406.3 436.1h.8M379.5 419.4h.8M379.8 420.1h.8M377.5 420.2h.8M406.0 438.9h.8M375.0 426.3h.8M379.0 423.1h.8M372.1 428.9h.8M371.9 428.5h.8M359.6 426.1h.8M372.5 430.0h.8M397.6 455.0h.8M406.7 434.1h.8M409.8 443.9h.8M397.8 453.8h.8M406.9 433.6h.8M400.7 444.7h.8M403.6 456.2h.8M407.0 440.7h.8M399.9 459.5h.8M406.7 453.0h.8M380.4 420.1h.8M405.3 435.2h.8M368.8 422.8h.8M378.6 419.7h.8M359.3 431.2h.8M369.3 422.7h.8M408.5 442.4h.8M401.2 457.3h.8M399.7 456.6h.8M403.2 439.6h.8M405.0 454.5h.8M404.3 455.4h.8M397.3 451.3h.8M406.4 435.2h.8M368.6 430.8h.8M400.3 443.0h.8M405.7 454.0h.8M400.3 459.5h.8M399.8 442.4h.8M403.1 439.2h.8M399.9 460.1h.8M406.5 451.2h.8M374.1 419.8h.8M404.0 441.4h.8M407.7 450.7h.8M402.5 455.0h.8M406.0 452.9h.8M407.7 437.9h.8M399.7 448.7h.8M396.5 455.2h.8M408.8 445.3h.8M408.3 436.8h.8M406.9 446.5h.8M409.7 438.2h.8M408.6 441.1h.8M408.2 450.0h.8M398.4 452.0h.8M399.9 443.9h.8M405.7 436.5h.8M404.9 454.6h.8M367.6 421.4h.8M361.9 426.1h.8M361.6 432.0h.8M363.0 433.2h.8M408.2 444.3h.8M408.8 450.0h.8M407.0 449.7h.8M407.2 452.0h.8M400.7 454.7h.8M401.0 455.5h.8M407.3 433.7h.8M405.8 453.0h.8M406.3 435.0h.8M399.2 455.6h.8M406.6 436.0h.8M366.0 424.1h.8M372.1 428.8h.8M400.7 442.9h.8M407.1 447.1h.8M405.4 435.9h.8M409.1 443.8h.8M396.8 451.1h.8M405.1 436.5h.8M358.4 430.8h.8M381.6 421.1h.8M374.8 429.1h.8M381.0 421.1h.8M380.7 420.8h.8M375.4 418.3h.8M376.0 428.1h.8M365.7 423.9h.8M365.5 430.4h.8M363.6 431.5h.8M367.9 421.2h.8M357.9 431.9h.8M379.6 419.8h.8M373.6 428.7h.8M364.1 431.8h.8M361.4 426.0h.8M367.5 422.2h.8M375.4 427.8h.8M408.9 438.0h.8M396.7 452.1h.8M375.5 427.8h.8M359.9 429.3h.8" stroke="#4458c4" stroke-width=".8" fill="none"/>
<path d="M362.2 429.8h.8M363.0 430.3h.8M371.3 423.1h.8M364.2 425.1h.8M370.7 428.5h.8M376.3 424.8h.8M363.8 431.2h.8M369.9 423.1h.8M363.7 425.1h.8M370.0 422.5h.8M371.0 420.7h.8M376.0 425.1h.8M363.4 430.8h.8M369.2 424.7h.8M377.0 423.6h.8M369.3 429.8h.8M372.3 421.5h.8M373.3 420.4h.8M377.5 422.2h.8M374.0 426.2h.8M372.5 421.2h.8M377.7 421.4h.8M360.6 429.5h.8M373.6 424.9h.8M406.6 445.1h.8M402.2 444.9h.8M405.9 447.5h.8M368.0 430.0h.8M403.6 439.8h.8M403.9 452.3h.8M405.4 450.3h.8M407.1 444.8h.8M367.2 424.6h.8M366.0 424.8h.8M369.7 423.3h.8M360.7 430.2h.8M364.9 424.7h.8M403.0 441.5h.8M405.7 442.2h.8M399.8 452.2h.8M408.3 438.9h.8M406.2 451.8h.8M400.6 444.1h.8M404.3 454.8h.8M377.0 422.1h.8M363.1 427.9h.8M367.4 430.2h.8M364.2 430.4h.8M374.6 422.2h.8M376.4 423.9h.8M403.5 440.2h.8M406.2 442.8h.8M403.9 451.8h.8M398.8 454.3h.8M403.6 455.0h.8M398.8 452.9h.8M406.1 450.8h.8M373.6 426.9h.8M377.1 420.6h.8M366.9 430.0h.8M363.0 427.7h.8M371.1 420.4h.8M363.3 427.5h.8M372.8 425.2h.8M405.8 450.0h.8M405.7 442.7h.8M403.6 454.4h.8M407.9 438.8h.8M403.1 449.2h.8M373.9 427.2h.8M364.8 430.4h.8M365.2 424.6h.8M403.4 453.1h.8M400.6 449.9h.8M398.8 453.5h.8M402.9 452.8h.8M403.6 454.0h.8M401.1 443.9h.8M400.1 447.5h.8M401.0 446.6h.8M399.7 453.4h.8M377.4 423.3h.8M376.3 423.1h.8M361.9 427.4h.8M361.4 427.3h.8M360.7 428.6h.8M400.7 449.6h.8M402.3 446.1h.8M378.3 421.9h.8M377.2 421.3h.8M370.5 428.9h.8M361.6 427.8h.8M369.3 424.4h.8M374.5 425.0h.8M361.4 429.4h.8M362.8 431.1h.8M406.3 439.8h.8M407.7 444.0h.8M399.7 448.1h.8M398.6 454.5h.8M398.8 452.3h.8M401.4 449.7h.8M404.0 443.1h.8M407.3 443.0h.8M404.2 438.7h.8M403.3 450.8h.8M406.5 443.6h.8M401.7 442.9h.8M406.1 446.0h.8M404.0 452.9h.8M404.2 451.6h.8M405.5 442.6h.8M406.6 444.8h.8M404.3 455.1h.8M408.0 443.4h.8M402.6 443.1h.8M401.8 446.1h.8M403.2 447.8h.8M407.1 445.2h.8M398.7 454.1h.8M377.3 423.4h.8M376.6 425.1h.8M372.7 427.8h.8M371.1 422.1h.8M364.4 424.7h.8M373.5 425.1h.8M376.2 421.4h.8M406.0 448.6h.8M361.6 427.8h.8M371.1 423.1h.8M374.6 422.1h.8M375.1 424.9h.8M377.9 422.7h.8M374.7 421.7h.8M370.6 421.8h.8M375.9 425.3h.8M368.6 425.2h.8M369.5 422.8h.8M405.3 441.0h.8M361.1 428.7h.8M370.8 422.1h.8M368.4 429.6h.8M360.4 428.3h.8M362.0 427.8h.8M400.9 454.0h.8M405.7 447.2h.8M407.2 439.6h.8M402.7 442.1h.8M404.4 439.4h.8M402.6 447.6h.8M404.9 453.1h.8M403.1 449.2h.8M403.3 449.2h.8M404.0 451.8h.8M402.9 452.7h.8M402.9 452.3h.8M400.4 450.8h.8M407.2 440.0h.8M401.5 446.2h.8M400.0 447.9h.8M375.5 420.1h.8M374.5 425.2h.8M377.1 423.9h.8M375.3 421.6h.8M368.5 429.4h.8M373.7 420.3h.8M377.1 422.5h.8M376.0 420.0h.8M406.7 438.6h.8M402.4 441.7h.8M403.4 454.2h.8M402.8 442.4h.8M405.7 441.3h.8M400.6 443.4h.8M376.7 424.3h.8M377.7 422.0h.8M361.2 427.6h.8M376.8 423.2h.8M404.4 439.5h.8M370.2 430.3h.8M403.4 448.1h.8M404.2 451.6h.8M404.5 452.8h.8M406.7 442.1h.8M368.2 425.1h.8M367.0 424.6h.8M370.5 421.2h.8M372.5 424.8h.8M405.0 445.6h.8M367.0 429.6h.8M368.6 424.3h.8M368.2 424.9h.8M403.8 438.9h.8M406.8 443.0h.8M406.5 445.0h.8M406.3 441.5h.8M406.2 452.0h.8M404.0 439.8h.8M407.4 444.2h.8M404.5 439.6h.8M400.9 451.2h.8M407.1 439.5h.8M366.9 424.8h.8M373.6 425.4h.8M361.7 430.5h.8M369.1 424.0h.8M375.7 420.8h.8M405.8 441.4h.8M406.6 439.2h.8M377.3 420.8h.8M377.8 422.5h.8M369.8 422.9h.8M378.0 422.8h.8M407.9 444.0h.8M373.6 420.7h.8M407.6 440.1h.8M376.8 420.5h.8M376.8 421.9h.8M369.9 429.5h.8M401.6 452.6h.8M369.0 429.9h.8M361.9 430.8h.8M403.1 442.3h.8M404.4 448.4h.8M404.9 446.1h.8M405.9 440.7h.8M405.3 443.1h.8M401.4 450.5h.8M407.9 439.2h.8M405.8 442.1h.8M404.2 439.7h.8M404.9 441.9h.8M366.9 430.1h.8M376.1 419.4h.8M375.5 421.6h.8M370.8 420.9h.8M402.7 452.2h.8M404.3 443.0h.8M364.4 430.9h.8M399.3 455.2h.8M374.1 421.1h.8M372.1 422.0h.8M374.3 421.0h.8M361.7 429.3h.8M376.3 420.8h.8M378.2 420.4h.8M378.2 420.8h.8M375.4 422.3h.8M404.4 443.0h.8M402.7 447.6h.8M404.6 441.2h.8M404.2 448.4h.8M398.8 454.7h.8M402.2 443.0h.8M403.2 452.8h.8M405.4 440.2h.8M403.8 452.4h.8M405.1 448.8h.8M403.3 451.1h.8M375.0 422.9h.8M363.2 426.8h.8M376.4 422.1h.8M375.7 420.7h.8M369.5 429.3h.8M400.8 450.4h.8M405.9 441.4h.8M404.7 448.8h.8M406.0 451.4h.8M406.7 440.1h.8M404.9 452.4h.8M400.8 450.6h.8M401.9 445.7h.8M398.5 453.1h.8M399.9 452.2h.8M401.4 453.3h.8M400.9 453.6h.8M404.8 453.6h.8M406.5 439.6h.8M405.4 447.4h.8M405.8 447.2h.8M372.9 427.8h.8M399.0 453.2h.8M405.5 447.8h.8M406.8 442.3h.8M402.2 446.1h.8M398.6 454.0h.8M408.0 440.0h.8M407.1 439.1h.8" stroke="#2c7cc6" stroke-width=".8" fill="none"/>
<path d="M404.5 450.6h.8M403.4 446.0h.8M399.7 453.0h.8M401.1 448.0h.8M374.1 422.7h.8M372.5 421.3h.8M375.9 423.5h.8M371.1 424.3h.8M402.9 449.4h.8M404.4 447.7h.8M403.7 449.6h.8M406.4 444.6h.8M404.5 451.2h.8M400.5 451.8h.8M402.1 450.4h.8M404.7 450.1h.8M371.3 425.0h.8M363.9 430.2h.8M372.3 427.2h.8M366.7 427.9h.8M369.2 425.5h.8M363.7 430.0h.8M372.0 424.3h.8M368.5 426.2h.8M402.3 450.0h.8M365.0 430.2h.8M369.6 423.6h.8M370.5 426.1h.8M363.5 427.4h.8M374.2 423.7h.8M402.5 444.2h.8M401.9 451.6h.8M370.3 427.5h.8M369.1 425.8h.8M369.3 427.1h.8M371.8 425.2h.8M362.8 428.9h.8M372.4 422.7h.8M369.2 428.0h.8M363.6 427.6h.8M365.6 429.6h.8M401.0 449.3h.8M366.8 426.9h.8M372.3 426.8h.8M367.2 426.0h.8M404.5 447.0h.8M368.3 426.5h.8M406.0 445.2h.8M401.7 448.7h.8M402.0 443.6h.8M368.5 428.1h.8M404.8 444.5h.8M367.4 425.5h.8M402.3 447.4h.8M403.5 445.2h.8M400.6 448.5h.8M401.4 450.2h.8M403.5 447.0h.8M402.8 446.7h.8M403.4 446.9h.8M404.0 444.3h.8M403.6 445.2h.8M370.7 427.6h.8M368.2 426.6h.8M402.3 450.2h.8M403.5 447.0h.8M402.1 451.4h.8M403.5 446.7h.8M402.9 446.7h.8M403.7 445.5h.8M404.2 449.5h.8M405.9 444.5h.8M370.3 427.4h.8M404.5 449.5h.8M370.9 423.7h.8M373.7 422.3h.8M367.0 428.8h.8M373.2 423.3h.8M403.7 450.3h.8M372.5 426.1h.8M370.3 424.4h.8M364.8 428.7h.8M373.0 423.5h.8M372.8 426.9h.8M371.6 427.5h.8M371.3 423.4h.8M371.6 424.8h.8M363.2 429.6h.8M371.3 427.4h.8M368.0 428.5h.8M369.4 428.3h.8M372.3 426.4h.8M375.2 424.0h.8M366.3 426.0h.8M366.6 428.6h.8M371.7 425.6h.8M363.1 429.3h.8M369.9 425.9h.8M362.8 429.7h.8M370.8 423.3h.8M370.0 429.2h.8M361.9 429.0h.8M372.9 422.9h.8M405.3 447.8h.8M366.6 429.2h.8M373.5 422.1h.8M374.3 422.2h.8M363.6 426.1h.8M370.2 428.0h.8M370.9 427.9h.8M370.8 425.5h.8M367.4 427.6h.8M363.4 430.0h.8M365.2 429.5h.8M368.2 427.9h.8M370.0 427.7h.8M368.3 426.6h.8M405.3 446.8h.8M371.5 424.6h.8M372.3 427.2h.8M366.6 425.9h.8M366.9 428.8h.8M366.1 425.6h.8M370.4 424.9h.8M402.2 447.2h.8M403.9 443.5h.8M372.7 422.1h.8M372.2 422.5h.8M368.4 427.3h.8M400.0 453.0h.8M402.8 445.2h.8M367.2 425.7h.8M368.2 426.8h.8M402.0 447.3h.8M405.8 444.9h.8M371.8 422.7h.8M373.3 422.3h.8M373.1 423.3h.8M367.6 425.9h.8M370.2 427.7h.8M371.4 422.7h.8M370.4 427.4h.8M365.7 425.5h.8M363.0 428.5h.8M404.0 445.6h.8M373.5 423.2h.8M364.5 428.9h.8M369.9 424.4h.8M364.3 426.1h.8M364.9 429.6h.8M371.7 423.9h.8M401.8 450.8h.8M402.1 443.3h.8M404.9 451.2h.8M404.6 447.2h.8M406.3 443.9h.8M405.1 450.2h.8M404.0 443.3h.8M402.3 449.8h.8M402.1 444.2h.8M363.0 428.3h.8M404.2 445.6h.8M401.5 448.7h.8M403.7 450.9h.8M403.2 444.6h.8M371.1 425.0h.8M404.3 445.3h.8M371.0 426.0h.8M374.3 423.9h.8M367.5 427.5h.8M367.6 426.9h.8M364.4 425.5h.8M363.4 429.6h.8M372.4 425.4h.8M372.7 426.0h.8M370.6 425.5h.8M400.0 452.7h.8M405.6 443.5h.8M400.5 447.7h.8M361.5 429.1h.8M368.9 428.5h.8M368.7 428.7h.8M400.6 449.0h.8M405.2 448.1h.8M402.5 446.9h.8M403.4 450.1h.8M367.1 427.2h.8M400.4 448.2h.8M375.2 424.0h.8M372.6 426.9h.8M366.6 429.2h.8M400.8 452.4h.8M370.1 426.5h.8M365.1 428.5h.8M402.7 446.7h.8M405.1 449.6h.8M401.8 447.8h.8M403.7 450.3h.8M404.5 444.1h.8M405.2 444.2h.8M364.2 426.0h.8M366.5 428.3h.8M372.2 426.8h.8M365.0 428.6h.8M376.0 424.3h.8M403.3 444.0h.8M400.8 448.9h.8M405.5 445.1h.8M402.8 444.1h.8M401.0 447.5h.8M404.2 450.1h.8M405.4 444.1h.8M402.6 444.3h.8M367.3 429.0h.8M403.1 449.4h.8M402.0 451.7h.8M404.5 450.6h.8M402.6 449.4h.8M404.7 446.7h.8M402.0 451.5h.8M402.8 443.4h.8M371.0 427.2h.8M373.5 422.9h.8M371.0 424.7h.8M370.8 427.5h.8M404.3 450.1h.8M404.7 445.1h.8M368.6 427.1h.8M402.4 446.7h.8M401.9 452.1h.8M402.9 444.5h.8M361.9 428.7h.8M369.7 428.5h.8M364.4 428.8h.8M367.6 427.9h.8M365.1 430.1h.8M372.4 424.9h.8M403.2 444.9h.8M404.4 447.3h.8M371.3 428.1h.8M366.6 427.7h.8M373.8 423.9h.8M364.2 426.4h.8M364.3 425.3h.8M370.4 423.9h.8M369.6 427.5h.8M365.0 428.9h.8M370.2 424.3h.8M375.8 424.0h.8M368.7 428.1h.8M371.8 426.9h.8M373.0 422.6h.8M363.6 427.1h.8M372.6 426.4h.8M370.0 424.9h.8M362.7 429.8h.8M373.1 427.3h.8M367.7 428.8h.8M371.1 425.3h.8M364.7 428.6h.8M403.7 444.7h.8M400.5 453.0h.8M405.4 446.4h.8M363.2 428.9h.8M368.5 425.4h.8M366.0 429.5h.8M372.5 421.8h.8M401.1 451.8h.8M406.4 443.5h.8M403.4 443.5h.8M373.7 423.2h.8M370.3 425.6h.8M371.6 427.1h.8M401.4 447.5h.8M401.1 452.3h.8M404.5 443.4h.8M364.3 428.8h.8M374.3 423.0h.8M369.8 427.7h.8M372.9 426.9h.8M369.9 425.0h.8M367.8 427.5h.8M363.7 429.5h.8M371.7 427.1h.8M404.6 450.9h.8M402.2 443.5h.8M371.7 427.6h.8M371.1 426.9h.8M373.3 421.4h.8M406.0 445.0h.8M368.6 425.8h.8M366.7 428.5h.8M404.8 448.0h.8M401.9 448.1h.8M401.7 447.2h.8M374.2 423.6h.8M399.9 452.7h.8M402.2 448.2h.8M402.4 450.5h.8M402.1 443.4h.8M401.1 452.9h.8M404.9 443.9h.8M371.9 424.1h.8M369.2 426.6h.8M372.8 423.1h.8M401.2 452.7h.8M367.2 425.9h.8M367.8 426.1h.8M372.1 425.2h.8M375.0 424.0h.8M363.7 427.2h.8M404.3 444.5h.8M375.6 423.3h.8M369.9 423.6h.8M373.2 422.0h.8M403.8 450.6h.8" stroke="#22a2aa" stroke-width=".8" fill="none"/>
<path d="M366.3 427.3h.8M364.9 427.1h.8M364.5 427.5h.8M365.3 425.5h.8M365.3 426.2h.8M365.3 425.3h.8M365.4 427.6h.8M365.1 426.3h.8M365.7 428.8h.8M366.0 426.5h.8M364.6 427.6h.8M365.3 426.9h.8M366.3 428.4h.8M364.8 426.5h.8M365.8 428.9h.8M365.0 427.2h.8M364.6 427.1h.8M365.0 426.7h.8M366.0 427.6h.8M365.9 427.3h.8M366.1 426.7h.8M365.2 427.1h.8M365.0 427.8h.8M365.8 426.6h.8M365.4 426.8h.8M365.3 427.1h.8M364.7 425.3h.8M364.5 427.9h.8M365.4 427.9h.8M365.5 427.5h.8M366.0 428.3h.8M365.1 427.0h.8" stroke="#4cb54e" stroke-width=".8" fill="none"/>
<path d="M352.4 436.1H378.6L403.8 414.3" fill="none" stroke="#555" stroke-width="0.8"/>
<path d="M412.7 418.4L383.8 440.6V474.6" fill="none" stroke="#555" stroke-width="0.8"/>
<rect x="352.4" y="414.3" width="60.3" height="60.3" fill="none" stroke="#111" stroke-width="1.25"/>
<path d="M426.5 456.3h.8M449.6 417.5h.8M441.5 416.2h.8M431.1 455.7h.8M436.7 457.7h.8M437.5 448.7h.8M431.4 436.3h.8M438.5 444.9h.8M429.9 448.7h.8M446.9 423.9h.8M428.8 439.3h.8M417.2 426.7h.8M435.2 461.8h.8M428.7 470.5h.8M430.1 436.2h.8M440.4 465.4h.8M435.4 464.0h.8M418.6 459.7h.8M430.9 444.5h.8M433.1 454.6h.8M433.5 443.0h.8M445.0 426.3h.8M448.7 422.2h.8M450.7 421.7h.8M455.0 425.0h.8M443.3 425.9h.8M454.6 421.2h.8M443.4 431.7h.8M445.1 416.4h.8M455.4 419.1h.8M419.1 425.2h.8M444.6 422.1h.8M451.5 419.0h.8M432.2 450.7h.8M442.6 444.9h.8M433.3 443.4h.8M426.8 462.4h.8M437.1 430.7h.8M429.5 449.3h.8M431.0 455.3h.8M440.5 464.9h.8M418.3 459.1h.8M418.7 460.7h.8M434.5 442.8h.8M419.6 447.9h.8M419.9 453.1h.8M422.1 460.2h.8M435.8 445.3h.8M434.3 452.6h.8M449.1 417.1h.8M436.5 451.2h.8M467.4 454.8h.8M436.0 450.8h.8M420.0 442.1h.8M437.9 438.4h.8M423.3 464.9h.8M417.3 449.7h.8M433.9 469.5h.8M438.7 454.8h.8M418.9 431.0h.8M457.4 424.3h.8M445.9 429.9h.8M447.2 420.9h.8M422.3 419.1h.8M421.7 445.3h.8M433.1 458.1h.8M456.1 442.2h.8M424.1 468.7h.8M421.0 462.8h.8M461.6 435.7h.8M443.2 470.7h.8M456.0 462.2h.8M469.5 446.4h.8M427.8 441.0h.8M435.6 433.9h.8M429.8 470.9h.8M449.7 448.0h.8M469.3 434.0h.8M464.6 426.7h.8M459.8 449.0h.8M455.4 452.8h.8M472.7 444.2h.8M470.7 472.5h.8M471.2 452.9h.8M472.2 424.0h.8M423.1 428.4h.8M468.0 451.2h.8M436.8 434.5h.8M433.5 460.8h.8M470.8 423.9h.8M443.7 465.5h.8M474.3 436.7h.8M447.4 459.9h.8M448.8 469.3h.8M449.6 435.4h.8M430.1 415.5h.8M450.7 465.0h.8M426.6 466.8h.8M453.9 418.3h.8M452.5 426.2h.8M442.5 418.0h.8M447.9 418.7h.8M453.2 418.3h.8M448.8 424.3h.8M437.1 418.1h.8M420.0 429.9h.8M428.6 430.5h.8M428.1 431.4h.8M427.3 417.5h.8M417.3 426.5h.8M426.0 431.3h.8M419.9 426.2h.8M446.4 425.1h.8M450.9 415.4h.8M442.6 455.9h.8M446.8 419.4h.8M437.2 433.1h.8M454.5 420.9h.8M451.3 416.5h.8M422.1 428.7h.8M435.1 431.3h.8M464.8 448.6h.8M470.7 455.3h.8M470.5 426.9h.8M466.4 446.8h.8M466.1 462.8h.8M459.2 420.3h.8M464.1 467.3h.8M427.5 419.0h.8M438.8 429.0h.8M431.1 430.3h.8M459.7 431.3h.8M433.9 465.8h.8M474.0 423.6h.8M450.7 420.9h.8M424.6 430.9h.8M425.9 418.7h.8M422.7 449.8h.8M463.6 424.0h.8M420.3 433.2h.8M461.2 434.8h.8M430.2 432.9h.8M418.3 423.2h.8M435.3 417.2h.8M436.4 428.4h.8M440.3 437.9h.8M450.3 431.1h.8M422.9 426.3h.8M440.8 428.0h.8M438.4 439.3h.8M428.8 461.6h.8M444.2 450.6h.8M433.7 452.4h.8M470.8 470.1h.8M464.3 460.6h.8M465.3 442.5h.8M457.2 453.6h.8M474.9 447.9h.8M472.6 451.4h.8M471.2 448.6h.8M423.4 440.4h.8M468.8 446.5h.8M466.9 448.1h.8M452.9 454.5h.8M464.9 454.3h.8M467.5 470.5h.8M461.7 444.8h.8M462.8 468.3h.8M462.5 461.4h.8M438.7 451.9h.8M419.7 424.2h.8M425.7 429.7h.8M454.2 433.6h.8M448.9 461.8h.8M430.9 444.0h.8M439.7 445.0h.8M456.2 466.6h.8M464.2 458.0h.8M424.9 415.6h.8M444.8 441.8h.8M468.3 459.3h.8M461.1 452.1h.8M468.0 470.3h.8M468.6 448.6h.8M469.1 454.6h.8M423.1 415.5h.8M444.6 468.8h.8M436.3 432.1h.8M455.0 462.5h.8M461.3 456.8h.8M417.7 421.8h.8M424.5 438.7h.8M417.5 451.0h.8M437.0 435.3h.8M436.1 454.4h.8M433.0 434.1h.8M425.2 450.5h.8M437.4 441.8h.8M429.3 439.7h.8M436.6 456.1h.8M425.6 435.2h.8M421.8 427.0h.8M468.0 459.1h.8M455.5 454.4h.8M464.7 463.3h.8M464.9 454.4h.8M467.3 464.4h.8M471.0 469.7h.8M469.9 437.5h.8M439.5 458.4h.8M428.6 454.5h.8M428.2 445.8h.8M430.7 465.8h.8M439.1 433.3h.8M427.9 462.4h.8M437.3 429.8h.8M431.6 466.8h.8M426.3 447.9h.8M432.0 449.9h.8M471.6 462.5h.8M447.0 442.7h.8M422.4 444.8h.8M426.0 448.8h.8M438.5 447.1h.8M432.7 443.9h.8M438.6 452.3h.8M432.0 440.5h.8M426.6 446.5h.8M469.6 438.7h.8M455.0 437.1h.8M458.0 442.3h.8M463.7 458.1h.8M453.9 455.0h.8M474.0 455.8h.8M466.2 447.6h.8M466.3 457.3h.8M462.1 445.7h.8M460.7 453.5h.8" stroke="#aaaee8" stroke-width=".8" fill="none"/>
<path d="M434.1 454.4h.8M431.3 418.5h.8M443.0 422.1h.8M443.7 419.0h.8M450.6 416.6h.8M429.0 454.2h.8M445.5 423.0h.8M433.5 454.4h.8M467.5 457.6h.8M432.7 419.0h.8M437.0 427.4h.8M424.7 419.8h.8M444.9 419.3h.8M440.3 427.2h.8M450.5 418.3h.8M426.7 428.9h.8M435.6 418.6h.8M431.1 418.7h.8M443.0 420.4h.8M441.0 418.5h.8M444.9 420.1h.8M438.4 418.2h.8M438.6 427.9h.8M430.2 429.7h.8M425.2 421.2h.8M443.1 419.5h.8M426.3 419.9h.8M422.8 425.0h.8M430.0 429.3h.8M428.3 419.9h.8M423.1 423.6h.8M439.6 416.6h.8M468.3 458.1h.8M435.3 429.5h.8M441.5 419.5h.8M434.7 418.5h.8M432.0 417.9h.8M422.9 422.8h.8M438.1 417.6h.8M421.9 422.9h.8M422.8 424.4h.8M441.7 425.5h.8M421.6 423.2h.8M424.0 426.4h.8M433.3 417.0h.8M427.1 420.1h.8M442.8 420.7h.8M437.3 418.6h.8M436.1 429.8h.8M445.1 423.8h.8M423.6 426.1h.8M427.7 430.3h.8M429.1 453.3h.8M445.4 422.5h.8M443.2 419.9h.8M439.5 416.8h.8M443.8 422.4h.8M433.9 418.6h.8M435.0 419.3h.8M433.7 418.0h.8M443.6 420.2h.8M433.8 429.0h.8M441.7 425.4h.8M444.1 422.6h.8M445.6 421.2h.8M439.6 427.4h.8M422.6 424.7h.8" stroke="#7b82d8" stroke-width=".8" fill="none"/>
<path d="M440.4 420.1h.8M439.0 419.1h.8M428.7 428.8h.8M434.9 428.1h.8M432.8 417.6h.8M443.6 424.0h.8M424.0 422.9h.8M425.1 422.0h.8M440.7 419.3h.8M426.5 427.6h.8M439.6 418.9h.8M429.1 421.3h.8M428.1 428.8h.8M424.3 425.3h.8M434.9 427.5h.8M432.2 428.9h.8M439.1 427.2h.8M427.4 420.6h.8M425.6 426.3h.8M430.0 421.0h.8M425.7 420.9h.8M433.2 417.7h.8M442.5 423.9h.8M435.8 419.7h.8M434.7 427.6h.8M438.4 418.6h.8M443.2 424.6h.8M441.0 425.3h.8M443.1 423.4h.8M438.3 420.1h.8M439.7 417.8h.8M442.0 422.6h.8M440.5 420.5h.8M439.7 426.9h.8M443.7 423.3h.8M441.8 421.7h.8M432.2 428.3h.8M439.2 427.0h.8M423.8 422.5h.8M442.8 424.8h.8M439.5 417.4h.8M423.7 423.0h.8M424.6 426.8h.8M425.5 427.0h.8M427.1 421.2h.8M441.1 422.2h.8M431.4 429.3h.8M424.6 425.4h.8M429.5 420.5h.8M425.0 426.3h.8M434.8 427.3h.8M427.5 428.6h.8M435.9 420.0h.8M424.3 427.1h.8M427.5 428.3h.8M427.8 427.4h.8M432.3 417.6h.8M427.9 429.2h.8M424.7 422.0h.8M441.3 423.2h.8M426.7 427.8h.8M439.8 418.5h.8M441.5 420.8h.8M437.8 419.7h.8M431.7 428.8h.8M441.9 424.8h.8M439.9 419.8h.8M443.4 424.3h.8M428.4 420.7h.8M440.7 421.2h.8M426.2 426.9h.8M429.0 421.0h.8M439.4 419.7h.8" stroke="#4458c4" stroke-width=".8" fill="none"/>
<path d="M438.7 420.2h.8M429.6 427.8h.8M442.1 424.2h.8M426.9 422.1h.8M426.9 421.8h.8M430.9 428.7h.8M439.4 422.5h.8M441.2 423.2h.8M426.3 422.2h.8M425.5 422.5h.8M441.2 425.0h.8M442.0 423.6h.8M427.0 421.9h.8M431.3 420.1h.8M434.6 420.1h.8M438.8 421.3h.8M432.1 419.9h.8M430.1 427.6h.8M436.6 420.5h.8M430.5 419.7h.8M440.9 424.0h.8M430.4 420.7h.8M437.5 420.6h.8M432.7 420.0h.8M427.2 427.1h.8M439.5 422.1h.8M425.4 422.7h.8M439.2 421.8h.8M440.1 421.9h.8M425.4 421.4h.8M430.6 428.5h.8M440.7 424.5h.8M440.8 423.9h.8M432.0 427.8h.8M430.6 420.3h.8M439.3 421.3h.8M431.0 429.3h.8M434.6 419.8h.8M440.2 421.5h.8M427.1 426.4h.8M438.9 423.0h.8M439.6 425.7h.8M430.6 427.6h.8M439.0 423.0h.8M436.7 427.0h.8M428.2 422.1h.8M425.0 422.7h.8M431.4 427.4h.8M437.9 420.6h.8M439.2 419.5h.8M436.4 426.6h.8M424.6 423.7h.8M424.6 423.1h.8M429.4 427.5h.8M438.2 425.6h.8M430.6 427.6h.8M430.4 421.1h.8M431.6 420.2h.8M425.5 423.6h.8M427.0 422.9h.8M439.3 422.0h.8M426.9 421.7h.8M426.4 421.7h.8M440.3 422.5h.8M442.1 424.3h.8M424.8 423.4h.8M440.3 424.5h.8M440.9 422.4h.8M431.3 427.6h.8M438.8 421.8h.8M428.3 428.0h.8M437.5 420.3h.8M440.0 422.9h.8M437.5 420.8h.8M425.8 423.8h.8M438.7 419.4h.8M428.3 421.6h.8M426.2 424.3h.8M437.5 425.4h.8M432.7 427.4h.8M437.6 420.4h.8M426.0 424.9h.8M424.9 424.2h.8M439.5 426.1h.8M430.8 421.5h.8M431.1 420.6h.8M440.0 422.6h.8M439.0 423.1h.8M432.6 427.3h.8M425.1 424.1h.8M426.8 427.0h.8M431.2 419.7h.8M430.2 427.6h.8M436.6 426.5h.8" stroke="#2c7cc6" stroke-width=".8" fill="none"/>
<path d="M439.6 425.2h.8M429.8 426.3h.8M439.1 424.4h.8M426.6 424.6h.8M426.8 424.0h.8M432.5 422.7h.8M433.2 427.3h.8M431.7 422.2h.8M436.1 426.8h.8M433.7 427.1h.8M439.3 424.7h.8M437.6 424.3h.8M437.6 423.0h.8M438.8 425.6h.8M435.7 426.5h.8M438.3 423.6h.8M433.2 426.5h.8M438.3 425.6h.8M431.7 426.8h.8M438.5 425.3h.8M438.0 422.2h.8M432.1 421.6h.8M431.3 426.3h.8M432.1 420.9h.8M434.2 423.3h.8M436.5 425.4h.8M429.8 427.3h.8M434.1 427.1h.8M432.6 422.6h.8M436.8 425.9h.8M432.9 423.1h.8M428.5 421.8h.8M426.5 424.4h.8M438.3 424.6h.8M437.5 423.5h.8M426.6 425.5h.8M426.9 424.2h.8M438.9 426.2h.8M438.8 423.8h.8M429.1 426.6h.8M436.1 421.2h.8M433.8 426.6h.8M439.9 425.0h.8M438.0 424.0h.8M437.9 421.4h.8M427.5 426.9h.8M438.0 424.8h.8M426.6 425.3h.8M439.7 423.9h.8M427.1 424.4h.8M431.3 421.6h.8M426.6 425.2h.8M426.4 424.0h.8M429.5 427.1h.8M426.7 424.0h.8M436.8 425.4h.8M439.0 424.0h.8M437.7 425.0h.8M429.0 422.2h.8M430.7 426.8h.8M439.1 424.6h.8M439.9 424.9h.8M435.4 421.3h.8M428.9 427.2h.8M440.2 423.9h.8M432.9 422.9h.8M440.0 425.2h.8M438.3 425.8h.8M437.6 421.8h.8M428.4 426.6h.8M428.8 422.2h.8M426.6 424.6h.8M427.1 423.8h.8M439.1 424.0h.8M435.0 427.2h.8M426.8 425.6h.8M426.4 425.8h.8M438.8 424.4h.8M436.1 420.3h.8M437.8 423.6h.8M431.6 421.9h.8M427.6 422.7h.8M430.7 426.6h.8M431.4 420.4h.8M427.0 425.4h.8M433.1 427.0h.8M430.2 427.1h.8M432.3 421.7h.8M435.3 426.5h.8M431.8 421.2h.8M430.9 426.4h.8M428.3 426.3h.8M439.1 426.1h.8M432.8 426.7h.8M435.9 421.1h.8M431.3 420.3h.8M429.8 426.9h.8M434.8 426.5h.8M429.0 421.8h.8M436.1 426.8h.8M428.0 423.1h.8M428.6 421.6h.8M427.4 426.3h.8M426.7 426.2h.8M432.1 421.6h.8M433.1 427.2h.8M438.3 423.3h.8" stroke="#22a2aa" stroke-width=".8" fill="none"/>
<path d="M427.7 425.1h.8M430.4 425.6h.8M432.0 422.6h.8M434.9 423.4h.8M431.8 422.3h.8M436.8 422.7h.8M435.2 425.9h.8M431.1 425.5h.8M432.5 423.6h.8M435.7 423.3h.8M430.5 422.7h.8M435.3 424.8h.8M436.3 421.9h.8M432.9 426.0h.8M435.5 424.9h.8M435.6 425.1h.8M433.7 426.2h.8M429.2 422.9h.8M427.7 426.3h.8M433.6 423.5h.8M433.5 425.5h.8M429.0 423.2h.8M428.8 422.9h.8M428.6 423.1h.8M431.3 425.9h.8M433.2 420.5h.8M436.3 423.5h.8M436.9 423.4h.8M433.5 425.4h.8M436.5 425.0h.8M427.3 425.7h.8M432.8 425.5h.8M431.5 423.0h.8M433.0 423.5h.8M427.4 424.9h.8M427.6 425.2h.8M433.2 420.9h.8M434.6 422.0h.8M433.9 425.5h.8M429.6 425.7h.8M437.1 421.9h.8M435.9 425.8h.8M434.4 421.1h.8M429.3 423.2h.8M434.1 421.3h.8M436.3 423.0h.8M427.8 425.6h.8M433.7 426.0h.8M436.5 423.4h.8M435.2 422.0h.8M434.0 421.2h.8M431.0 422.6h.8M436.0 421.8h.8M433.7 421.8h.8M435.0 424.6h.8M434.7 422.1h.8M427.6 425.0h.8M434.2 420.4h.8M430.5 422.5h.8M434.3 420.6h.8M427.6 423.4h.8M428.5 425.7h.8M432.1 425.7h.8M435.1 426.0h.8M429.4 422.4h.8M435.3 425.9h.8M436.0 425.2h.8M436.4 422.1h.8M434.1 420.8h.8M436.4 423.0h.8M435.5 424.4h.8M432.4 421.4h.8M429.0 425.8h.8M434.1 423.6h.8M436.5 424.8h.8M428.4 425.8h.8M437.3 425.0h.8M436.6 424.7h.8M436.1 422.0h.8M436.8 422.7h.8M433.9 421.0h.8M433.5 423.7h.8M435.2 426.0h.8M434.2 421.7h.8M430.8 422.5h.8M428.8 422.3h.8M430.1 425.7h.8M428.2 423.5h.8M434.7 423.6h.8M434.4 424.3h.8M433.1 422.3h.8M437.0 424.6h.8M429.9 422.6h.8M437.0 422.2h.8M432.2 426.2h.8M430.7 422.4h.8M434.8 421.1h.8M434.1 420.5h.8M434.8 422.1h.8M429.0 425.7h.8M430.8 423.0h.8M428.9 425.5h.8M436.4 424.5h.8M435.7 426.2h.8M435.8 424.1h.8M435.1 424.7h.8M434.6 425.2h.8M433.7 420.9h.8M436.5 424.4h.8M429.0 423.3h.8M429.1 425.4h.8M430.4 426.2h.8M432.9 422.2h.8M433.0 425.9h.8M432.4 424.0h.8M433.7 420.4h.8M433.8 424.1h.8M436.4 424.2h.8M434.4 421.8h.8M429.7 425.6h.8M433.5 425.6h.8M429.6 422.6h.8M434.0 423.8h.8M435.7 424.9h.8M432.5 420.5h.8M433.6 421.0h.8M434.8 420.6h.8M434.9 423.7h.8M435.1 425.7h.8M436.2 425.7h.8M432.6 420.7h.8M434.7 424.2h.8M436.5 422.4h.8M434.8 422.2h.8M427.5 425.9h.8M436.9 422.4h.8M433.1 424.3h.8M436.7 422.8h.8M433.7 421.2h.8M429.0 422.6h.8M435.7 425.8h.8M431.7 425.3h.8M429.9 423.1h.8M433.1 420.5h.8M433.8 421.2h.8M436.6 421.8h.8M429.7 426.2h.8M431.4 426.2h.8M433.7 422.0h.8M433.5 425.5h.8M427.6 426.1h.8M429.1 426.1h.8M436.8 421.9h.8M435.5 421.9h.8M436.3 421.5h.8M427.9 424.2h.8M434.9 425.4h.8M429.8 422.6h.8" stroke="#4cb54e" stroke-width=".8" fill="none"/>
<path d="M429.7 424.9h.8M430.3 424.0h.8M429.8 424.9h.8M433.4 424.7h.8M432.0 425.2h.8M429.1 423.8h.8M430.2 423.8h.8M430.9 425.2h.8M435.5 423.0h.8M428.3 424.4h.8M432.0 425.0h.8M429.2 425.2h.8M431.6 423.4h.8M430.0 425.3h.8M429.1 423.4h.8M432.3 424.9h.8M431.6 424.5h.8M434.8 422.4h.8M430.8 423.4h.8M435.4 423.0h.8M435.6 422.5h.8M429.5 423.8h.8M430.5 423.7h.8M429.3 424.5h.8M431.3 425.3h.8M431.5 423.6h.8M432.3 425.0h.8M431.7 424.7h.8M431.9 424.7h.8M435.3 422.9h.8M431.4 425.1h.8M428.8 423.5h.8M431.6 423.5h.8M430.4 424.0h.8M428.5 425.0h.8M432.4 425.3h.8M432.0 423.4h.8M435.1 423.3h.8M429.2 425.1h.8M429.0 423.8h.8M431.0 424.5h.8M433.4 424.3h.8M430.1 424.8h.8M433.5 424.5h.8M435.9 423.3h.8M431.5 425.2h.8M433.5 424.5h.8M434.0 424.6h.8M432.4 424.4h.8M429.4 425.0h.8M430.2 424.3h.8M433.4 424.8h.8M430.5 423.4h.8M435.2 423.2h.8M428.3 424.0h.8M434.7 422.6h.8M430.8 423.5h.8M435.5 423.2h.8M428.7 423.8h.8M431.4 424.2h.8M432.2 423.4h.8M429.9 424.8h.8M431.5 425.2h.8M429.2 423.5h.8M435.9 422.4h.8M435.2 423.0h.8M432.6 425.1h.8M436.0 422.9h.8M429.9 423.5h.8M431.7 424.1h.8M431.8 423.6h.8M434.5 423.0h.8M430.5 425.1h.8M431.6 424.5h.8M429.0 425.2h.8M430.1 423.4h.8M430.8 424.1h.8M435.6 422.3h.8M431.8 424.7h.8M429.6 423.6h.8M431.9 423.8h.8M428.7 423.9h.8M430.4 423.5h.8M432.2 424.7h.8M434.0 425.0h.8M428.8 425.2h.8M435.1 422.6h.8M428.9 424.0h.8M435.2 423.3h.8M430.4 425.0h.8M433.9 425.1h.8M428.6 424.4h.8" stroke="#b8cf2c" stroke-width=".8" fill="none"/>
<path d="M416.3 436.1H442.5L467.7 414.3" fill="none" stroke="#555" stroke-width="0.8"/>
<path d="M476.6 418.4L447.7 440.6V474.6" fill="none" stroke="#555" stroke-width="0.8"/>
<rect x="416.3" y="414.3" width="60.3" height="60.3" fill="none" stroke="#111" stroke-width="1.25"/>
<text x="410.6" y="408.6" font-size="8" text-anchor="end" fill="#222">74%</text>
<text x="474.5" y="408.6" font-size="8" text-anchor="end" fill="#222">50%</text>
<text x="410.6" y="472.3" font-size="8" text-anchor="end" fill="#222">50%</text>
<text x="474.5" y="472.3" font-size="8" text-anchor="end" fill="#222">5%</text>
<text x="483" y="381.3" font-size="7.9" fill="#222">Day 3</text>
<text x="483" y="448" font-size="7.9" fill="#222">Day 13</text>
<text x="344.8" y="367.8" font-size="9" text-anchor="middle" transform="rotate(-90 344.8 367.8)" fill="#222">CD2</text>
<text x="458.9" y="488.8" font-size="8.6" text-anchor="middle" fill="#222">CD33</text>
<line x1="347.9" y1="354.5" x2="347.9" y2="480.2" stroke="#333" stroke-width="1.2"/>
<line x1="347.3" y1="479.6" x2="473" y2="479.6" stroke="#333" stroke-width="1.2"/>
<path d="M347.9 349.9L351.3 355.8L344.5 355.8Z" fill="#000"/>
<path d="M478.2 479.6L472.2 476.6L472.2 482.6Z" fill="#000"/>
<text x="14.4" y="507.4" font-size="11.8" font-weight="bold" fill="#000">I</text>
<text x="98.3" y="516.8" font-size="8.2" text-anchor="middle" font-weight="bold" fill="#000">CD69</text>
<text x="73.4" y="525.1" font-size="6.1" text-anchor="middle" fill="#222">HLA-A2<tspan font-size="4.3" dy="-2.2">–</tspan></text>
<line x1="56.2" y1="527.4" x2="89.9" y2="527.4" stroke="#333" stroke-width="0.9"/>
<text x="123.2" y="525.1" font-size="6.1" text-anchor="middle" fill="#222">HLA-A2<tspan font-size="4.3" dy="-2.2">+</tspan></text>
<line x1="106.2" y1="527.4" x2="140" y2="527.4" stroke="#333" stroke-width="0.9"/>
<line x1="48.7" y1="530.3" x2="48.7" y2="613.6" stroke="#1a1a1a" stroke-width="1.1"/>
<line x1="45.9" y1="530.8" x2="48.7" y2="530.8" stroke="#1a1a1a" stroke-width="1"/>
<text x="42.7" y="533.8" font-size="8.5" text-anchor="end" textLength="8.51" lengthAdjust="spacingAndGlyphs">50</text>
<line x1="45.9" y1="547.36" x2="48.7" y2="547.36" stroke="#1a1a1a" stroke-width="1"/>
<text x="42.7" y="550.36" font-size="8.5" text-anchor="end" textLength="8.51" lengthAdjust="spacingAndGlyphs">40</text>
<line x1="45.9" y1="563.92" x2="48.7" y2="563.92" stroke="#1a1a1a" stroke-width="1"/>
<text x="42.7" y="566.92" font-size="8.5" text-anchor="end" textLength="8.51" lengthAdjust="spacingAndGlyphs">30</text>
<line x1="45.9" y1="580.48" x2="48.7" y2="580.48" stroke="#1a1a1a" stroke-width="1"/>
<text x="42.7" y="583.48" font-size="8.5" text-anchor="end" textLength="8.51" lengthAdjust="spacingAndGlyphs">20</text>
<line x1="45.9" y1="597.04" x2="48.7" y2="597.04" stroke="#1a1a1a" stroke-width="1"/>
<text x="42.7" y="600.04" font-size="8.5" text-anchor="end" textLength="8.51" lengthAdjust="spacingAndGlyphs">10</text>
<line x1="45.9" y1="613.6" x2="48.7" y2="613.6" stroke="#1a1a1a" stroke-width="1"/>
<text x="42.7" y="616.6" font-size="8.5" text-anchor="end" textLength="4.25" lengthAdjust="spacingAndGlyphs">0</text>
<text x="27.9" y="571.6" font-size="9.5" text-anchor="middle" textLength="29.3" lengthAdjust="spacingAndGlyphs" transform="rotate(-90 27.9 571.6)">MFI ratio</text>
<line x1="98.6" y1="530.5" x2="98.6" y2="613.6" stroke="#555" stroke-width="0.8" stroke-dasharray="1,1.6"/>
<rect x="53.1" y="609.96" width="15.6" height="3.64" fill="#e8939f"/>
<rect x="78.1" y="609.29" width="15.6" height="4.31" fill="#e8939f"/>
<rect x="102.8" y="608.63" width="15.6" height="4.97" fill="#e8939f"/>
<rect x="127.8" y="575.51" width="15.8" height="38.09" fill="#e8939f"/>
<line x1="135.7" y1="566.4" x2="135.7" y2="584.62" stroke="#444444" stroke-width="0.9"/>
<line x1="131.9" y1="566.4" x2="139.5" y2="566.4" stroke="#444444" stroke-width="0.9"/>
<line x1="131.9" y1="584.62" x2="139.5" y2="584.62" stroke="#444444" stroke-width="0.9"/>
<line x1="48.7" y1="613.6" x2="146.5" y2="613.6" stroke="#1a1a1a" stroke-width="1.2"/>
<line x1="60.9" y1="613.6" x2="60.9" y2="616.2" stroke="#1a1a1a" stroke-width="1"/>
<line x1="85.9" y1="613.6" x2="85.9" y2="616.2" stroke="#1a1a1a" stroke-width="1"/>
<line x1="110.6" y1="613.6" x2="110.6" y2="616.2" stroke="#1a1a1a" stroke-width="1"/>
<line x1="135.7" y1="613.6" x2="135.7" y2="616.2" stroke="#1a1a1a" stroke-width="1"/>
<path d="M60.6 542.2V536H85.9V542.2" fill="none" stroke="#333" stroke-width="0.9"/>
<text x="73.25" y="534.5" font-size="6.2" text-anchor="middle">ns</text>
<path d="M110.5 542.2V536H135.6V542.2" fill="none" stroke="#333" stroke-width="0.9"/>
<text x="123.05" y="536.8" font-size="7" text-anchor="middle">****</text>
<g fill="#d20a2a" stroke="#220004" stroke-width="0.7">
<circle cx="53.12" cy="610.32" r="1.65"/>
<circle cx="54.88" cy="610.79" r="1.65"/>
<circle cx="55.21" cy="610.19" r="1.65"/>
<circle cx="55.7" cy="610.56" r="1.65"/>
<circle cx="57.41" cy="609.16" r="1.65"/>
<circle cx="57.55" cy="611.6" r="1.65"/>
<circle cx="58.55" cy="609.08" r="1.65"/>
<circle cx="60.51" cy="612.9" r="1.65"/>
<circle cx="61.97" cy="608.31" r="1.65"/>
<circle cx="62.45" cy="610.05" r="1.65"/>
<circle cx="62.65" cy="613.03" r="1.65"/>
<circle cx="64.25" cy="612.81" r="1.65"/>
<circle cx="64.7" cy="611.9" r="1.65"/>
<circle cx="65.45" cy="610.8" r="1.65"/>
<circle cx="67.1" cy="608.92" r="1.65"/>
<circle cx="68.23" cy="609.92" r="1.65"/>
<circle cx="78.3" cy="610.14" r="1.65"/>
<circle cx="79.3" cy="611.86" r="1.65"/>
<circle cx="81.24" cy="608.65" r="1.65"/>
<circle cx="82.06" cy="609.94" r="1.65"/>
<circle cx="82.29" cy="612.08" r="1.65"/>
<circle cx="83.32" cy="612.79" r="1.65"/>
<circle cx="85.15" cy="611.31" r="1.65"/>
<circle cx="86.35" cy="611.38" r="1.65"/>
<circle cx="87.6" cy="609.31" r="1.65"/>
<circle cx="87.14" cy="612.17" r="1.65"/>
<circle cx="89.67" cy="611" r="1.65"/>
<circle cx="90.85" cy="611.33" r="1.65"/>
<circle cx="90.47" cy="610.29" r="1.65"/>
<circle cx="92.67" cy="611.9" r="1.65"/>
<circle cx="92.64" cy="611.62" r="1.65"/>
<circle cx="85.6" cy="599.86" r="1.65"/>
<circle cx="85.6" cy="602.67" r="1.65"/>
<circle cx="85.6" cy="606.98" r="1.65"/>
<circle cx="103.84" cy="609.71" r="1.65"/>
<circle cx="103.43" cy="612" r="1.65"/>
<circle cx="104.34" cy="612.84" r="1.65"/>
<circle cx="106.39" cy="612.31" r="1.65"/>
<circle cx="106.94" cy="611.1" r="1.65"/>
<circle cx="107.29" cy="609.83" r="1.65"/>
<circle cx="108.13" cy="610.23" r="1.65"/>
<circle cx="109.05" cy="611.22" r="1.65"/>
<circle cx="110.14" cy="611.9" r="1.65"/>
<circle cx="112.29" cy="609.51" r="1.65"/>
<circle cx="112.16" cy="609.15" r="1.65"/>
<circle cx="112.95" cy="611.34" r="1.65"/>
<circle cx="114.92" cy="610.23" r="1.65"/>
<circle cx="114.65" cy="608.68" r="1.65"/>
<circle cx="115.77" cy="611.95" r="1.65"/>
<circle cx="117.6" cy="611.63" r="1.65"/>
<circle cx="117.77" cy="612.78" r="1.65"/>
<circle cx="110.8" cy="579.49" r="1.65"/>
<circle cx="110.8" cy="589.92" r="1.65"/>
<circle cx="110.4" cy="606.15" r="1.65"/>
<circle cx="122.5" cy="564.6" r="1.65"/>
<circle cx="128" cy="565.2" r="1.65"/>
<circle cx="133.8" cy="565.9" r="1.65"/>
<circle cx="142.5" cy="564.6" r="1.65"/>
<circle cx="135.6" cy="571.4" r="1.65"/>
<circle cx="135.6" cy="578.9" r="1.65"/>
<circle cx="130" cy="584.5" r="1.65"/>
<circle cx="140.5" cy="584.5" r="1.65"/>
<circle cx="135.6" cy="587.2" r="1.65"/>
<circle cx="124.8" cy="592" r="1.65"/>
<circle cx="130" cy="590" r="1.65"/>
<circle cx="140.5" cy="591.3" r="1.65"/>
<circle cx="130" cy="598" r="1.65"/>
<circle cx="135.6" cy="598" r="1.65"/>
<circle cx="124.8" cy="603.8" r="1.65"/>
<circle cx="130" cy="603.8" r="1.65"/>
<circle cx="142.5" cy="603.3" r="1.65"/>
<circle cx="135.6" cy="608.2" r="1.65"/>
<circle cx="126.5" cy="609.5" r="1.65"/>
</g>
<text x="62.7" y="622.2" font-size="7.6" text-anchor="end" transform="rotate(-45 62.7 622.2)">Ctrl-TCB</text>
<text x="87.7" y="622.2" font-size="7.6" text-anchor="end" transform="rotate(-45 87.7 622.2)">WT1-TCB*</text>
<text x="112.4" y="622.2" font-size="7.6" text-anchor="end" transform="rotate(-45 112.4 622.2)">Ctrl-TCB</text>
<text x="137.5" y="622.2" font-size="7.6" text-anchor="end" transform="rotate(-45 137.5 622.2)">WT1-TCB*</text>
<text x="244.8" y="516.8" font-size="8.2" text-anchor="middle" font-weight="bold" fill="#000">PD-1</text>
<text x="219.6" y="525.1" font-size="6.1" text-anchor="middle" fill="#222">HLA-A2<tspan font-size="4.3" dy="-2.2">–</tspan></text>
<line x1="203.3" y1="527.4" x2="236.8" y2="527.4" stroke="#333" stroke-width="0.9"/>
<text x="270.1" y="525.1" font-size="6.1" text-anchor="middle" fill="#222">HLA-A2<tspan font-size="4.3" dy="-2.2">+</tspan></text>
<line x1="252.8" y1="527.4" x2="287.4" y2="527.4" stroke="#333" stroke-width="0.9"/>
<line x1="195.7" y1="530.3" x2="195.7" y2="613.6" stroke="#1a1a1a" stroke-width="1.1"/>
<line x1="192.9" y1="530.8" x2="195.7" y2="530.8" stroke="#1a1a1a" stroke-width="1"/>
<text x="189.7" y="533.8" font-size="8.5" text-anchor="end" textLength="8.51" lengthAdjust="spacingAndGlyphs">50</text>
<line x1="192.9" y1="547.36" x2="195.7" y2="547.36" stroke="#1a1a1a" stroke-width="1"/>
<text x="189.7" y="550.36" font-size="8.5" text-anchor="end" textLength="8.51" lengthAdjust="spacingAndGlyphs">40</text>
<line x1="192.9" y1="563.92" x2="195.7" y2="563.92" stroke="#1a1a1a" stroke-width="1"/>
<text x="189.7" y="566.92" font-size="8.5" text-anchor="end" textLength="8.51" lengthAdjust="spacingAndGlyphs">30</text>
<line x1="192.9" y1="580.48" x2="195.7" y2="580.48" stroke="#1a1a1a" stroke-width="1"/>
<text x="189.7" y="583.48" font-size="8.5" text-anchor="end" textLength="8.51" lengthAdjust="spacingAndGlyphs">20</text>
<line x1="192.9" y1="597.04" x2="195.7" y2="597.04" stroke="#1a1a1a" stroke-width="1"/>
<text x="189.7" y="600.04" font-size="8.5" text-anchor="end" textLength="8.51" lengthAdjust="spacingAndGlyphs">10</text>
<line x1="192.9" y1="613.6" x2="195.7" y2="613.6" stroke="#1a1a1a" stroke-width="1"/>
<text x="189.7" y="616.6" font-size="8.5" text-anchor="end" textLength="4.25" lengthAdjust="spacingAndGlyphs">0</text>
<text x="174.9" y="571.6" font-size="9.5" text-anchor="middle" textLength="29.3" lengthAdjust="spacingAndGlyphs" transform="rotate(-90 174.9 571.6)">MFI ratio</text>
<line x1="245.6" y1="530.5" x2="245.6" y2="613.6" stroke="#555" stroke-width="0.8" stroke-dasharray="1,1.6"/>
<rect x="200" y="610.62" width="15.6" height="2.98" fill="#e8939f"/>
<rect x="225.6" y="610.45" width="15.6" height="3.15" fill="#e8939f"/>
<rect x="249.9" y="609.96" width="15.6" height="3.64" fill="#e8939f"/>
<rect x="274.7" y="596.05" width="15.8" height="17.55" fill="#e8939f"/>
<line x1="282.6" y1="591.74" x2="282.6" y2="600.52" stroke="#444444" stroke-width="0.9"/>
<line x1="278.8" y1="591.74" x2="286.4" y2="591.74" stroke="#444444" stroke-width="0.9"/>
<line x1="278.8" y1="600.52" x2="286.4" y2="600.52" stroke="#444444" stroke-width="0.9"/>
<line x1="195.7" y1="613.6" x2="294.7" y2="613.6" stroke="#1a1a1a" stroke-width="1.2"/>
<line x1="207.8" y1="613.6" x2="207.8" y2="616.2" stroke="#1a1a1a" stroke-width="1"/>
<line x1="233.4" y1="613.6" x2="233.4" y2="616.2" stroke="#1a1a1a" stroke-width="1"/>
<line x1="257.7" y1="613.6" x2="257.7" y2="616.2" stroke="#1a1a1a" stroke-width="1"/>
<line x1="282.6" y1="613.6" x2="282.6" y2="616.2" stroke="#1a1a1a" stroke-width="1"/>
<path d="M207.5 542.2V536H233.4V542.2" fill="none" stroke="#333" stroke-width="0.9"/>
<text x="220.45" y="534.5" font-size="6.2" text-anchor="middle">ns</text>
<path d="M257.6 542.2V536H282.9V542.2" fill="none" stroke="#333" stroke-width="0.9"/>
<text x="270.25" y="536.8" font-size="7" text-anchor="middle">****</text>
<g fill="#d20a2a" stroke="#220004" stroke-width="0.7">
<circle cx="199.64" cy="610.21" r="1.65"/>
<circle cx="200.89" cy="610.12" r="1.65"/>
<circle cx="202.09" cy="610.85" r="1.65"/>
<circle cx="204.03" cy="610.7" r="1.65"/>
<circle cx="204.42" cy="608.8" r="1.65"/>
<circle cx="204.79" cy="612.34" r="1.65"/>
<circle cx="206.95" cy="609.04" r="1.65"/>
<circle cx="206.9" cy="612.16" r="1.65"/>
<circle cx="208.68" cy="608.43" r="1.65"/>
<circle cx="208.81" cy="608.38" r="1.65"/>
<circle cx="210.91" cy="610.1" r="1.65"/>
<circle cx="211.17" cy="612.59" r="1.65"/>
<circle cx="211.56" cy="608.32" r="1.65"/>
<circle cx="212.88" cy="609.6" r="1.65"/>
<circle cx="213.91" cy="609.01" r="1.65"/>
<circle cx="215.45" cy="611.65" r="1.65"/>
<circle cx="225.38" cy="609.88" r="1.65"/>
<circle cx="226.28" cy="612.08" r="1.65"/>
<circle cx="228.14" cy="609.29" r="1.65"/>
<circle cx="229.3" cy="611.85" r="1.65"/>
<circle cx="230.85" cy="612.19" r="1.65"/>
<circle cx="230.48" cy="611.9" r="1.65"/>
<circle cx="232.24" cy="612.83" r="1.65"/>
<circle cx="232.88" cy="611.45" r="1.65"/>
<circle cx="234.59" cy="612.51" r="1.65"/>
<circle cx="235.32" cy="609.12" r="1.65"/>
<circle cx="237.38" cy="610.17" r="1.65"/>
<circle cx="237.99" cy="610.49" r="1.65"/>
<circle cx="238.18" cy="612.95" r="1.65"/>
<circle cx="239.06" cy="609.03" r="1.65"/>
<circle cx="241.22" cy="608.8" r="1.65"/>
<circle cx="234" cy="606.98" r="1.65"/>
<circle cx="249.73" cy="610.68" r="1.65"/>
<circle cx="251.5" cy="610.32" r="1.65"/>
<circle cx="252.27" cy="609.3" r="1.65"/>
<circle cx="252.91" cy="611.02" r="1.65"/>
<circle cx="254.99" cy="609.67" r="1.65"/>
<circle cx="256.02" cy="610.42" r="1.65"/>
<circle cx="257.14" cy="609.62" r="1.65"/>
<circle cx="257.46" cy="610.49" r="1.65"/>
<circle cx="259.37" cy="609.79" r="1.65"/>
<circle cx="259.62" cy="610.09" r="1.65"/>
<circle cx="261.37" cy="610.92" r="1.65"/>
<circle cx="262.01" cy="611.65" r="1.65"/>
<circle cx="262.98" cy="610.78" r="1.65"/>
<circle cx="263.2" cy="610.67" r="1.65"/>
<circle cx="265.69" cy="609.75" r="1.65"/>
<circle cx="257.7" cy="593.23" r="1.65"/>
<circle cx="257.7" cy="603.17" r="1.65"/>
<circle cx="257.7" cy="607.97" r="1.65"/>
<circle cx="282.4" cy="548" r="1.65"/>
<circle cx="283.7" cy="566.9" r="1.65"/>
<circle cx="281.4" cy="569.6" r="1.65"/>
<circle cx="282.4" cy="583.8" r="1.65"/>
<circle cx="279.9" cy="585.9" r="1.65"/>
<circle cx="284.8" cy="585.9" r="1.65"/>
<circle cx="284.8" cy="592.9" r="1.65"/>
<circle cx="282.4" cy="596" r="1.65"/>
<circle cx="276.1" cy="600.3" r="1.65"/>
<circle cx="279.3" cy="601.3" r="1.65"/>
<circle cx="287.3" cy="600.9" r="1.65"/>
<circle cx="289.4" cy="603" r="1.65"/>
<circle cx="282.4" cy="603.5" r="1.65"/>
<circle cx="277.8" cy="605.6" r="1.65"/>
<circle cx="285.6" cy="605.6" r="1.65"/>
<circle cx="282.4" cy="608.8" r="1.65"/>
<circle cx="277.8" cy="609.6" r="1.65"/>
<circle cx="287.3" cy="609.8" r="1.65"/>
<circle cx="280.5" cy="611.5" r="1.65"/>
</g>
<text x="209.6" y="622.2" font-size="7.6" text-anchor="end" transform="rotate(-45 209.6 622.2)">Ctrl-TCB</text>
<text x="235.2" y="622.2" font-size="7.6" text-anchor="end" transform="rotate(-45 235.2 622.2)">WT1-TCB*</text>
<text x="259.5" y="622.2" font-size="7.6" text-anchor="end" transform="rotate(-45 259.5 622.2)">Ctrl-TCB</text>
<text x="284.4" y="622.2" font-size="7.6" text-anchor="end" transform="rotate(-45 284.4 622.2)">WT1-TCB*</text>
<text x="387.1" y="516.8" font-size="8.2" text-anchor="middle" font-weight="bold" fill="#000">TIM-3</text>
<text x="362.5" y="525.1" font-size="6.1" text-anchor="middle" fill="#222">HLA-A2<tspan font-size="4.3" dy="-2.2">–</tspan></text>
<line x1="345.6" y1="527.4" x2="379.2" y2="527.4" stroke="#333" stroke-width="0.9"/>
<text x="412.4" y="525.1" font-size="6.1" text-anchor="middle" fill="#222">HLA-A2<tspan font-size="4.3" dy="-2.2">+</tspan></text>
<line x1="395" y1="527.4" x2="429.3" y2="527.4" stroke="#333" stroke-width="0.9"/>
<line x1="337.5" y1="530.3" x2="337.5" y2="613.6" stroke="#1a1a1a" stroke-width="1.1"/>
<line x1="334.7" y1="530.8" x2="337.5" y2="530.8" stroke="#1a1a1a" stroke-width="1"/>
<text x="331.5" y="533.8" font-size="8.5" text-anchor="end" textLength="8.51" lengthAdjust="spacingAndGlyphs">50</text>
<line x1="334.7" y1="547.36" x2="337.5" y2="547.36" stroke="#1a1a1a" stroke-width="1"/>
<text x="331.5" y="550.36" font-size="8.5" text-anchor="end" textLength="8.51" lengthAdjust="spacingAndGlyphs">40</text>
<line x1="334.7" y1="563.92" x2="337.5" y2="563.92" stroke="#1a1a1a" stroke-width="1"/>
<text x="331.5" y="566.92" font-size="8.5" text-anchor="end" textLength="8.51" lengthAdjust="spacingAndGlyphs">30</text>
<line x1="334.7" y1="580.48" x2="337.5" y2="580.48" stroke="#1a1a1a" stroke-width="1"/>
<text x="331.5" y="583.48" font-size="8.5" text-anchor="end" textLength="8.51" lengthAdjust="spacingAndGlyphs">20</text>
<line x1="334.7" y1="597.04" x2="337.5" y2="597.04" stroke="#1a1a1a" stroke-width="1"/>
<text x="331.5" y="600.04" font-size="8.5" text-anchor="end" textLength="8.51" lengthAdjust="spacingAndGlyphs">10</text>
<line x1="334.7" y1="613.6" x2="337.5" y2="613.6" stroke="#1a1a1a" stroke-width="1"/>
<text x="331.5" y="616.6" font-size="8.5" text-anchor="end" textLength="4.25" lengthAdjust="spacingAndGlyphs">0</text>
<text x="316.7" y="571.6" font-size="9.5" text-anchor="middle" textLength="29.3" lengthAdjust="spacingAndGlyphs" transform="rotate(-90 316.7 571.6)">MFI ratio</text>
<line x1="387.1" y1="530.5" x2="387.1" y2="613.6" stroke="#555" stroke-width="0.8" stroke-dasharray="1,1.6"/>
<rect x="342" y="611.94" width="15.6" height="1.66" fill="#e8939f"/>
<rect x="367.1" y="611.61" width="15.6" height="1.99" fill="#e8939f"/>
<rect x="391.8" y="611.61" width="15.6" height="1.99" fill="#e8939f"/>
<rect x="416.8" y="602.84" width="15.8" height="10.76" fill="#e8939f"/>
<line x1="424.7" y1="599.86" x2="424.7" y2="605.65" stroke="#444444" stroke-width="0.9"/>
<line x1="420.9" y1="599.86" x2="428.5" y2="599.86" stroke="#444444" stroke-width="0.9"/>
<line x1="420.9" y1="605.65" x2="428.5" y2="605.65" stroke="#444444" stroke-width="0.9"/>
<line x1="337.5" y1="613.6" x2="436.3" y2="613.6" stroke="#1a1a1a" stroke-width="1.2"/>
<line x1="349.8" y1="613.6" x2="349.8" y2="616.2" stroke="#1a1a1a" stroke-width="1"/>
<line x1="374.9" y1="613.6" x2="374.9" y2="616.2" stroke="#1a1a1a" stroke-width="1"/>
<line x1="399.6" y1="613.6" x2="399.6" y2="616.2" stroke="#1a1a1a" stroke-width="1"/>
<line x1="424.7" y1="613.6" x2="424.7" y2="616.2" stroke="#1a1a1a" stroke-width="1"/>
<path d="M349.7 542.2V536H375V542.2" fill="none" stroke="#333" stroke-width="0.9"/>
<text x="362.35" y="534.5" font-size="6.2" text-anchor="middle">ns</text>
<path d="M399.2 542.2V536H424.5V542.2" fill="none" stroke="#333" stroke-width="0.9"/>
<text x="411.85" y="536.8" font-size="7" text-anchor="middle">****</text>
<g fill="#d20a2a" stroke="#220004" stroke-width="0.7">
<circle cx="343.37" cy="612.4" r="1.65"/>
<circle cx="344.51" cy="612.04" r="1.65"/>
<circle cx="345.17" cy="611.58" r="1.65"/>
<circle cx="345.73" cy="611.74" r="1.65"/>
<circle cx="346.78" cy="612.01" r="1.65"/>
<circle cx="348.64" cy="612.68" r="1.65"/>
<circle cx="350.12" cy="612.2" r="1.65"/>
<circle cx="351.12" cy="611.43" r="1.65"/>
<circle cx="351.68" cy="613.08" r="1.65"/>
<circle cx="352.88" cy="611.87" r="1.65"/>
<circle cx="353.86" cy="612.79" r="1.65"/>
<circle cx="356.12" cy="611.9" r="1.65"/>
<circle cx="356.51" cy="611.48" r="1.65"/>
<circle cx="367.82" cy="611.45" r="1.65"/>
<circle cx="368.75" cy="612.03" r="1.65"/>
<circle cx="370.86" cy="610.83" r="1.65"/>
<circle cx="372.11" cy="612.15" r="1.65"/>
<circle cx="372.77" cy="612.32" r="1.65"/>
<circle cx="373.18" cy="611.87" r="1.65"/>
<circle cx="375.44" cy="610.99" r="1.65"/>
<circle cx="376.37" cy="610.74" r="1.65"/>
<circle cx="376.81" cy="612.68" r="1.65"/>
<circle cx="378.22" cy="612.42" r="1.65"/>
<circle cx="378.98" cy="612.07" r="1.65"/>
<circle cx="380.77" cy="611.88" r="1.65"/>
<circle cx="381.4" cy="611.02" r="1.65"/>
<circle cx="371.5" cy="609.29" r="1.65"/>
<circle cx="393.17" cy="611.98" r="1.65"/>
<circle cx="392.83" cy="613.02" r="1.65"/>
<circle cx="395.21" cy="613" r="1.65"/>
<circle cx="396.06" cy="611.69" r="1.65"/>
<circle cx="396.53" cy="611.14" r="1.65"/>
<circle cx="397.17" cy="612.77" r="1.65"/>
<circle cx="398.97" cy="613.04" r="1.65"/>
<circle cx="400.68" cy="612.51" r="1.65"/>
<circle cx="400.69" cy="612.99" r="1.65"/>
<circle cx="402.58" cy="611.99" r="1.65"/>
<circle cx="403.68" cy="611.48" r="1.65"/>
<circle cx="405.08" cy="610.72" r="1.65"/>
<circle cx="405.99" cy="612.61" r="1.65"/>
<circle cx="406.76" cy="612.66" r="1.65"/>
<circle cx="422.5" cy="588.1" r="1.65"/>
<circle cx="424.7" cy="590.5" r="1.65"/>
<circle cx="422.5" cy="594.9" r="1.65"/>
<circle cx="426.5" cy="596" r="1.65"/>
<circle cx="424.7" cy="599.4" r="1.65"/>
<circle cx="418.5" cy="602.1" r="1.65"/>
<circle cx="427.9" cy="602.1" r="1.65"/>
<circle cx="420.6" cy="605.6" r="1.65"/>
<circle cx="426.5" cy="605.6" r="1.65"/>
<circle cx="418.5" cy="608.3" r="1.65"/>
<circle cx="423.3" cy="608.9" r="1.65"/>
<circle cx="429.2" cy="608.3" r="1.65"/>
<circle cx="424.7" cy="611" r="1.65"/>
<circle cx="420" cy="611.3" r="1.65"/>
<circle cx="428.5" cy="611.2" r="1.65"/>
</g>
<text x="351.6" y="622.2" font-size="7.6" text-anchor="end" transform="rotate(-45 351.6 622.2)">Ctrl-TCB</text>
<text x="376.7" y="622.2" font-size="7.6" text-anchor="end" transform="rotate(-45 376.7 622.2)">WT1-TCB*</text>
<text x="401.4" y="622.2" font-size="7.6" text-anchor="end" transform="rotate(-45 401.4 622.2)">Ctrl-TCB</text>
<text x="426.5" y="622.2" font-size="7.6" text-anchor="end" transform="rotate(-45 426.5 622.2)">WT1-TCB*</text>
</svg>
</body></html>
